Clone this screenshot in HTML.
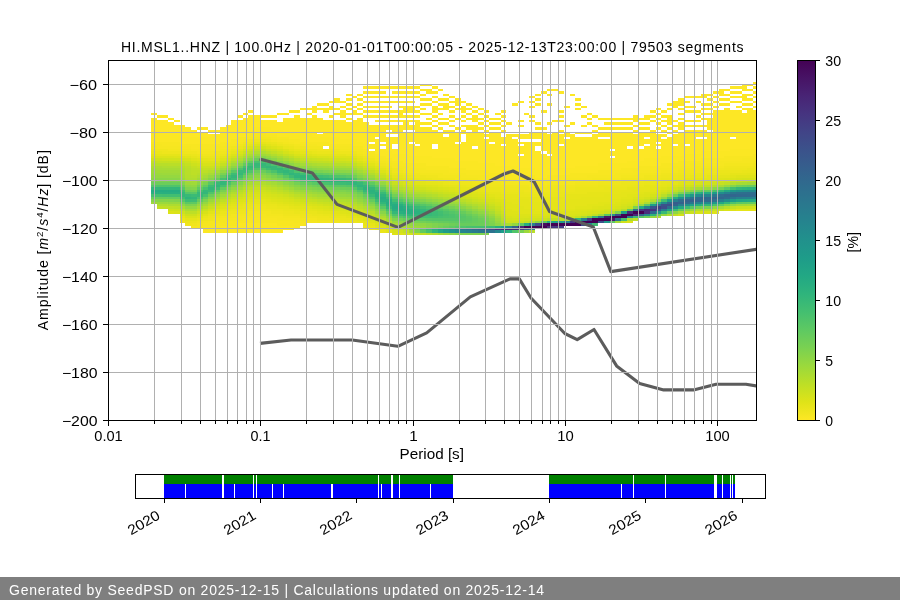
<!DOCTYPE html><html><head><meta charset="utf-8"><style>html,body{margin:0;padding:0;background:#fff;}svg{display:block;will-change:transform;}text{font-family:"Liberation Sans",sans-serif;}</style></head><body>
<svg width="900" height="600" viewBox="0 0 900 600" shape-rendering="crispEdges">
<rect width="900" height="600" fill="#fff"/>
<defs><clipPath id="ax"><rect x="108.0" y="60.0" width="648.0" height="360.0"/></clipPath>
<linearGradient id="cb" x1="0" y1="0" x2="0" y2="1"><stop offset="0" stop-color="#440154"/><stop offset="0.05" stop-color="#471365"/><stop offset="0.1" stop-color="#482475"/><stop offset="0.15" stop-color="#463480"/><stop offset="0.2" stop-color="#414487"/><stop offset="0.25" stop-color="#3b528b"/><stop offset="0.3" stop-color="#355f8d"/><stop offset="0.35" stop-color="#2f6c8e"/><stop offset="0.4" stop-color="#2a788e"/><stop offset="0.45" stop-color="#25848e"/><stop offset="0.5" stop-color="#21918c"/><stop offset="0.55" stop-color="#1e9c89"/><stop offset="0.6" stop-color="#22a884"/><stop offset="0.65" stop-color="#2fb47c"/><stop offset="0.7" stop-color="#44bf70"/><stop offset="0.75" stop-color="#5ec962"/><stop offset="0.8" stop-color="#7ad151"/><stop offset="0.85" stop-color="#9bd93c"/><stop offset="0.9" stop-color="#bddf26"/><stop offset="0.95" stop-color="#dfe318"/><stop offset="1" stop-color="#fde725"/></linearGradient></defs>
<g clip-path="url(#ax)">
<path fill="#fde725" d="M151 112.8h5.73v2.4h-5.73zM151 117.6h5.73v14.4h-5.73zM156.73 115.2h5.73v2.4h-5.73zM156.73 120h5.73v12h-5.73zM162.47 115.2h5.73v2.4h-5.73zM162.47 120h5.73v14.4h-5.73zM168.2 117.6h5.73v2.4h-5.73zM168.2 122.4h5.73v12h-5.73zM173.94 120h5.73v2.4h-5.73zM173.94 124.8h5.73v9.6h-5.73zM179.67 124.8h5.73v9.6h-5.73zM185.4 127.2h5.73v9.6h-5.73zM191.14 129.6h5.73v7.2h-5.73zM196.87 127.2h5.73v2.4h-5.73zM196.87 132h5.73v4.8h-5.73zM202.6 127.2h5.73v2.4h-5.73zM202.6 132h5.73v4.8h-5.73zM208.34 129.6h5.73v2.4h-5.73zM208.34 134.4h5.73v2.4h-5.73zM214.07 129.6h5.73v2.4h-5.73zM219.8 127.2h5.73v7.2h-5.73zM225.54 124.8h5.73v9.6h-5.73zM231.27 120h5.73v12h-5.73zM237 115.2h5.73v2.4h-5.73zM237 120h5.73v12h-5.73zM242.74 112.8h5.73v2.4h-5.73zM242.74 117.6h5.73v12h-5.73zM248.47 110.4h5.73v2.4h-5.73zM248.47 115.2h5.73v14.4h-5.73zM248.47 230.4h5.73v2.4h-5.73zM254.2 115.2h5.73v12h-5.73zM254.2 230.4h5.73v2.4h-5.73zM259.94 115.2h5.73v2.4h-5.73zM259.94 120h5.73v7.2h-5.73zM259.94 230.4h5.73v2.4h-5.73zM265.67 115.2h5.73v2.4h-5.73zM265.67 120h5.73v7.2h-5.73zM265.67 230.4h5.73v2.4h-5.73zM271.4 115.2h5.73v2.4h-5.73zM271.4 120h5.73v9.6h-5.73zM277.14 112.8h5.73v2.4h-5.73zM277.14 122.4h5.73v7.2h-5.73zM282.87 112.8h5.73v2.4h-5.73zM282.87 117.6h5.73v14.4h-5.73zM288.61 110.4h5.73v2.4h-5.73zM288.61 117.6h5.73v14.4h-5.73zM294.34 110.4h5.73v2.4h-5.73zM294.34 115.2h5.73v19.2h-5.73zM300.07 108h5.73v2.4h-5.73zM300.07 117.6h5.73v16.8h-5.73zM305.81 108h5.73v2.4h-5.73zM305.81 112.8h5.73v2.4h-5.73zM305.81 117.6h5.73v16.8h-5.73zM311.54 105.6h5.73v7.2h-5.73zM311.54 115.2h5.73v21.6h-5.73zM317.27 103.2h5.73v2.4h-5.73zM317.27 108h5.73v2.4h-5.73zM317.27 117.6h5.73v14.4h-5.73zM317.27 134.4h5.73v2.4h-5.73zM323.01 103.2h5.73v2.4h-5.73zM323.01 108h5.73v4.8h-5.73zM323.01 120h5.73v16.8h-5.73zM328.74 100.8h5.73v2.4h-5.73zM328.74 105.6h5.73v4.8h-5.73zM328.74 115.2h5.73v2.4h-5.73zM328.74 120h5.73v16.8h-5.73zM334.47 98.4h5.73v4.8h-5.73zM334.47 108h5.73v2.4h-5.73zM334.47 112.8h5.73v2.4h-5.73zM334.47 120h5.73v16.8h-5.73zM340.21 100.8h5.73v2.4h-5.73zM340.21 105.6h5.73v2.4h-5.73zM340.21 110.4h5.73v7.2h-5.73zM340.21 120h5.73v19.2h-5.73zM345.94 93.6h5.73v2.4h-5.73zM345.94 98.4h5.73v2.4h-5.73zM345.94 103.2h5.73v2.4h-5.73zM345.94 108h5.73v2.4h-5.73zM345.94 112.8h5.73v2.4h-5.73zM345.94 117.6h5.73v2.4h-5.73zM345.94 122.4h5.73v16.8h-5.73zM351.67 96h5.73v2.4h-5.73zM351.67 105.6h5.73v2.4h-5.73zM351.67 110.4h5.73v4.8h-5.73zM351.67 120h5.73v19.2h-5.73zM357.41 93.6h5.73v2.4h-5.73zM357.41 98.4h5.73v2.4h-5.73zM357.41 103.2h5.73v2.4h-5.73zM357.41 108h5.73v2.4h-5.73zM357.41 112.8h5.73v2.4h-5.73zM357.41 117.6h5.73v24h-5.73zM363.14 86.4h5.73v2.4h-5.73zM363.14 91.2h5.73v2.4h-5.73zM363.14 96h5.73v2.4h-5.73zM363.14 100.8h5.73v2.4h-5.73zM363.14 105.6h5.73v2.4h-5.73zM363.14 110.4h5.73v2.4h-5.73zM363.14 115.2h5.73v2.4h-5.73zM363.14 122.4h5.73v21.6h-5.73zM368.87 86.4h5.73v2.4h-5.73zM368.87 91.2h5.73v2.4h-5.73zM368.87 96h5.73v2.4h-5.73zM368.87 100.8h5.73v2.4h-5.73zM368.87 105.6h5.73v2.4h-5.73zM368.87 110.4h5.73v2.4h-5.73zM368.87 115.2h5.73v2.4h-5.73zM368.87 124.8h5.73v16.8h-5.73zM374.61 86.4h5.73v2.4h-5.73zM374.61 91.2h5.73v2.4h-5.73zM374.61 96h5.73v2.4h-5.73zM374.61 100.8h5.73v2.4h-5.73zM374.61 105.6h5.73v2.4h-5.73zM374.61 110.4h5.73v2.4h-5.73zM374.61 115.2h5.73v2.4h-5.73zM374.61 120h5.73v2.4h-5.73zM374.61 124.8h5.73v12h-5.73zM374.61 139.2h5.73v7.2h-5.73zM380.34 86.4h5.73v2.4h-5.73zM380.34 91.2h5.73v2.4h-5.73zM380.34 96h5.73v2.4h-5.73zM380.34 100.8h5.73v2.4h-5.73zM380.34 105.6h5.73v2.4h-5.73zM380.34 110.4h5.73v2.4h-5.73zM380.34 115.2h5.73v2.4h-5.73zM380.34 120h5.73v2.4h-5.73zM380.34 124.8h5.73v16.8h-5.73zM380.34 144h5.73v2.4h-5.73zM386.07 86.4h5.73v2.4h-5.73zM386.07 96h5.73v2.4h-5.73zM386.07 100.8h5.73v2.4h-5.73zM386.07 105.6h5.73v2.4h-5.73zM386.07 110.4h5.73v2.4h-5.73zM386.07 115.2h5.73v2.4h-5.73zM386.07 120h5.73v2.4h-5.73zM386.07 124.8h5.73v4.8h-5.73zM386.07 132h5.73v2.4h-5.73zM386.07 136.8h5.73v14.4h-5.73zM391.81 86.4h5.73v2.4h-5.73zM391.81 91.2h5.73v2.4h-5.73zM391.81 96h5.73v2.4h-5.73zM391.81 100.8h5.73v2.4h-5.73zM391.81 110.4h5.73v2.4h-5.73zM391.81 115.2h5.73v2.4h-5.73zM391.81 120h5.73v2.4h-5.73zM391.81 124.8h5.73v9.6h-5.73zM391.81 136.8h5.73v7.2h-5.73zM391.81 148.8h5.73v4.8h-5.73zM397.54 86.4h5.73v2.4h-5.73zM397.54 91.2h5.73v2.4h-5.73zM397.54 96h5.73v2.4h-5.73zM397.54 100.8h5.73v2.4h-5.73zM397.54 105.6h5.73v2.4h-5.73zM397.54 110.4h5.73v7.2h-5.73zM397.54 120h5.73v2.4h-5.73zM397.54 124.8h5.73v28.8h-5.73zM403.27 86.4h5.73v2.4h-5.73zM403.27 91.2h5.73v2.4h-5.73zM403.27 96h5.73v2.4h-5.73zM403.27 100.8h5.73v2.4h-5.73zM403.27 105.6h5.73v7.2h-5.73zM403.27 115.2h5.73v2.4h-5.73zM403.27 120h5.73v9.6h-5.73zM403.27 132h5.73v21.6h-5.73zM409.01 86.4h5.73v2.4h-5.73zM409.01 91.2h5.73v2.4h-5.73zM409.01 96h5.73v2.4h-5.73zM409.01 100.8h5.73v2.4h-5.73zM409.01 105.6h5.73v7.2h-5.73zM409.01 115.2h5.73v2.4h-5.73zM409.01 120h5.73v2.4h-5.73zM409.01 124.8h5.73v4.8h-5.73zM409.01 132h5.73v9.6h-5.73zM409.01 144h5.73v12h-5.73zM414.74 86.4h5.73v2.4h-5.73zM414.74 91.2h5.73v2.4h-5.73zM414.74 96h5.73v2.4h-5.73zM414.74 105.6h5.73v2.4h-5.73zM414.74 110.4h5.73v2.4h-5.73zM414.74 115.2h5.73v2.4h-5.73zM414.74 120h5.73v24h-5.73zM414.74 146.4h5.73v9.6h-5.73zM420.48 84h5.73v2.4h-5.73zM420.48 88.8h5.73v2.4h-5.73zM420.48 93.6h5.73v2.4h-5.73zM420.48 98.4h5.73v2.4h-5.73zM420.48 103.2h5.73v2.4h-5.73zM420.48 108h5.73v2.4h-5.73zM420.48 112.8h5.73v2.4h-5.73zM420.48 122.4h5.73v2.4h-5.73zM420.48 127.2h5.73v28.8h-5.73zM426.21 84h5.73v2.4h-5.73zM426.21 88.8h5.73v4.8h-5.73zM426.21 98.4h5.73v2.4h-5.73zM426.21 103.2h5.73v2.4h-5.73zM426.21 112.8h5.73v2.4h-5.73zM426.21 117.6h5.73v2.4h-5.73zM426.21 122.4h5.73v2.4h-5.73zM426.21 127.2h5.73v28.8h-5.73zM431.94 86.4h5.73v2.4h-5.73zM431.94 91.2h5.73v2.4h-5.73zM431.94 96h5.73v2.4h-5.73zM431.94 100.8h5.73v2.4h-5.73zM431.94 105.6h5.73v7.2h-5.73zM431.94 115.2h5.73v2.4h-5.73zM431.94 120h5.73v2.4h-5.73zM431.94 124.8h5.73v2.4h-5.73zM431.94 129.6h5.73v14.4h-5.73zM431.94 148.8h5.73v9.6h-5.73zM437.68 88.8h5.73v2.4h-5.73zM437.68 98.4h5.73v2.4h-5.73zM437.68 103.2h5.73v2.4h-5.73zM437.68 108h5.73v2.4h-5.73zM437.68 112.8h5.73v2.4h-5.73zM437.68 117.6h5.73v2.4h-5.73zM437.68 122.4h5.73v2.4h-5.73zM437.68 127.2h5.73v2.4h-5.73zM437.68 132h5.73v26.4h-5.73zM443.41 93.6h5.73v2.4h-5.73zM443.41 98.4h5.73v2.4h-5.73zM443.41 103.2h5.73v7.2h-5.73zM443.41 117.6h5.73v2.4h-5.73zM443.41 122.4h5.73v2.4h-5.73zM443.41 129.6h5.73v4.8h-5.73zM443.41 136.8h5.73v21.6h-5.73zM449.14 96h5.73v2.4h-5.73zM449.14 100.8h5.73v2.4h-5.73zM449.14 105.6h5.73v2.4h-5.73zM449.14 110.4h5.73v2.4h-5.73zM449.14 115.2h5.73v2.4h-5.73zM449.14 120h5.73v2.4h-5.73zM449.14 124.8h5.73v2.4h-5.73zM449.14 129.6h5.73v28.8h-5.73zM454.88 98.4h5.73v7.2h-5.73zM454.88 108h5.73v2.4h-5.73zM454.88 117.6h5.73v2.4h-5.73zM454.88 127.2h5.73v2.4h-5.73zM454.88 132h5.73v9.6h-5.73zM454.88 144h5.73v16.8h-5.73zM460.61 100.8h5.73v2.4h-5.73zM460.61 105.6h5.73v7.2h-5.73zM460.61 115.2h5.73v2.4h-5.73zM460.61 120h5.73v2.4h-5.73zM460.61 124.8h5.73v2.4h-5.73zM460.61 129.6h5.73v4.8h-5.73zM460.61 141.6h5.73v19.2h-5.73zM466.34 103.2h5.73v2.4h-5.73zM466.34 108h5.73v2.4h-5.73zM466.34 112.8h5.73v2.4h-5.73zM466.34 117.6h5.73v2.4h-5.73zM466.34 124.8h5.73v4.8h-5.73zM466.34 132h5.73v28.8h-5.73zM472.08 105.6h5.73v2.4h-5.73zM472.08 110.4h5.73v2.4h-5.73zM472.08 115.2h5.73v7.2h-5.73zM472.08 124.8h5.73v21.6h-5.73zM472.08 148.8h5.73v12h-5.73zM477.81 108h5.73v2.4h-5.73zM477.81 112.8h5.73v2.4h-5.73zM477.81 117.6h5.73v2.4h-5.73zM477.81 122.4h5.73v2.4h-5.73zM477.81 127.2h5.73v2.4h-5.73zM477.81 132h5.73v31.2h-5.73zM483.54 110.4h5.73v2.4h-5.73zM483.54 115.2h5.73v2.4h-5.73zM483.54 120h5.73v2.4h-5.73zM483.54 124.8h5.73v2.4h-5.73zM483.54 129.6h5.73v2.4h-5.73zM483.54 134.4h5.73v2.4h-5.73zM483.54 139.2h5.73v24h-5.73zM489.28 117.6h5.73v2.4h-5.73zM489.28 122.4h5.73v2.4h-5.73zM489.28 127.2h5.73v2.4h-5.73zM489.28 132h5.73v9.6h-5.73zM489.28 144h5.73v19.2h-5.73zM495.01 112.8h5.73v2.4h-5.73zM495.01 117.6h5.73v2.4h-5.73zM495.01 122.4h5.73v2.4h-5.73zM495.01 127.2h5.73v2.4h-5.73zM495.01 132h5.73v33.6h-5.73zM500.74 110.4h5.73v2.4h-5.73zM500.74 115.2h5.73v2.4h-5.73zM500.74 120h5.73v2.4h-5.73zM500.74 124.8h5.73v2.4h-5.73zM500.74 129.6h5.73v2.4h-5.73zM500.74 136.8h5.73v7.2h-5.73zM500.74 146.4h5.73v19.2h-5.73zM506.48 122.4h5.73v2.4h-5.73zM506.48 134.4h5.73v31.2h-5.73zM512.21 103.2h5.73v2.4h-5.73zM512.21 134.4h5.73v2.4h-5.73zM512.21 139.2h5.73v26.4h-5.73zM517.94 100.8h5.73v2.4h-5.73zM517.94 120h5.73v2.4h-5.73zM517.94 124.8h5.73v2.4h-5.73zM517.94 134.4h5.73v4.8h-5.73zM517.94 141.6h5.73v2.4h-5.73zM517.94 146.4h5.73v7.2h-5.73zM517.94 156h5.73v12h-5.73zM523.68 112.8h5.73v2.4h-5.73zM523.68 134.4h5.73v4.8h-5.73zM523.68 141.6h5.73v26.4h-5.73zM529.41 96h5.73v2.4h-5.73zM529.41 100.8h5.73v2.4h-5.73zM529.41 105.6h5.73v2.4h-5.73zM529.41 115.2h5.73v2.4h-5.73zM529.41 120h5.73v2.4h-5.73zM529.41 132h5.73v7.2h-5.73zM529.41 141.6h5.73v26.4h-5.73zM535.15 93.6h5.73v2.4h-5.73zM535.15 98.4h5.73v2.4h-5.73zM535.15 103.2h5.73v2.4h-5.73zM535.15 122.4h5.73v2.4h-5.73zM535.15 127.2h5.73v2.4h-5.73zM535.15 132h5.73v7.2h-5.73zM535.15 141.6h5.73v4.8h-5.73zM535.15 151.2h5.73v19.2h-5.73zM540.88 91.2h5.73v2.4h-5.73zM540.88 110.4h5.73v2.4h-5.73zM540.88 127.2h5.73v2.4h-5.73zM540.88 132h5.73v19.2h-5.73zM540.88 153.6h5.73v16.8h-5.73zM546.61 88.8h5.73v2.4h-5.73zM546.61 93.6h5.73v2.4h-5.73zM546.61 103.2h5.73v2.4h-5.73zM546.61 122.4h5.73v2.4h-5.73zM546.61 134.4h5.73v19.2h-5.73zM546.61 156h5.73v12h-5.73zM552.35 88.8h5.73v2.4h-5.73zM552.35 120h5.73v2.4h-5.73zM552.35 132h5.73v36h-5.73zM558.08 91.2h5.73v2.4h-5.73zM558.08 110.4h5.73v2.4h-5.73zM558.08 115.2h5.73v2.4h-5.73zM558.08 120h5.73v2.4h-5.73zM558.08 129.6h5.73v2.4h-5.73zM558.08 134.4h5.73v9.6h-5.73zM558.08 146.4h5.73v21.6h-5.73zM563.81 105.6h5.73v2.4h-5.73zM563.81 124.8h5.73v2.4h-5.73zM563.81 132h5.73v4.8h-5.73zM563.81 139.2h5.73v28.8h-5.73zM569.55 93.6h5.73v2.4h-5.73zM569.55 122.4h5.73v2.4h-5.73zM569.55 134.4h5.73v33.6h-5.73zM575.28 98.4h5.73v2.4h-5.73zM575.28 103.2h5.73v2.4h-5.73zM575.28 108h5.73v2.4h-5.73zM575.28 132h5.73v2.4h-5.73zM575.28 136.8h5.73v28.8h-5.73zM581.01 105.6h5.73v2.4h-5.73zM581.01 115.2h5.73v2.4h-5.73zM581.01 124.8h5.73v2.4h-5.73zM581.01 132h5.73v2.4h-5.73zM581.01 136.8h5.73v28.8h-5.73zM586.75 112.8h5.73v2.4h-5.73zM586.75 117.6h5.73v2.4h-5.73zM586.75 122.4h5.73v2.4h-5.73zM586.75 132h5.73v2.4h-5.73zM586.75 136.8h5.73v28.8h-5.73zM592.48 115.2h5.73v2.4h-5.73zM592.48 124.8h5.73v2.4h-5.73zM592.48 129.6h5.73v2.4h-5.73zM592.48 134.4h5.73v31.2h-5.73zM598.21 117.6h5.73v2.4h-5.73zM598.21 127.2h5.73v2.4h-5.73zM598.21 132h5.73v4.8h-5.73zM598.21 139.2h5.73v24h-5.73zM603.95 117.6h5.73v2.4h-5.73zM603.95 122.4h5.73v2.4h-5.73zM603.95 127.2h5.73v2.4h-5.73zM603.95 132h5.73v4.8h-5.73zM603.95 139.2h5.73v24h-5.73zM609.68 117.6h5.73v2.4h-5.73zM609.68 122.4h5.73v2.4h-5.73zM609.68 127.2h5.73v2.4h-5.73zM609.68 132h5.73v16.8h-5.73zM609.68 151.2h5.73v4.8h-5.73zM609.68 158.4h5.73v4.8h-5.73zM615.41 117.6h5.73v2.4h-5.73zM615.41 122.4h5.73v2.4h-5.73zM615.41 127.2h5.73v2.4h-5.73zM615.41 132h5.73v31.2h-5.73zM621.15 117.6h5.73v2.4h-5.73zM621.15 122.4h5.73v2.4h-5.73zM621.15 127.2h5.73v2.4h-5.73zM621.15 132h5.73v31.2h-5.73zM626.88 117.6h5.73v2.4h-5.73zM626.88 122.4h5.73v2.4h-5.73zM626.88 127.2h5.73v2.4h-5.73zM626.88 132h5.73v14.4h-5.73zM626.88 148.8h5.73v12h-5.73zM632.61 115.2h5.73v7.2h-5.73zM632.61 124.8h5.73v2.4h-5.73zM632.61 129.6h5.73v2.4h-5.73zM632.61 134.4h5.73v26.4h-5.73zM638.35 117.6h5.73v2.4h-5.73zM638.35 122.4h5.73v2.4h-5.73zM638.35 127.2h5.73v2.4h-5.73zM638.35 132h5.73v14.4h-5.73zM638.35 148.8h5.73v12h-5.73zM644.08 115.2h5.73v4.8h-5.73zM644.08 122.4h5.73v2.4h-5.73zM644.08 127.2h5.73v2.4h-5.73zM644.08 132h5.73v4.8h-5.73zM644.08 139.2h5.73v4.8h-5.73zM644.08 146.4h5.73v12h-5.73zM649.82 110.4h5.73v2.4h-5.73zM649.82 115.2h5.73v2.4h-5.73zM649.82 120h5.73v2.4h-5.73zM649.82 129.6h5.73v28.8h-5.73zM655.55 108h5.73v2.4h-5.73zM655.55 112.8h5.73v2.4h-5.73zM655.55 117.6h5.73v2.4h-5.73zM655.55 122.4h5.73v2.4h-5.73zM655.55 127.2h5.73v2.4h-5.73zM655.55 134.4h5.73v7.2h-5.73zM655.55 144h5.73v2.4h-5.73zM655.55 148.8h5.73v9.6h-5.73zM661.28 110.4h5.73v2.4h-5.73zM661.28 115.2h5.73v2.4h-5.73zM661.28 120h5.73v2.4h-5.73zM661.28 124.8h5.73v2.4h-5.73zM661.28 129.6h5.73v2.4h-5.73zM661.28 134.4h5.73v2.4h-5.73zM661.28 139.2h5.73v16.8h-5.73zM667.02 103.2h5.73v2.4h-5.73zM667.02 108h5.73v2.4h-5.73zM667.02 115.2h5.73v9.6h-5.73zM667.02 127.2h5.73v2.4h-5.73zM667.02 132h5.73v2.4h-5.73zM667.02 136.8h5.73v19.2h-5.73zM672.75 100.8h5.73v7.2h-5.73zM672.75 120h5.73v2.4h-5.73zM672.75 124.8h5.73v2.4h-5.73zM672.75 129.6h5.73v2.4h-5.73zM672.75 134.4h5.73v9.6h-5.73zM672.75 146.4h5.73v9.6h-5.73zM678.48 98.4h5.73v7.2h-5.73zM678.48 108h5.73v2.4h-5.73zM678.48 112.8h5.73v2.4h-5.73zM678.48 117.6h5.73v2.4h-5.73zM678.48 122.4h5.73v7.2h-5.73zM678.48 132h5.73v24h-5.73zM684.22 96h5.73v2.4h-5.73zM684.22 100.8h5.73v2.4h-5.73zM684.22 105.6h5.73v2.4h-5.73zM684.22 110.4h5.73v2.4h-5.73zM684.22 120h5.73v2.4h-5.73zM684.22 124.8h5.73v2.4h-5.73zM684.22 129.6h5.73v14.4h-5.73zM684.22 146.4h5.73v7.2h-5.73zM689.95 96h5.73v2.4h-5.73zM689.95 105.6h5.73v2.4h-5.73zM689.95 110.4h5.73v2.4h-5.73zM689.95 120h5.73v2.4h-5.73zM689.95 124.8h5.73v2.4h-5.73zM689.95 129.6h5.73v24h-5.73zM695.68 96h5.73v2.4h-5.73zM695.68 100.8h5.73v2.4h-5.73zM695.68 110.4h5.73v2.4h-5.73zM695.68 115.2h5.73v2.4h-5.73zM695.68 120h5.73v2.4h-5.73zM695.68 124.8h5.73v2.4h-5.73zM695.68 129.6h5.73v7.2h-5.73zM695.68 139.2h5.73v14.4h-5.73zM701.42 93.6h5.73v4.8h-5.73zM701.42 103.2h5.73v2.4h-5.73zM701.42 108h5.73v2.4h-5.73zM701.42 112.8h5.73v2.4h-5.73zM701.42 117.6h5.73v2.4h-5.73zM701.42 124.8h5.73v2.4h-5.73zM701.42 129.6h5.73v7.2h-5.73zM701.42 139.2h5.73v12h-5.73zM707.15 93.6h5.73v2.4h-5.73zM707.15 98.4h5.73v2.4h-5.73zM707.15 103.2h5.73v2.4h-5.73zM707.15 108h5.73v2.4h-5.73zM707.15 112.8h5.73v2.4h-5.73zM707.15 117.6h5.73v12h-5.73zM707.15 132h5.73v19.2h-5.73zM712.88 91.2h5.73v2.4h-5.73zM712.88 96h5.73v2.4h-5.73zM712.88 100.8h5.73v2.4h-5.73zM712.88 105.6h5.73v2.4h-5.73zM712.88 110.4h5.73v40.8h-5.73zM718.62 88.8h5.73v7.2h-5.73zM718.62 98.4h5.73v2.4h-5.73zM718.62 103.2h5.73v2.4h-5.73zM718.62 110.4h5.73v40.8h-5.73zM724.35 88.8h5.73v2.4h-5.73zM724.35 93.6h5.73v2.4h-5.73zM724.35 98.4h5.73v2.4h-5.73zM724.35 103.2h5.73v2.4h-5.73zM724.35 108h5.73v43.2h-5.73zM730.08 86.4h5.73v2.4h-5.73zM730.08 91.2h5.73v2.4h-5.73zM730.08 96h5.73v2.4h-5.73zM730.08 100.8h5.73v2.4h-5.73zM730.08 110.4h5.73v26.4h-5.73zM730.08 139.2h5.73v9.6h-5.73zM735.82 86.4h5.73v2.4h-5.73zM735.82 91.2h5.73v2.4h-5.73zM735.82 96h5.73v2.4h-5.73zM735.82 100.8h5.73v2.4h-5.73zM735.82 105.6h5.73v2.4h-5.73zM735.82 110.4h5.73v38.4h-5.73zM741.55 84h5.73v7.2h-5.73zM741.55 93.6h5.73v7.2h-5.73zM741.55 103.2h5.73v2.4h-5.73zM741.55 108h5.73v2.4h-5.73zM741.55 112.8h5.73v36h-5.73zM747.28 84h5.73v2.4h-5.73zM747.28 88.8h5.73v2.4h-5.73zM747.28 93.6h5.73v2.4h-5.73zM747.28 98.4h5.73v2.4h-5.73zM747.28 103.2h5.73v2.4h-5.73zM747.28 108h5.73v40.8h-5.73zM753.02 81.6h2.98v2.4h-2.98zM753.02 86.4h2.98v2.4h-2.98zM753.02 91.2h2.98v2.4h-2.98zM753.02 96h2.98v2.4h-2.98zM753.02 100.8h2.98v2.4h-2.98zM753.02 105.6h2.98v2.4h-2.98zM753.02 110.4h2.98v38.4h-2.98z"/>
<path fill="#fbe723" d="M151 132h5.73v9.6h-5.73zM156.73 132h5.73v9.6h-5.73zM162.47 134.4h5.73v7.2h-5.73zM168.2 134.4h5.73v7.2h-5.73zM173.94 134.4h5.73v7.2h-5.73zM179.67 134.4h5.73v9.6h-5.73zM185.4 136.8h5.73v7.2h-5.73zM191.14 136.8h5.73v7.2h-5.73zM196.87 136.8h5.73v7.2h-5.73zM202.6 136.8h5.73v7.2h-5.73zM202.6 230.4h5.73v2.4h-5.73zM208.34 136.8h5.73v7.2h-5.73zM208.34 228h5.73v4.8h-5.73zM214.07 134.4h5.73v9.6h-5.73zM214.07 228h5.73v4.8h-5.73zM219.8 134.4h5.73v7.2h-5.73zM219.8 225.6h5.73v7.2h-5.73zM225.54 134.4h5.73v7.2h-5.73zM225.54 225.6h5.73v7.2h-5.73zM231.27 132h5.73v7.2h-5.73zM231.27 225.6h5.73v7.2h-5.73zM237 132h5.73v4.8h-5.73zM237 223.2h5.73v9.6h-5.73zM242.74 129.6h5.73v7.2h-5.73zM242.74 223.2h5.73v9.6h-5.73zM248.47 129.6h5.73v4.8h-5.73zM248.47 223.2h5.73v7.2h-5.73zM254.2 127.2h5.73v4.8h-5.73zM254.2 223.2h5.73v7.2h-5.73zM259.94 127.2h5.73v4.8h-5.73zM259.94 223.2h5.73v7.2h-5.73zM265.67 127.2h5.73v7.2h-5.73zM265.67 223.2h5.73v7.2h-5.73zM271.4 129.6h5.73v4.8h-5.73zM271.4 223.2h5.73v9.6h-5.73zM277.14 129.6h5.73v7.2h-5.73zM277.14 225.6h5.73v7.2h-5.73zM282.87 132h5.73v4.8h-5.73zM282.87 225.6h5.73v4.8h-5.73zM288.61 132h5.73v7.2h-5.73zM288.61 225.6h5.73v4.8h-5.73zM294.34 134.4h5.73v4.8h-5.73zM300.07 134.4h5.73v7.2h-5.73zM305.81 134.4h5.73v7.2h-5.73zM311.54 136.8h5.73v4.8h-5.73zM317.27 136.8h5.73v4.8h-5.73zM323.01 136.8h5.73v4.8h-5.73zM328.74 136.8h5.73v7.2h-5.73zM334.47 136.8h5.73v7.2h-5.73zM340.21 139.2h5.73v4.8h-5.73zM345.94 139.2h5.73v4.8h-5.73zM351.67 139.2h5.73v7.2h-5.73zM357.41 141.6h5.73v4.8h-5.73zM363.14 144h5.73v4.8h-5.73zM368.87 144h5.73v4.8h-5.73zM374.61 146.4h5.73v7.2h-5.73zM380.34 148.8h5.73v7.2h-5.73zM386.07 151.2h5.73v7.2h-5.73zM391.81 153.6h5.73v7.2h-5.73zM397.54 153.6h5.73v7.2h-5.73zM403.27 153.6h5.73v9.6h-5.73zM409.01 156h5.73v7.2h-5.73zM414.74 156h5.73v7.2h-5.73zM420.48 156h5.73v7.2h-5.73zM426.21 156h5.73v9.6h-5.73zM431.94 158.4h5.73v7.2h-5.73zM437.68 158.4h5.73v7.2h-5.73zM443.41 158.4h5.73v7.2h-5.73zM449.14 158.4h5.73v9.6h-5.73zM454.88 160.8h5.73v7.2h-5.73zM460.61 160.8h5.73v7.2h-5.73zM466.34 160.8h5.73v9.6h-5.73zM472.08 160.8h5.73v9.6h-5.73zM477.81 163.2h5.73v7.2h-5.73zM483.54 163.2h5.73v7.2h-5.73zM489.28 163.2h5.73v9.6h-5.73zM495.01 165.6h5.73v7.2h-5.73zM500.74 165.6h5.73v7.2h-5.73zM506.48 165.6h5.73v7.2h-5.73zM512.21 165.6h5.73v9.6h-5.73zM517.94 168h5.73v7.2h-5.73zM523.68 168h5.73v7.2h-5.73zM529.41 168h5.73v7.2h-5.73zM535.15 170.4h5.73v7.2h-5.73zM540.88 170.4h5.73v7.2h-5.73zM546.61 168h5.73v7.2h-5.73zM552.35 168h5.73v7.2h-5.73zM558.08 168h5.73v7.2h-5.73zM563.81 168h5.73v7.2h-5.73zM569.55 168h5.73v4.8h-5.73zM575.28 165.6h5.73v7.2h-5.73zM581.01 165.6h5.73v7.2h-5.73zM586.75 165.6h5.73v7.2h-5.73zM592.48 165.6h5.73v7.2h-5.73zM598.21 163.2h5.73v7.2h-5.73zM603.95 163.2h5.73v7.2h-5.73zM609.68 163.2h5.73v7.2h-5.73zM615.41 163.2h5.73v7.2h-5.73zM621.15 163.2h5.73v4.8h-5.73zM626.88 160.8h5.73v7.2h-5.73zM632.61 160.8h5.73v7.2h-5.73zM638.35 160.8h5.73v4.8h-5.73zM644.08 158.4h5.73v7.2h-5.73zM649.82 158.4h5.73v7.2h-5.73zM655.55 158.4h5.73v7.2h-5.73zM661.28 156h5.73v7.2h-5.73zM667.02 156h5.73v7.2h-5.73zM672.75 156h5.73v7.2h-5.73zM678.48 156h5.73v4.8h-5.73zM684.22 153.6h5.73v7.2h-5.73zM689.95 153.6h5.73v7.2h-5.73zM695.68 153.6h5.73v7.2h-5.73zM701.42 151.2h5.73v7.2h-5.73zM707.15 151.2h5.73v7.2h-5.73zM712.88 151.2h5.73v7.2h-5.73zM718.62 151.2h5.73v7.2h-5.73zM724.35 151.2h5.73v4.8h-5.73zM730.08 148.8h5.73v7.2h-5.73zM735.82 148.8h5.73v7.2h-5.73zM741.55 148.8h5.73v7.2h-5.73zM747.28 148.8h5.73v7.2h-5.73zM753.02 148.8h2.98v4.8h-2.98z"/>
<path fill="#f8e621" d="M151 141.6h5.73v2.4h-5.73zM156.73 141.6h5.73v2.4h-5.73zM162.47 141.6h5.73v4.8h-5.73zM168.2 141.6h5.73v4.8h-5.73zM173.94 141.6h5.73v4.8h-5.73zM179.67 144h5.73v2.4h-5.73zM185.4 144h5.73v2.4h-5.73zM191.14 144h5.73v4.8h-5.73zM196.87 144h5.73v4.8h-5.73zM202.6 144h5.73v4.8h-5.73zM202.6 225.6h5.73v4.8h-5.73zM208.34 144h5.73v4.8h-5.73zM208.34 225.6h5.73v2.4h-5.73zM214.07 144h5.73v2.4h-5.73zM214.07 223.2h5.73v4.8h-5.73zM219.8 141.6h5.73v4.8h-5.73zM219.8 223.2h5.73v2.4h-5.73zM225.54 141.6h5.73v2.4h-5.73zM225.54 220.8h5.73v4.8h-5.73zM231.27 139.2h5.73v4.8h-5.73zM231.27 220.8h5.73v4.8h-5.73zM237 136.8h5.73v4.8h-5.73zM237 220.8h5.73v2.4h-5.73zM242.74 136.8h5.73v2.4h-5.73zM242.74 218.4h5.73v4.8h-5.73zM248.47 134.4h5.73v2.4h-5.73zM248.47 218.4h5.73v4.8h-5.73zM254.2 132h5.73v2.4h-5.73zM254.2 218.4h5.73v4.8h-5.73zM259.94 132h5.73v2.4h-5.73zM259.94 218.4h5.73v4.8h-5.73zM265.67 134.4h5.73v2.4h-5.73zM265.67 218.4h5.73v4.8h-5.73zM271.4 134.4h5.73v2.4h-5.73zM271.4 218.4h5.73v4.8h-5.73zM277.14 136.8h5.73v2.4h-5.73zM277.14 220.8h5.73v4.8h-5.73zM282.87 136.8h5.73v2.4h-5.73zM282.87 220.8h5.73v4.8h-5.73zM288.61 139.2h5.73v2.4h-5.73zM288.61 220.8h5.73v4.8h-5.73zM294.34 139.2h5.73v4.8h-5.73zM294.34 223.2h5.73v4.8h-5.73zM300.07 141.6h5.73v2.4h-5.73zM300.07 223.2h5.73v2.4h-5.73zM305.81 141.6h5.73v2.4h-5.73zM311.54 141.6h5.73v2.4h-5.73zM317.27 141.6h5.73v4.8h-5.73zM323.01 141.6h5.73v4.8h-5.73zM328.74 144h5.73v2.4h-5.73zM334.47 144h5.73v2.4h-5.73zM340.21 144h5.73v2.4h-5.73zM345.94 144h5.73v2.4h-5.73zM351.67 146.4h5.73v2.4h-5.73zM357.41 146.4h5.73v2.4h-5.73zM363.14 148.8h5.73v2.4h-5.73zM368.87 151.2h5.73v2.4h-5.73zM374.61 153.6h5.73v2.4h-5.73zM380.34 156h5.73v2.4h-5.73zM386.07 158.4h5.73v2.4h-5.73zM391.81 160.8h5.73v2.4h-5.73zM397.54 160.8h5.73v4.8h-5.73zM403.27 163.2h5.73v2.4h-5.73zM409.01 163.2h5.73v4.8h-5.73zM414.74 163.2h5.73v4.8h-5.73zM420.48 163.2h5.73v4.8h-5.73zM426.21 165.6h5.73v4.8h-5.73zM431.94 165.6h5.73v4.8h-5.73zM437.68 165.6h5.73v4.8h-5.73zM443.41 165.6h5.73v4.8h-5.73zM449.14 168h5.73v4.8h-5.73zM454.88 168h5.73v4.8h-5.73zM460.61 168h5.73v4.8h-5.73zM466.34 170.4h5.73v4.8h-5.73zM472.08 170.4h5.73v4.8h-5.73zM477.81 170.4h5.73v4.8h-5.73zM483.54 170.4h5.73v4.8h-5.73zM489.28 172.8h5.73v4.8h-5.73zM495.01 172.8h5.73v4.8h-5.73zM500.74 172.8h5.73v4.8h-5.73zM506.48 172.8h5.73v4.8h-5.73zM512.21 175.2h5.73v2.4h-5.73zM517.94 175.2h5.73v4.8h-5.73zM523.68 175.2h5.73v4.8h-5.73zM529.41 175.2h5.73v4.8h-5.73zM535.15 177.6h5.73v2.4h-5.73zM540.88 177.6h5.73v2.4h-5.73zM546.61 175.2h5.73v4.8h-5.73zM552.35 175.2h5.73v4.8h-5.73zM558.08 175.2h5.73v4.8h-5.73zM563.81 175.2h5.73v2.4h-5.73zM569.55 172.8h5.73v4.8h-5.73zM575.28 172.8h5.73v4.8h-5.73zM581.01 172.8h5.73v4.8h-5.73zM586.75 172.8h5.73v2.4h-5.73zM592.48 172.8h5.73v2.4h-5.73zM598.21 170.4h5.73v4.8h-5.73zM603.95 170.4h5.73v4.8h-5.73zM609.68 170.4h5.73v4.8h-5.73zM615.41 170.4h5.73v2.4h-5.73zM621.15 168h5.73v4.8h-5.73zM626.88 168h5.73v4.8h-5.73zM632.61 168h5.73v2.4h-5.73zM638.35 165.6h5.73v4.8h-5.73zM644.08 165.6h5.73v4.8h-5.73zM649.82 165.6h5.73v4.8h-5.73zM655.55 165.6h5.73v2.4h-5.73zM661.28 163.2h5.73v4.8h-5.73zM667.02 163.2h5.73v4.8h-5.73zM672.75 163.2h5.73v2.4h-5.73zM678.48 160.8h5.73v4.8h-5.73zM684.22 160.8h5.73v4.8h-5.73zM689.95 160.8h5.73v2.4h-5.73zM695.68 160.8h5.73v2.4h-5.73zM701.42 158.4h5.73v4.8h-5.73zM707.15 158.4h5.73v4.8h-5.73zM712.88 158.4h5.73v4.8h-5.73zM718.62 158.4h5.73v2.4h-5.73zM724.35 156h5.73v4.8h-5.73zM730.08 156h5.73v4.8h-5.73zM735.82 156h5.73v4.8h-5.73zM741.55 156h5.73v2.4h-5.73zM747.28 156h5.73v2.4h-5.73zM753.02 153.6h2.98v4.8h-2.98z"/>
<path fill="#f6e620" d="M151 144h5.73v2.4h-5.73zM156.73 144h5.73v4.8h-5.73zM162.47 146.4h5.73v2.4h-5.73zM168.2 146.4h5.73v2.4h-5.73zM173.94 146.4h5.73v2.4h-5.73zM179.67 146.4h5.73v2.4h-5.73zM185.4 146.4h5.73v2.4h-5.73zM191.14 148.8h5.73v2.4h-5.73zM191.14 225.6h5.73v2.4h-5.73zM196.87 148.8h5.73v2.4h-5.73zM196.87 225.6h5.73v2.4h-5.73zM202.6 148.8h5.73v2.4h-5.73zM202.6 223.2h5.73v2.4h-5.73zM208.34 148.8h5.73v2.4h-5.73zM208.34 220.8h5.73v4.8h-5.73zM214.07 146.4h5.73v4.8h-5.73zM214.07 220.8h5.73v2.4h-5.73zM219.8 146.4h5.73v2.4h-5.73zM219.8 218.4h5.73v4.8h-5.73zM225.54 144h5.73v2.4h-5.73zM225.54 218.4h5.73v2.4h-5.73zM231.27 144h5.73v2.4h-5.73zM231.27 218.4h5.73v2.4h-5.73zM237 141.6h5.73v2.4h-5.73zM237 216h5.73v4.8h-5.73zM242.74 139.2h5.73v2.4h-5.73zM242.74 216h5.73v2.4h-5.73zM248.47 136.8h5.73v2.4h-5.73zM248.47 216h5.73v2.4h-5.73zM254.2 134.4h5.73v2.4h-5.73zM254.2 213.6h5.73v4.8h-5.73zM259.94 134.4h5.73v2.4h-5.73zM259.94 213.6h5.73v4.8h-5.73zM265.67 216h5.73v2.4h-5.73zM271.4 136.8h5.73v2.4h-5.73zM271.4 216h5.73v2.4h-5.73zM277.14 139.2h5.73v2.4h-5.73zM277.14 216h5.73v4.8h-5.73zM282.87 139.2h5.73v2.4h-5.73zM282.87 218.4h5.73v2.4h-5.73zM288.61 141.6h5.73v2.4h-5.73zM288.61 218.4h5.73v2.4h-5.73zM294.34 218.4h5.73v4.8h-5.73zM300.07 144h5.73v2.4h-5.73zM300.07 220.8h5.73v2.4h-5.73zM305.81 144h5.73v2.4h-5.73zM305.81 220.8h5.73v2.4h-5.73zM311.54 144h5.73v2.4h-5.73zM311.54 220.8h5.73v2.4h-5.73zM328.74 146.4h5.73v2.4h-5.73zM334.47 146.4h5.73v2.4h-5.73zM340.21 146.4h5.73v2.4h-5.73zM345.94 146.4h5.73v2.4h-5.73zM351.67 148.8h5.73v2.4h-5.73zM357.41 148.8h5.73v2.4h-5.73zM363.14 151.2h5.73v2.4h-5.73zM368.87 153.6h5.73v2.4h-5.73zM374.61 156h5.73v2.4h-5.73zM380.34 158.4h5.73v2.4h-5.73zM386.07 160.8h5.73v2.4h-5.73zM391.81 163.2h5.73v4.8h-5.73zM397.54 165.6h5.73v2.4h-5.73zM403.27 165.6h5.73v4.8h-5.73zM409.01 168h5.73v2.4h-5.73zM414.74 168h5.73v2.4h-5.73zM420.48 168h5.73v4.8h-5.73zM426.21 170.4h5.73v2.4h-5.73zM431.94 170.4h5.73v2.4h-5.73zM437.68 170.4h5.73v2.4h-5.73zM443.41 170.4h5.73v4.8h-5.73zM449.14 172.8h5.73v2.4h-5.73zM454.88 172.8h5.73v2.4h-5.73zM460.61 172.8h5.73v4.8h-5.73zM466.34 175.2h5.73v2.4h-5.73zM472.08 175.2h5.73v2.4h-5.73zM477.81 175.2h5.73v4.8h-5.73zM483.54 175.2h5.73v4.8h-5.73zM489.28 177.6h5.73v2.4h-5.73zM495.01 177.6h5.73v2.4h-5.73zM500.74 177.6h5.73v2.4h-5.73zM506.48 177.6h5.73v4.8h-5.73zM512.21 177.6h5.73v4.8h-5.73zM517.94 180h5.73v2.4h-5.73zM523.68 180h5.73v2.4h-5.73zM529.41 180h5.73v2.4h-5.73zM535.15 180h5.73v4.8h-5.73zM540.88 180h5.73v4.8h-5.73zM546.61 180h5.73v2.4h-5.73zM552.35 180h5.73v2.4h-5.73zM558.08 180h5.73v2.4h-5.73zM563.81 177.6h5.73v4.8h-5.73zM569.55 177.6h5.73v2.4h-5.73zM575.28 177.6h5.73v2.4h-5.73zM581.01 177.6h5.73v2.4h-5.73zM586.75 175.2h5.73v4.8h-5.73zM592.48 175.2h5.73v2.4h-5.73zM598.21 175.2h5.73v2.4h-5.73zM603.95 175.2h5.73v2.4h-5.73zM609.68 175.2h5.73v2.4h-5.73zM615.41 172.8h5.73v4.8h-5.73zM621.15 172.8h5.73v2.4h-5.73zM626.88 172.8h5.73v2.4h-5.73zM632.61 170.4h5.73v4.8h-5.73zM638.35 170.4h5.73v2.4h-5.73zM644.08 170.4h5.73v2.4h-5.73zM649.82 170.4h5.73v2.4h-5.73zM655.55 168h5.73v4.8h-5.73zM661.28 168h5.73v2.4h-5.73zM667.02 168h5.73v2.4h-5.73zM672.75 165.6h5.73v4.8h-5.73zM678.48 165.6h5.73v2.4h-5.73zM684.22 165.6h5.73v2.4h-5.73zM689.95 163.2h5.73v4.8h-5.73zM695.68 163.2h5.73v2.4h-5.73zM701.42 163.2h5.73v2.4h-5.73zM707.15 163.2h5.73v2.4h-5.73zM712.88 163.2h5.73v2.4h-5.73zM718.62 160.8h5.73v4.8h-5.73zM724.35 160.8h5.73v2.4h-5.73zM730.08 160.8h5.73v2.4h-5.73zM735.82 160.8h5.73v2.4h-5.73zM741.55 158.4h5.73v4.8h-5.73zM747.28 158.4h5.73v4.8h-5.73zM753.02 158.4h2.98v2.4h-2.98z"/>
<path fill="#f4e61e" d="M151 146.4h5.73v2.4h-5.73zM168.2 148.8h5.73v2.4h-5.73zM173.94 148.8h5.73v2.4h-5.73zM179.67 148.8h5.73v2.4h-5.73zM185.4 148.8h5.73v2.4h-5.73zM196.87 151.2h5.73v2.4h-5.73zM196.87 223.2h5.73v2.4h-5.73zM202.6 151.2h5.73v2.4h-5.73zM202.6 220.8h5.73v2.4h-5.73zM208.34 151.2h5.73v2.4h-5.73zM214.07 218.4h5.73v2.4h-5.73zM219.8 148.8h5.73v2.4h-5.73zM219.8 216h5.73v2.4h-5.73zM225.54 146.4h5.73v2.4h-5.73zM225.54 216h5.73v2.4h-5.73zM231.27 213.6h5.73v4.8h-5.73zM237 213.6h5.73v2.4h-5.73zM242.74 213.6h5.73v2.4h-5.73zM248.47 211.2h5.73v4.8h-5.73zM254.2 136.8h5.73v2.4h-5.73zM254.2 211.2h5.73v2.4h-5.73zM259.94 136.8h5.73v2.4h-5.73zM259.94 211.2h5.73v2.4h-5.73zM265.67 136.8h5.73v2.4h-5.73zM265.67 211.2h5.73v4.8h-5.73zM271.4 139.2h5.73v2.4h-5.73zM271.4 213.6h5.73v2.4h-5.73zM277.14 213.6h5.73v2.4h-5.73zM282.87 141.6h5.73v2.4h-5.73zM282.87 216h5.73v2.4h-5.73zM288.61 216h5.73v2.4h-5.73zM294.34 144h5.73v2.4h-5.73zM294.34 216h5.73v2.4h-5.73zM300.07 218.4h5.73v2.4h-5.73zM305.81 146.4h5.73v2.4h-5.73zM305.81 218.4h5.73v2.4h-5.73zM311.54 146.4h5.73v2.4h-5.73zM311.54 218.4h5.73v2.4h-5.73zM317.27 146.4h5.73v2.4h-5.73zM317.27 220.8h5.73v2.4h-5.73zM323.01 220.8h5.73v2.4h-5.73zM328.74 220.8h5.73v2.4h-5.73zM340.21 148.8h5.73v2.4h-5.73zM345.94 148.8h5.73v2.4h-5.73zM357.41 151.2h5.73v2.4h-5.73zM363.14 153.6h5.73v2.4h-5.73zM368.87 156h5.73v2.4h-5.73zM374.61 158.4h5.73v2.4h-5.73zM380.34 160.8h5.73v2.4h-5.73zM386.07 163.2h5.73v2.4h-5.73zM397.54 168h5.73v2.4h-5.73zM403.27 170.4h5.73v2.4h-5.73zM409.01 170.4h5.73v2.4h-5.73zM414.74 170.4h5.73v2.4h-5.73zM420.48 172.8h5.73v2.4h-5.73zM426.21 172.8h5.73v2.4h-5.73zM431.94 172.8h5.73v2.4h-5.73zM437.68 172.8h5.73v4.8h-5.73zM443.41 175.2h5.73v2.4h-5.73zM449.14 175.2h5.73v2.4h-5.73zM454.88 175.2h5.73v4.8h-5.73zM460.61 177.6h5.73v2.4h-5.73zM466.34 177.6h5.73v2.4h-5.73zM472.08 177.6h5.73v4.8h-5.73zM477.81 180h5.73v2.4h-5.73zM483.54 180h5.73v2.4h-5.73zM489.28 180h5.73v2.4h-5.73zM495.01 180h5.73v2.4h-5.73zM500.74 180h5.73v4.8h-5.73zM506.48 182.4h5.73v2.4h-5.73zM512.21 182.4h5.73v2.4h-5.73zM517.94 182.4h5.73v2.4h-5.73zM523.68 182.4h5.73v2.4h-5.73zM529.41 182.4h5.73v4.8h-5.73zM535.15 184.8h5.73v2.4h-5.73zM540.88 184.8h5.73v2.4h-5.73zM546.61 182.4h5.73v2.4h-5.73zM552.35 182.4h5.73v2.4h-5.73zM558.08 182.4h5.73v2.4h-5.73zM563.81 182.4h5.73v2.4h-5.73zM569.55 180h5.73v4.8h-5.73zM575.28 180h5.73v2.4h-5.73zM581.01 180h5.73v2.4h-5.73zM586.75 180h5.73v2.4h-5.73zM592.48 177.6h5.73v4.8h-5.73zM598.21 177.6h5.73v2.4h-5.73zM603.95 177.6h5.73v2.4h-5.73zM609.68 177.6h5.73v2.4h-5.73zM615.41 177.6h5.73v2.4h-5.73zM621.15 175.2h5.73v2.4h-5.73zM626.88 175.2h5.73v2.4h-5.73zM632.61 175.2h5.73v2.4h-5.73zM638.35 172.8h5.73v4.8h-5.73zM644.08 172.8h5.73v2.4h-5.73zM649.82 172.8h5.73v2.4h-5.73zM655.55 172.8h5.73v2.4h-5.73zM661.28 170.4h5.73v2.4h-5.73zM667.02 170.4h5.73v2.4h-5.73zM672.75 170.4h5.73v2.4h-5.73zM678.48 168h5.73v2.4h-5.73zM684.22 168h5.73v2.4h-5.73zM689.95 168h5.73v2.4h-5.73zM695.68 165.6h5.73v4.8h-5.73zM701.42 165.6h5.73v2.4h-5.73zM707.15 165.6h5.73v2.4h-5.73zM712.88 165.6h5.73v2.4h-5.73zM718.62 165.6h5.73v2.4h-5.73zM724.35 163.2h5.73v2.4h-5.73zM730.08 163.2h5.73v2.4h-5.73zM735.82 163.2h5.73v2.4h-5.73zM741.55 163.2h5.73v2.4h-5.73zM747.28 163.2h5.73v2.4h-5.73zM753.02 160.8h2.98v2.4h-2.98z"/>
<path fill="#f1e51d" d="M151 148.8h5.73v2.4h-5.73zM156.73 148.8h5.73v2.4h-5.73zM162.47 148.8h5.73v2.4h-5.73zM179.67 220.8h5.73v2.4h-5.73zM185.4 151.2h5.73v2.4h-5.73zM185.4 223.2h5.73v2.4h-5.73zM191.14 151.2h5.73v2.4h-5.73zM191.14 223.2h5.73v2.4h-5.73zM196.87 220.8h5.73v2.4h-5.73zM202.6 153.6h5.73v2.4h-5.73zM208.34 153.6h5.73v2.4h-5.73zM208.34 218.4h5.73v2.4h-5.73zM214.07 151.2h5.73v2.4h-5.73zM214.07 216h5.73v2.4h-5.73zM219.8 151.2h5.73v2.4h-5.73zM225.54 148.8h5.73v2.4h-5.73zM225.54 213.6h5.73v2.4h-5.73zM231.27 146.4h5.73v2.4h-5.73zM237 144h5.73v2.4h-5.73zM237 211.2h5.73v2.4h-5.73zM242.74 141.6h5.73v2.4h-5.73zM242.74 211.2h5.73v2.4h-5.73zM248.47 139.2h5.73v2.4h-5.73zM248.47 208.8h5.73v2.4h-5.73zM254.2 208.8h5.73v2.4h-5.73zM259.94 208.8h5.73v2.4h-5.73zM265.67 139.2h5.73v2.4h-5.73zM265.67 208.8h5.73v2.4h-5.73zM271.4 211.2h5.73v2.4h-5.73zM277.14 141.6h5.73v2.4h-5.73zM277.14 211.2h5.73v2.4h-5.73zM282.87 213.6h5.73v2.4h-5.73zM288.61 144h5.73v2.4h-5.73zM288.61 213.6h5.73v2.4h-5.73zM294.34 146.4h5.73v2.4h-5.73zM294.34 213.6h5.73v2.4h-5.73zM300.07 146.4h5.73v2.4h-5.73zM300.07 216h5.73v2.4h-5.73zM305.81 216h5.73v2.4h-5.73zM311.54 216h5.73v2.4h-5.73zM317.27 148.8h5.73v2.4h-5.73zM317.27 218.4h5.73v2.4h-5.73zM323.01 148.8h5.73v2.4h-5.73zM323.01 218.4h5.73v2.4h-5.73zM328.74 148.8h5.73v2.4h-5.73zM328.74 218.4h5.73v2.4h-5.73zM334.47 148.8h5.73v2.4h-5.73zM334.47 220.8h5.73v2.4h-5.73zM340.21 220.8h5.73v2.4h-5.73zM351.67 151.2h5.73v2.4h-5.73zM357.41 153.6h5.73v2.4h-5.73zM380.34 163.2h5.73v2.4h-5.73zM386.07 165.6h5.73v2.4h-5.73zM391.81 168h5.73v2.4h-5.73zM397.54 170.4h5.73v2.4h-5.73zM409.01 172.8h5.73v2.4h-5.73zM414.74 172.8h5.73v2.4h-5.73zM426.21 175.2h5.73v2.4h-5.73zM431.94 175.2h5.73v2.4h-5.73zM443.41 177.6h5.73v2.4h-5.73zM449.14 177.6h5.73v2.4h-5.73zM460.61 180h5.73v2.4h-5.73zM466.34 180h5.73v2.4h-5.73zM472.08 182.4h5.73v2.4h-5.73zM477.81 182.4h5.73v2.4h-5.73zM483.54 182.4h5.73v2.4h-5.73zM489.28 182.4h5.73v2.4h-5.73zM495.01 182.4h5.73v2.4h-5.73zM500.74 184.8h5.73v2.4h-5.73zM506.48 184.8h5.73v2.4h-5.73zM512.21 184.8h5.73v2.4h-5.73zM517.94 184.8h5.73v2.4h-5.73zM523.68 184.8h5.73v2.4h-5.73zM529.41 187.2h5.73v2.4h-5.73zM535.15 187.2h5.73v2.4h-5.73zM540.88 187.2h5.73v2.4h-5.73zM546.61 184.8h5.73v2.4h-5.73zM552.35 184.8h5.73v2.4h-5.73zM558.08 184.8h5.73v2.4h-5.73zM563.81 184.8h5.73v2.4h-5.73zM569.55 184.8h5.73v2.4h-5.73zM575.28 182.4h5.73v2.4h-5.73zM581.01 182.4h5.73v2.4h-5.73zM586.75 182.4h5.73v2.4h-5.73zM592.48 182.4h5.73v2.4h-5.73zM598.21 180h5.73v2.4h-5.73zM603.95 180h5.73v2.4h-5.73zM609.68 180h5.73v2.4h-5.73zM615.41 180h5.73v2.4h-5.73zM621.15 177.6h5.73v2.4h-5.73zM626.88 177.6h5.73v2.4h-5.73zM632.61 177.6h5.73v2.4h-5.73zM638.35 177.6h5.73v2.4h-5.73zM644.08 175.2h5.73v2.4h-5.73zM649.82 175.2h5.73v2.4h-5.73zM655.55 175.2h5.73v2.4h-5.73zM661.28 172.8h5.73v2.4h-5.73zM667.02 172.8h5.73v2.4h-5.73zM672.75 172.8h5.73v2.4h-5.73zM678.48 170.4h5.73v2.4h-5.73zM684.22 170.4h5.73v2.4h-5.73zM689.95 170.4h5.73v2.4h-5.73zM695.68 170.4h5.73v2.4h-5.73zM701.42 168h5.73v2.4h-5.73zM707.15 168h5.73v2.4h-5.73zM712.88 168h5.73v2.4h-5.73zM718.62 168h5.73v2.4h-5.73zM724.35 165.6h5.73v2.4h-5.73zM730.08 165.6h5.73v2.4h-5.73zM735.82 165.6h5.73v2.4h-5.73zM741.55 165.6h5.73v2.4h-5.73zM747.28 165.6h5.73v2.4h-5.73zM753.02 163.2h2.98v2.4h-2.98z"/>
<path fill="#ece51b" d="M151 151.2h5.73v2.4h-5.73zM156.73 151.2h5.73v2.4h-5.73zM179.67 218.4h5.73v2.4h-5.73zM185.4 220.8h5.73v2.4h-5.73zM191.14 153.6h5.73v2.4h-5.73zM191.14 220.8h5.73v2.4h-5.73zM202.6 156h5.73v2.4h-5.73zM208.34 156h5.73v2.4h-5.73zM214.07 213.6h5.73v2.4h-5.73zM219.8 153.6h5.73v2.4h-5.73zM219.8 211.2h5.73v2.4h-5.73zM225.54 151.2h5.73v2.4h-5.73zM231.27 148.8h5.73v2.4h-5.73zM231.27 208.8h5.73v2.4h-5.73zM237 146.4h5.73v2.4h-5.73zM242.74 144h5.73v2.4h-5.73zM242.74 206.4h5.73v2.4h-5.73zM248.47 141.6h5.73v2.4h-5.73zM248.47 206.4h5.73v2.4h-5.73zM254.2 204h5.73v2.4h-5.73zM259.94 204h5.73v2.4h-5.73zM265.67 206.4h5.73v2.4h-5.73zM271.4 141.6h5.73v2.4h-5.73zM271.4 206.4h5.73v2.4h-5.73zM277.14 144h5.73v2.4h-5.73zM282.87 208.8h5.73v2.4h-5.73zM288.61 146.4h5.73v2.4h-5.73zM288.61 208.8h5.73v2.4h-5.73zM294.34 211.2h5.73v2.4h-5.73zM300.07 148.8h5.73v2.4h-5.73zM300.07 211.2h5.73v2.4h-5.73zM311.54 213.6h5.73v2.4h-5.73zM317.27 151.2h5.73v2.4h-5.73zM317.27 213.6h5.73v2.4h-5.73zM323.01 151.2h5.73v2.4h-5.73zM328.74 151.2h5.73v2.4h-5.73zM328.74 216h5.73v2.4h-5.73zM334.47 151.2h5.73v2.4h-5.73zM340.21 218.4h5.73v2.4h-5.73zM345.94 218.4h5.73v2.4h-5.73zM351.67 153.6h5.73v2.4h-5.73zM351.67 220.8h5.73v2.4h-5.73zM368.87 225.6h5.73v2.4h-5.73zM380.34 165.6h5.73v2.4h-5.73zM386.07 168h5.73v2.4h-5.73zM397.54 172.8h5.73v2.4h-5.73zM409.01 175.2h5.73v2.4h-5.73zM420.48 177.6h5.73v2.4h-5.73zM426.21 177.6h5.73v2.4h-5.73zM437.68 180h5.73v2.4h-5.73zM443.41 180h5.73v2.4h-5.73zM449.14 182.4h5.73v2.4h-5.73zM454.88 182.4h5.73v2.4h-5.73zM466.34 184.8h5.73v2.4h-5.73zM472.08 184.8h5.73v2.4h-5.73zM483.54 187.2h5.73v2.4h-5.73zM489.28 187.2h5.73v2.4h-5.73zM495.01 187.2h5.73v2.4h-5.73zM500.74 189.6h5.73v2.4h-5.73zM506.48 189.6h5.73v2.4h-5.73zM512.21 189.6h5.73v2.4h-5.73zM517.94 189.6h5.73v2.4h-5.73zM523.68 192h5.73v2.4h-5.73zM529.41 192h5.73v2.4h-5.73zM535.15 192h5.73v2.4h-5.73zM540.88 192h5.73v2.4h-5.73zM546.61 192h5.73v2.4h-5.73zM552.35 189.6h5.73v2.4h-5.73zM558.08 189.6h5.73v2.4h-5.73zM563.81 189.6h5.73v2.4h-5.73zM569.55 189.6h5.73v2.4h-5.73zM575.28 187.2h5.73v2.4h-5.73zM581.01 187.2h5.73v2.4h-5.73zM586.75 187.2h5.73v2.4h-5.73zM592.48 187.2h5.73v2.4h-5.73zM598.21 184.8h5.73v4.8h-5.73zM603.95 184.8h5.73v2.4h-5.73zM609.68 184.8h5.73v2.4h-5.73zM615.41 184.8h5.73v2.4h-5.73zM621.15 182.4h5.73v4.8h-5.73zM626.88 182.4h5.73v2.4h-5.73zM632.61 182.4h5.73v2.4h-5.73zM638.35 182.4h5.73v2.4h-5.73zM644.08 180h5.73v2.4h-5.73zM649.82 180h5.73v2.4h-5.73zM655.55 180h5.73v2.4h-5.73zM661.28 177.6h5.73v2.4h-5.73zM667.02 177.6h5.73v2.4h-5.73zM672.75 177.6h5.73v2.4h-5.73zM678.48 175.2h5.73v2.4h-5.73zM684.22 175.2h5.73v2.4h-5.73zM695.68 172.8h5.73v2.4h-5.73zM701.42 172.8h5.73v2.4h-5.73zM707.15 172.8h5.73v2.4h-5.73zM712.88 172.8h5.73v2.4h-5.73zM718.62 170.4h5.73v2.4h-5.73zM724.35 170.4h5.73v2.4h-5.73zM730.08 170.4h5.73v2.4h-5.73zM735.82 170.4h5.73v2.4h-5.73zM747.28 168h5.73v2.4h-5.73zM753.02 168h2.98v2.4h-2.98z"/>
<path fill="#e5e419" d="M151 153.6h5.73v2.4h-5.73zM179.67 216h5.73v2.4h-5.73zM185.4 218.4h5.73v2.4h-5.73zM191.14 218.4h5.73v2.4h-5.73zM202.6 158.4h5.73v2.4h-5.73zM214.07 158.4h5.73v2.4h-5.73zM219.8 156h5.73v2.4h-5.73zM225.54 153.6h5.73v2.4h-5.73zM225.54 206.4h5.73v2.4h-5.73zM237 148.8h5.73v2.4h-5.73zM242.74 146.4h5.73v2.4h-5.73zM242.74 201.6h5.73v2.4h-5.73zM248.47 144h5.73v2.4h-5.73zM254.2 199.2h5.73v2.4h-5.73zM259.94 199.2h5.73v2.4h-5.73zM271.4 201.6h5.73v2.4h-5.73zM282.87 204h5.73v2.4h-5.73zM294.34 206.4h5.73v2.4h-5.73zM311.54 208.8h5.73v2.4h-5.73zM317.27 153.6h5.73v2.4h-5.73zM323.01 153.6h5.73v2.4h-5.73zM323.01 211.2h5.73v2.4h-5.73zM328.74 153.6h5.73v2.4h-5.73zM328.74 211.2h5.73v2.4h-5.73zM340.21 213.6h5.73v2.4h-5.73zM351.67 156h5.73v2.4h-5.73zM351.67 216h5.73v2.4h-5.73zM357.41 158.4h5.73v2.4h-5.73zM357.41 218.4h5.73v2.4h-5.73zM374.61 225.6h5.73v2.4h-5.73zM380.34 168h5.73v2.4h-5.73zM380.34 228h5.73v2.4h-5.73zM391.81 175.2h5.73v2.4h-5.73zM403.27 177.6h5.73v2.4h-5.73zM414.74 180h5.73v2.4h-5.73zM426.21 182.4h5.73v2.4h-5.73zM431.94 182.4h5.73v2.4h-5.73zM443.41 184.8h5.73v2.4h-5.73zM466.34 189.6h5.73v2.4h-5.73zM472.08 189.6h5.73v2.4h-5.73zM483.54 192h5.73v2.4h-5.73zM495.01 194.4h5.73v2.4h-5.73zM500.74 196.8h5.73v2.4h-5.73zM506.48 196.8h5.73v4.8h-5.73zM512.21 199.2h5.73v4.8h-5.73zM517.94 199.2h5.73v7.2h-5.73zM523.68 199.2h5.73v9.6h-5.73zM529.41 201.6h5.73v7.2h-5.73zM535.15 201.6h5.73v9.6h-5.73zM540.88 201.6h5.73v7.2h-5.73zM546.61 201.6h5.73v7.2h-5.73zM552.35 201.6h5.73v7.2h-5.73zM558.08 201.6h5.73v7.2h-5.73zM563.81 199.2h5.73v9.6h-5.73zM569.55 199.2h5.73v9.6h-5.73zM575.28 199.2h5.73v7.2h-5.73zM581.01 196.8h5.73v9.6h-5.73zM586.75 196.8h5.73v7.2h-5.73zM592.48 196.8h5.73v7.2h-5.73zM598.21 196.8h5.73v4.8h-5.73zM603.95 194.4h5.73v7.2h-5.73zM609.68 194.4h5.73v4.8h-5.73zM615.41 194.4h5.73v4.8h-5.73zM621.15 192h5.73v4.8h-5.73zM626.88 192h5.73v2.4h-5.73zM632.61 189.6h5.73v4.8h-5.73zM638.35 189.6h5.73v2.4h-5.73zM644.08 189.6h5.73v2.4h-5.73zM649.82 187.2h5.73v2.4h-5.73zM661.28 184.8h5.73v2.4h-5.73zM667.02 182.4h5.73v2.4h-5.73zM672.75 182.4h5.73v2.4h-5.73zM678.48 180h5.73v2.4h-5.73zM684.22 180h5.73v2.4h-5.73zM695.68 177.6h5.73v2.4h-5.73zM701.42 177.6h5.73v2.4h-5.73zM707.15 177.6h5.73v2.4h-5.73zM718.62 175.2h5.73v2.4h-5.73zM724.35 175.2h5.73v2.4h-5.73zM735.82 208.8h5.73v2.4h-5.73zM741.55 208.8h5.73v2.4h-5.73zM747.28 172.8h5.73v2.4h-5.73zM747.28 208.8h5.73v2.4h-5.73zM753.02 172.8h2.98v2.4h-2.98z"/>
<path fill="#dde318" d="M151 156h5.73v2.4h-5.73zM156.73 156h5.73v2.4h-5.73zM162.47 156h5.73v2.4h-5.73zM168.2 156h5.73v2.4h-5.73zM168.2 211.2h5.73v2.4h-5.73zM214.07 160.8h5.73v2.4h-5.73zM219.8 158.4h5.73v2.4h-5.73zM225.54 156h5.73v2.4h-5.73zM231.27 153.6h5.73v2.4h-5.73zM231.27 201.6h5.73v2.4h-5.73zM237 199.2h5.73v2.4h-5.73zM248.47 196.8h5.73v2.4h-5.73zM254.2 144h5.73v2.4h-5.73zM259.94 144h5.73v2.4h-5.73zM265.67 196.8h5.73v2.4h-5.73zM271.4 146.4h5.73v2.4h-5.73zM277.14 199.2h5.73v2.4h-5.73zM288.61 151.2h5.73v2.4h-5.73zM288.61 201.6h5.73v2.4h-5.73zM300.07 153.6h5.73v2.4h-5.73zM300.07 204h5.73v2.4h-5.73zM317.27 206.4h5.73v2.4h-5.73zM328.74 156h5.73v2.4h-5.73zM328.74 208.8h5.73v2.4h-5.73zM334.47 156h5.73v2.4h-5.73zM345.94 211.2h5.73v2.4h-5.73zM351.67 158.4h5.73v2.4h-5.73zM351.67 213.6h5.73v2.4h-5.73zM380.34 170.4h5.73v2.4h-5.73zM380.34 225.6h5.73v2.4h-5.73zM391.81 177.6h5.73v2.4h-5.73zM397.54 232.8h5.73v2.4h-5.73zM426.21 184.8h5.73v2.4h-5.73zM443.41 187.2h5.73v2.4h-5.73zM454.88 189.6h5.73v2.4h-5.73zM466.34 192h5.73v2.4h-5.73zM477.81 194.4h5.73v2.4h-5.73zM489.28 196.8h5.73v2.4h-5.73zM495.01 199.2h5.73v2.4h-5.73zM500.74 201.6h5.73v2.4h-5.73zM506.48 213.6h5.73v2.4h-5.73zM512.21 213.6h5.73v2.4h-5.73zM517.94 213.6h5.73v2.4h-5.73zM523.68 213.6h5.73v2.4h-5.73zM529.41 213.6h5.73v2.4h-5.73zM535.15 213.6h5.73v2.4h-5.73zM540.88 213.6h5.73v2.4h-5.73zM558.08 213.6h5.73v2.4h-5.73zM569.55 211.2h5.73v2.4h-5.73zM575.28 211.2h5.73v2.4h-5.73zM586.75 208.8h5.73v2.4h-5.73zM598.21 206.4h5.73v2.4h-5.73zM603.95 206.4h5.73v2.4h-5.73zM609.68 204h5.73v2.4h-5.73zM615.41 204h5.73v2.4h-5.73zM621.15 201.6h5.73v2.4h-5.73zM626.88 220.8h5.73v2.4h-5.73zM632.61 196.8h5.73v2.4h-5.73zM644.08 194.4h5.73v2.4h-5.73zM649.82 192h5.73v2.4h-5.73zM655.55 189.6h5.73v2.4h-5.73zM672.75 184.8h5.73v2.4h-5.73zM684.22 182.4h5.73v2.4h-5.73zM701.42 180h5.73v2.4h-5.73zM707.15 180h5.73v2.4h-5.73zM724.35 177.6h5.73v2.4h-5.73z"/>
<path fill="#d0e11c" d="M151 158.4h5.73v2.4h-5.73zM156.73 158.4h5.73v2.4h-5.73zM168.2 208.8h5.73v2.4h-5.73zM237 153.6h5.73v2.4h-5.73zM254.2 146.4h5.73v2.4h-5.73zM254.2 189.6h5.73v2.4h-5.73zM259.94 146.4h5.73v2.4h-5.73zM259.94 189.6h5.73v2.4h-5.73zM271.4 148.8h5.73v2.4h-5.73zM288.61 153.6h5.73v2.4h-5.73zM288.61 196.8h5.73v2.4h-5.73zM311.54 201.6h5.73v2.4h-5.73zM323.01 158.4h5.73v2.4h-5.73zM323.01 204h5.73v2.4h-5.73zM340.21 206.4h5.73v2.4h-5.73zM351.67 208.8h5.73v2.4h-5.73zM357.41 163.2h5.73v2.4h-5.73zM357.41 211.2h5.73v2.4h-5.73zM363.14 213.6h5.73v2.4h-5.73zM368.87 168h5.73v2.4h-5.73zM374.61 170.4h5.73v2.4h-5.73zM386.07 225.6h5.73v2.4h-5.73zM397.54 182.4h5.73v2.4h-5.73zM397.54 230.4h5.73v2.4h-5.73zM420.48 187.2h5.73v2.4h-5.73zM431.94 189.6h5.73v2.4h-5.73zM449.14 192h5.73v2.4h-5.73zM477.81 199.2h5.73v2.4h-5.73zM500.74 211.2h5.73v2.4h-5.73zM535.15 218.4h5.73v2.4h-5.73zM569.55 216h5.73v2.4h-5.73zM586.75 213.6h5.73v2.4h-5.73zM621.15 220.8h5.73v2.4h-5.73zM667.02 189.6h5.73v2.4h-5.73zM718.62 208.8h5.73v2.4h-5.73zM747.28 206.4h5.73v2.4h-5.73z"/>
<path fill="#c2df23" d="M151 160.8h5.73v2.4h-5.73zM156.73 206.4h5.73v2.4h-5.73zM196.87 168h5.73v2.4h-5.73zM208.34 168h5.73v2.4h-5.73zM231.27 158.4h5.73v2.4h-5.73zM242.74 189.6h5.73v2.4h-5.73zM254.2 148.8h5.73v2.4h-5.73zM259.94 148.8h5.73v2.4h-5.73zM265.67 187.2h5.73v2.4h-5.73zM271.4 151.2h5.73v2.4h-5.73zM282.87 192h5.73v2.4h-5.73zM288.61 156h5.73v2.4h-5.73zM300.07 196.8h5.73v2.4h-5.73zM323.01 160.8h5.73v2.4h-5.73zM345.94 204h5.73v2.4h-5.73zM357.41 165.6h5.73v2.4h-5.73zM368.87 170.4h5.73v2.4h-5.73zM368.87 213.6h5.73v2.4h-5.73zM374.61 172.8h5.73v2.4h-5.73zM386.07 223.2h5.73v2.4h-5.73zM397.54 228h5.73v2.4h-5.73zM431.94 192h5.73v2.4h-5.73zM443.41 194.4h5.73v2.4h-5.73zM466.34 199.2h5.73v2.4h-5.73zM483.54 204h5.73v2.4h-5.73zM489.28 206.4h5.73v2.4h-5.73zM500.74 216h5.73v2.4h-5.73zM523.68 220.8h5.73v2.4h-5.73zM546.61 218.4h5.73v2.4h-5.73zM592.48 213.6h5.73v2.4h-5.73zM672.75 189.6h5.73v2.4h-5.73zM672.75 213.6h5.73v2.4h-5.73zM747.28 180h5.73v2.4h-5.73zM753.02 180h2.98v2.4h-2.98z"/>
<path fill="#b8de29" d="M151 163.2h5.73v2.4h-5.73zM156.73 163.2h5.73v2.4h-5.73zM162.47 163.2h5.73v2.4h-5.73zM185.4 170.4h5.73v4.8h-5.73zM191.14 175.2h5.73v2.4h-5.73zM196.87 172.8h5.73v2.4h-5.73zM214.07 168h5.73v2.4h-5.73zM242.74 187.2h5.73v2.4h-5.73zM265.67 184.8h5.73v2.4h-5.73zM282.87 156h5.73v2.4h-5.73zM282.87 189.6h5.73v2.4h-5.73zM311.54 196.8h5.73v2.4h-5.73zM328.74 199.2h5.73v2.4h-5.73zM334.47 163.2h5.73v2.4h-5.73zM345.94 201.6h5.73v2.4h-5.73zM351.67 165.6h5.73v2.4h-5.73zM368.87 211.2h5.73v2.4h-5.73zM380.34 177.6h5.73v2.4h-5.73zM397.54 187.2h5.73v2.4h-5.73zM403.27 228h5.73v2.4h-5.73zM420.48 192h5.73v2.4h-5.73zM466.34 201.6h5.73v2.4h-5.73zM483.54 206.4h5.73v2.4h-5.73zM489.28 208.8h5.73v2.4h-5.73zM529.41 230.4h5.73v2.4h-5.73zM621.15 208.8h5.73v2.4h-5.73zM701.42 208.8h5.73v2.4h-5.73zM707.15 208.8h5.73v2.4h-5.73zM724.35 206.4h5.73v2.4h-5.73z"/>
<path fill="#addc30" d="M151 165.6h5.73v2.4h-5.73zM156.73 165.6h5.73v2.4h-5.73zM168.2 204h5.73v2.4h-5.73zM173.94 204h5.73v2.4h-5.73zM179.67 170.4h5.73v2.4h-5.73zM208.34 201.6h5.73v2.4h-5.73zM242.74 156h5.73v2.4h-5.73zM248.47 153.6h5.73v2.4h-5.73zM288.61 189.6h5.73v2.4h-5.73zM294.34 160.8h5.73v2.4h-5.73zM311.54 163.2h5.73v2.4h-5.73zM345.94 165.6h5.73v2.4h-5.73zM345.94 199.2h5.73v2.4h-5.73zM380.34 216h5.73v2.4h-5.73zM391.81 187.2h5.73v2.4h-5.73zM403.27 225.6h5.73v2.4h-5.73zM409.01 192h5.73v2.4h-5.73zM437.68 196.8h5.73v2.4h-5.73zM460.61 201.6h5.73v2.4h-5.73zM581.01 216h5.73v2.4h-5.73zM626.88 218.4h5.73v2.4h-5.73z"/>
<path fill="#a5db36" d="M151 168h5.73v2.4h-5.73zM196.87 177.6h5.73v2.4h-5.73zM214.07 170.4h5.73v2.4h-5.73zM219.8 168h5.73v2.4h-5.73zM237 187.2h5.73v2.4h-5.73zM271.4 182.4h5.73v2.4h-5.73zM300.07 163.2h5.73v2.4h-5.73zM317.27 194.4h5.73v2.4h-5.73zM328.74 165.6h5.73v2.4h-5.73zM357.41 170.4h5.73v2.4h-5.73zM374.61 177.6h5.73v2.4h-5.73zM443.41 199.2h5.73v2.4h-5.73zM472.08 206.4h5.73v2.4h-5.73zM672.75 192h5.73v2.4h-5.73zM741.55 182.4h5.73v2.4h-5.73zM747.28 204h5.73v2.4h-5.73z"/>
<path fill="#a0da39" d="M151 170.4h5.73v2.4h-5.73zM179.67 177.6h5.73v2.4h-5.73zM191.14 182.4h5.73v2.4h-5.73zM219.8 194.4h5.73v2.4h-5.73zM231.27 163.2h5.73v2.4h-5.73zM254.2 153.6h5.73v2.4h-5.73zM259.94 153.6h5.73v2.4h-5.73zM265.67 180h5.73v2.4h-5.73zM271.4 156h5.73v2.4h-5.73zM288.61 187.2h5.73v2.4h-5.73zM317.27 165.6h5.73v2.4h-5.73zM345.94 196.8h5.73v2.4h-5.73zM363.14 204h5.73v2.4h-5.73zM426.21 196.8h5.73v2.4h-5.73zM477.81 208.8h5.73v2.4h-5.73zM495.01 218.4h5.73v2.4h-5.73zM500.74 223.2h5.73v2.4h-5.73zM701.42 187.2h5.73v2.4h-5.73zM735.82 204h5.73v2.4h-5.73zM753.02 182.4h2.98v2.4h-2.98z"/>
<path fill="#9bd93c" d="M151 172.8h5.73v2.4h-5.73zM156.73 172.8h5.73v2.4h-5.73zM156.73 201.6h5.73v2.4h-5.73zM162.47 201.6h5.73v2.4h-5.73zM202.6 177.6h5.73v2.4h-5.73zM208.34 199.2h5.73v2.4h-5.73zM242.74 182.4h5.73v2.4h-5.73zM248.47 156h5.73v2.4h-5.73zM248.47 180h5.73v2.4h-5.73zM254.2 177.6h5.73v2.4h-5.73zM259.94 177.6h5.73v2.4h-5.73zM277.14 158.4h5.73v2.4h-5.73zM277.14 182.4h5.73v2.4h-5.73zM294.34 163.2h5.73v2.4h-5.73zM300.07 189.6h5.73v2.4h-5.73zM334.47 194.4h5.73v2.4h-5.73zM340.21 168h5.73v2.4h-5.73zM368.87 206.4h5.73v2.4h-5.73zM380.34 213.6h5.73v2.4h-5.73zM391.81 189.6h5.73v2.4h-5.73zM403.27 223.2h5.73v2.4h-5.73zM409.01 194.4h5.73v2.4h-5.73zM449.14 201.6h5.73v2.4h-5.73zM483.54 211.2h5.73v2.4h-5.73zM667.02 194.4h5.73v2.4h-5.73zM684.22 189.6h5.73v2.4h-5.73z"/>
<path fill="#95d840" d="M151 175.2h5.73v2.4h-5.73zM156.73 175.2h5.73v2.4h-5.73zM162.47 175.2h5.73v2.4h-5.73zM168.2 175.2h5.73v2.4h-5.73zM173.94 175.2h5.73v2.4h-5.73zM185.4 206.4h5.73v2.4h-5.73zM191.14 206.4h5.73v2.4h-5.73zM202.6 201.6h5.73v2.4h-5.73zM214.07 172.8h5.73v2.4h-5.73zM265.67 156h5.73v2.4h-5.73zM305.81 189.6h5.73v2.4h-5.73zM328.74 168h5.73v2.4h-5.73zM340.21 194.4h5.73v2.4h-5.73zM351.67 196.8h5.73v2.4h-5.73zM357.41 172.8h5.73v2.4h-5.73zM357.41 199.2h5.73v2.4h-5.73zM380.34 182.4h5.73v2.4h-5.73zM397.54 192h5.73v2.4h-5.73zM420.48 225.6h5.73v2.4h-5.73zM431.94 199.2h5.73v2.4h-5.73zM649.82 216h5.73v2.4h-5.73zM730.08 204h5.73v2.4h-5.73z"/>
<path fill="#8bd646" d="M151 177.6h5.73v2.4h-5.73zM156.73 177.6h5.73v2.4h-5.73zM162.47 177.6h5.73v2.4h-5.73zM168.2 177.6h5.73v2.4h-5.73zM173.94 177.6h5.73v2.4h-5.73zM196.87 182.4h5.73v2.4h-5.73zM202.6 180h5.73v2.4h-5.73zM214.07 194.4h5.73v2.4h-5.73zM271.4 158.4h5.73v2.4h-5.73zM277.14 180h5.73v2.4h-5.73zM300.07 187.2h5.73v2.4h-5.73zM311.54 168h5.73v2.4h-5.73zM340.21 170.4h5.73v2.4h-5.73zM340.21 192h5.73v2.4h-5.73zM368.87 204h5.73v2.4h-5.73zM397.54 220.8h5.73v2.4h-5.73zM437.68 201.6h5.73v2.4h-5.73zM460.61 206.4h5.73v2.4h-5.73zM712.88 187.2h5.73v2.4h-5.73z"/>
<path fill="#7cd250" d="M151 180h5.73v2.4h-5.73zM156.73 180h5.73v2.4h-5.73zM162.47 180h5.73v2.4h-5.73zM168.2 180h5.73v2.4h-5.73zM173.94 180h5.73v2.4h-5.73zM185.4 204h5.73v2.4h-5.73zM219.8 172.8h5.73v2.4h-5.73zM282.87 163.2h5.73v2.4h-5.73zM300.07 184.8h5.73v2.4h-5.73zM317.27 187.2h5.73v2.4h-5.73zM351.67 192h5.73v2.4h-5.73zM357.41 194.4h5.73v2.4h-5.73zM414.74 199.2h5.73v2.4h-5.73zM489.28 223.2h5.73v2.4h-5.73zM632.61 206.4h5.73v2.4h-5.73zM701.42 206.4h5.73v2.4h-5.73zM707.15 206.4h5.73v2.4h-5.73z"/>
<path fill="#6ccd5a" d="M151 182.4h5.73v2.4h-5.73zM156.73 182.4h5.73v2.4h-5.73zM162.47 182.4h5.73v2.4h-5.73zM168.2 182.4h5.73v2.4h-5.73zM173.94 182.4h5.73v2.4h-5.73zM208.34 194.4h5.73v2.4h-5.73zM231.27 182.4h5.73v2.4h-5.73zM237 165.6h5.73v2.4h-5.73zM248.47 172.8h5.73v2.4h-5.73zM254.2 158.4h5.73v2.4h-5.73zM254.2 170.4h5.73v2.4h-5.73zM259.94 158.4h5.73v2.4h-5.73zM259.94 170.4h5.73v2.4h-5.73zM277.14 175.2h5.73v2.4h-5.73zM305.81 170.4h5.73v2.4h-5.73zM345.94 187.2h5.73v2.4h-5.73zM351.67 189.6h5.73v2.4h-5.73zM357.41 177.6h5.73v2.4h-5.73zM357.41 192h5.73v2.4h-5.73zM431.94 204h5.73v2.4h-5.73zM443.41 206.4h5.73v2.4h-5.73zM454.88 208.8h5.73v2.4h-5.73zM477.81 218.4h5.73v2.4h-5.73zM477.81 223.2h5.73v2.4h-5.73zM747.28 184.8h5.73v2.4h-5.73z"/>
<path fill="#52c569" d="M151 184.8h5.73v2.4h-5.73zM248.47 170.4h5.73v2.4h-5.73zM351.67 177.6h5.73v2.4h-5.73zM397.54 199.2h5.73v2.4h-5.73zM454.88 213.6h5.73v2.4h-5.73z"/>
<path fill="#34b679" d="M151 187.2h5.73v2.4h-5.73zM156.73 187.2h5.73v2.4h-5.73zM162.47 187.2h5.73v2.4h-5.73zM168.2 187.2h5.73v2.4h-5.73zM179.67 194.4h5.73v2.4h-5.73zM202.6 192h5.73v2.4h-5.73zM208.34 187.2h5.73v2.4h-5.73zM214.07 184.8h5.73v2.4h-5.73zM219.8 180h5.73v2.4h-5.73zM231.27 175.2h5.73v2.4h-5.73zM265.67 165.6h5.73v2.4h-5.73zM277.14 168h5.73v2.4h-5.73zM323.01 180h5.73v2.4h-5.73zM334.47 177.6h5.73v2.4h-5.73zM363.14 184.8h5.73v2.4h-5.73zM368.87 187.2h5.73v2.4h-5.73zM386.07 206.4h5.73v2.4h-5.73zM420.48 208.8h5.73v2.4h-5.73zM420.48 213.6h5.73v2.4h-5.73zM575.28 218.4h5.73v2.4h-5.73zM735.82 187.2h5.73v2.4h-5.73z"/>
<path fill="#25ac82" d="M151 189.6h5.73v2.4h-5.73zM156.73 189.6h5.73v2.4h-5.73zM162.47 189.6h5.73v2.4h-5.73zM168.2 189.6h5.73v2.4h-5.73zM173.94 189.6h5.73v2.4h-5.73zM403.27 208.8h5.73v2.4h-5.73z"/>
<path fill="#2ab07f" d="M151 192h5.73v2.4h-5.73zM156.73 192h5.73v2.4h-5.73zM374.61 192h5.73v2.4h-5.73zM397.54 211.2h5.73v2.4h-5.73zM495.01 225.6h5.73v2.4h-5.73zM655.55 201.6h5.73v2.4h-5.73z"/>
<path fill="#44bf70" d="M151 194.4h5.73v2.4h-5.73zM156.73 194.4h5.73v2.4h-5.73zM237 175.2h5.73v2.4h-5.73zM380.34 204h5.73v2.4h-5.73zM409.01 216h5.73v2.4h-5.73zM431.94 208.8h5.73v2.4h-5.73zM477.81 225.6h5.73v2.4h-5.73zM621.15 218.4h5.73v2.4h-5.73z"/>
<path fill="#67cc5c" d="M151 196.8h5.73v2.4h-5.73zM156.73 196.8h5.73v2.4h-5.73zM162.47 196.8h5.73v2.4h-5.73zM225.54 184.8h5.73v2.4h-5.73zM271.4 172.8h5.73v2.4h-5.73zM277.14 163.2h5.73v2.4h-5.73zM380.34 187.2h5.73v2.4h-5.73zM391.81 216h5.73v2.4h-5.73zM403.27 218.4h5.73v2.4h-5.73zM460.61 211.2h5.73v2.4h-5.73zM460.61 223.2h5.73v2.4h-5.73zM466.34 213.6h5.73v2.4h-5.73zM466.34 223.2h5.73v2.4h-5.73zM667.02 211.2h5.73v2.4h-5.73zM678.48 208.8h5.73v2.4h-5.73zM753.02 184.8h2.98v2.4h-2.98zM753.02 201.6h2.98v2.4h-2.98z"/>
<path fill="#86d549" d="M151 199.2h5.73v2.4h-5.73zM208.34 177.6h5.73v2.4h-5.73zM237 163.2h5.73v2.4h-5.73zM237 182.4h5.73v2.4h-5.73zM294.34 184.8h5.73v2.4h-5.73zM305.81 187.2h5.73v2.4h-5.73zM323.01 189.6h5.73v2.4h-5.73zM334.47 170.4h5.73v2.4h-5.73zM345.94 192h5.73v2.4h-5.73zM351.67 172.8h5.73v2.4h-5.73zM363.14 199.2h5.73v2.4h-5.73zM426.21 223.2h5.73v2.4h-5.73zM454.88 232.8h5.73v2.4h-5.73zM466.34 208.8h5.73v2.4h-5.73zM489.28 218.4h5.73v2.4h-5.73z"/>
<path fill="#9dd93b" d="M151 201.6h5.73v2.4h-5.73zM162.47 172.8h5.73v2.4h-5.73zM168.2 172.8h5.73v2.4h-5.73zM173.94 172.8h5.73v2.4h-5.73zM185.4 182.4h5.73v2.4h-5.73zM214.07 196.8h5.73v2.4h-5.73zM237 160.8h5.73v2.4h-5.73zM282.87 184.8h5.73v2.4h-5.73zM311.54 165.6h5.73v2.4h-5.73zM311.54 192h5.73v2.4h-5.73zM328.74 194.4h5.73v2.4h-5.73zM345.94 168h5.73v2.4h-5.73zM414.74 225.6h5.73v2.4h-5.73zM437.68 199.2h5.73v2.4h-5.73zM460.61 204h5.73v2.4h-5.73zM489.28 213.6h5.73v2.4h-5.73zM523.68 230.4h5.73v2.4h-5.73zM638.35 204h5.73v2.4h-5.73zM689.95 208.8h5.73v2.4h-5.73zM707.15 187.2h5.73v2.4h-5.73z"/>
<path fill="#e7e419" d="M156.73 153.6h5.73v2.4h-5.73zM162.47 153.6h5.73v2.4h-5.73zM168.2 153.6h5.73v2.4h-5.73zM173.94 153.6h5.73v2.4h-5.73zM191.14 156h5.73v2.4h-5.73zM208.34 158.4h5.73v2.4h-5.73zM214.07 211.2h5.73v2.4h-5.73zM219.8 208.8h5.73v2.4h-5.73zM231.27 151.2h5.73v2.4h-5.73zM231.27 206.4h5.73v2.4h-5.73zM237 204h5.73v2.4h-5.73zM248.47 201.6h5.73v2.4h-5.73zM254.2 141.6h5.73v2.4h-5.73zM254.2 201.6h5.73v2.4h-5.73zM259.94 141.6h5.73v2.4h-5.73zM259.94 201.6h5.73v2.4h-5.73zM265.67 201.6h5.73v2.4h-5.73zM271.4 144h5.73v2.4h-5.73zM277.14 204h5.73v2.4h-5.73zM288.61 148.8h5.73v2.4h-5.73zM288.61 206.4h5.73v2.4h-5.73zM300.07 151.2h5.73v2.4h-5.73zM300.07 208.8h5.73v2.4h-5.73zM305.81 151.2h5.73v2.4h-5.73zM305.81 208.8h5.73v2.4h-5.73zM317.27 211.2h5.73v2.4h-5.73zM334.47 153.6h5.73v2.4h-5.73zM334.47 213.6h5.73v2.4h-5.73zM340.21 153.6h5.73v2.4h-5.73zM345.94 216h5.73v2.4h-5.73zM363.14 220.8h5.73v2.4h-5.73zM368.87 223.2h5.73v2.4h-5.73zM386.07 170.4h5.73v2.4h-5.73zM397.54 175.2h5.73v2.4h-5.73zM409.01 177.6h5.73v2.4h-5.73zM420.48 180h5.73v2.4h-5.73zM437.68 182.4h5.73v2.4h-5.73zM449.14 184.8h5.73v2.4h-5.73zM454.88 184.8h5.73v2.4h-5.73zM460.61 187.2h5.73v2.4h-5.73zM466.34 187.2h5.73v2.4h-5.73zM477.81 189.6h5.73v2.4h-5.73zM489.28 192h5.73v2.4h-5.73zM495.01 192h5.73v2.4h-5.73zM500.74 194.4h5.73v2.4h-5.73zM506.48 194.4h5.73v2.4h-5.73zM512.21 194.4h5.73v4.8h-5.73zM517.94 196.8h5.73v2.4h-5.73zM523.68 196.8h5.73v2.4h-5.73zM529.41 196.8h5.73v4.8h-5.73zM535.15 196.8h5.73v4.8h-5.73zM540.88 196.8h5.73v4.8h-5.73zM546.61 196.8h5.73v4.8h-5.73zM552.35 196.8h5.73v4.8h-5.73zM558.08 196.8h5.73v4.8h-5.73zM563.81 194.4h5.73v4.8h-5.73zM569.55 194.4h5.73v4.8h-5.73zM575.28 194.4h5.73v4.8h-5.73zM581.01 194.4h5.73v2.4h-5.73zM586.75 192h5.73v4.8h-5.73zM592.48 192h5.73v4.8h-5.73zM598.21 192h5.73v4.8h-5.73zM603.95 192h5.73v2.4h-5.73zM609.68 189.6h5.73v4.8h-5.73zM615.41 189.6h5.73v4.8h-5.73zM621.15 189.6h5.73v2.4h-5.73zM626.88 187.2h5.73v4.8h-5.73zM632.61 187.2h5.73v2.4h-5.73zM638.35 187.2h5.73v2.4h-5.73zM644.08 184.8h5.73v4.8h-5.73zM649.82 184.8h5.73v2.4h-5.73zM655.55 184.8h5.73v2.4h-5.73zM661.28 182.4h5.73v2.4h-5.73zM672.75 180h5.73v2.4h-5.73zM684.22 177.6h5.73v2.4h-5.73zM689.95 177.6h5.73v2.4h-5.73zM707.15 175.2h5.73v2.4h-5.73zM712.88 175.2h5.73v2.4h-5.73zM730.08 172.8h5.73v2.4h-5.73zM735.82 172.8h5.73v2.4h-5.73zM741.55 172.8h5.73v2.4h-5.73zM753.02 208.8h2.98v2.4h-2.98z"/>
<path fill="#c5e021" d="M156.73 160.8h5.73v2.4h-5.73zM162.47 160.8h5.73v2.4h-5.73zM168.2 160.8h5.73v2.4h-5.73zM173.94 160.8h5.73v2.4h-5.73zM185.4 163.2h5.73v2.4h-5.73zM191.14 165.6h5.73v2.4h-5.73zM202.6 168h5.73v2.4h-5.73zM214.07 165.6h5.73v2.4h-5.73zM219.8 163.2h5.73v2.4h-5.73zM225.54 160.8h5.73v2.4h-5.73zM271.4 189.6h5.73v2.4h-5.73zM288.61 194.4h5.73v2.4h-5.73zM300.07 158.4h5.73v2.4h-5.73zM311.54 199.2h5.73v2.4h-5.73zM328.74 160.8h5.73v2.4h-5.73zM328.74 201.6h5.73v2.4h-5.73zM351.67 163.2h5.73v2.4h-5.73zM351.67 206.4h5.73v2.4h-5.73zM357.41 208.8h5.73v2.4h-5.73zM363.14 211.2h5.73v2.4h-5.73zM397.54 184.8h5.73v2.4h-5.73zM403.27 230.4h5.73v2.4h-5.73zM420.48 189.6h5.73v2.4h-5.73zM420.48 232.8h5.73v2.4h-5.73zM449.14 194.4h5.73v2.4h-5.73zM477.81 201.6h5.73v2.4h-5.73zM575.28 216h5.73v2.4h-5.73zM632.61 204h5.73v2.4h-5.73zM695.68 184.8h5.73v2.4h-5.73zM712.88 208.8h5.73v2.4h-5.73zM718.62 182.4h5.73v2.4h-5.73zM730.08 206.4h5.73v2.4h-5.73zM741.55 180h5.73v2.4h-5.73z"/>
<path fill="#a8db34" d="M156.73 168h5.73v2.4h-5.73zM162.47 168h5.73v2.4h-5.73zM168.2 168h5.73v2.4h-5.73zM173.94 168h5.73v2.4h-5.73zM179.67 175.2h5.73v2.4h-5.73zM179.67 206.4h5.73v2.4h-5.73zM202.6 175.2h5.73v2.4h-5.73zM202.6 204h5.73v2.4h-5.73zM208.34 172.8h5.73v2.4h-5.73zM248.47 182.4h5.73v2.4h-5.73zM254.2 180h5.73v2.4h-5.73zM259.94 180h5.73v2.4h-5.73zM265.67 153.6h5.73v2.4h-5.73zM277.14 184.8h5.73v2.4h-5.73zM282.87 158.4h5.73v2.4h-5.73zM300.07 192h5.73v2.4h-5.73zM305.81 163.2h5.73v2.4h-5.73zM334.47 165.6h5.73v2.4h-5.73zM334.47 196.8h5.73v2.4h-5.73zM351.67 168h5.73v2.4h-5.73zM380.34 180h5.73v2.4h-5.73zM397.54 189.6h5.73v2.4h-5.73zM431.94 196.8h5.73v2.4h-5.73zM466.34 204h5.73v2.4h-5.73zM695.68 187.2h5.73v2.4h-5.73zM718.62 184.8h5.73v2.4h-5.73zM718.62 206.4h5.73v2.4h-5.73zM735.82 182.4h5.73v2.4h-5.73zM753.02 204h2.98v2.4h-2.98z"/>
<path fill="#a2da37" d="M156.73 170.4h5.73v2.4h-5.73zM162.47 170.4h5.73v2.4h-5.73zM168.2 170.4h5.73v2.4h-5.73zM173.94 170.4h5.73v2.4h-5.73zM225.54 165.6h5.73v2.4h-5.73zM225.54 192h5.73v2.4h-5.73zM231.27 189.6h5.73v2.4h-5.73zM288.61 160.8h5.73v2.4h-5.73zM294.34 189.6h5.73v2.4h-5.73zM305.81 192h5.73v2.4h-5.73zM323.01 165.6h5.73v2.4h-5.73zM323.01 194.4h5.73v2.4h-5.73zM340.21 196.8h5.73v2.4h-5.73zM351.67 199.2h5.73v2.4h-5.73zM357.41 201.6h5.73v2.4h-5.73zM363.14 172.8h5.73v2.4h-5.73zM368.87 175.2h5.73v2.4h-5.73zM374.61 211.2h5.73v2.4h-5.73zM386.07 184.8h5.73v2.4h-5.73zM386.07 218.4h5.73v2.4h-5.73zM397.54 223.2h5.73v2.4h-5.73zM403.27 192h5.73v2.4h-5.73zM409.01 225.6h5.73v2.4h-5.73zM409.01 230.4h5.73v2.4h-5.73zM414.74 194.4h5.73v2.4h-5.73zM437.68 232.8h5.73v2.4h-5.73zM454.88 201.6h5.73v2.4h-5.73zM598.21 213.6h5.73v2.4h-5.73zM615.41 220.8h5.73v2.4h-5.73zM741.55 204h5.73v2.4h-5.73zM747.28 182.4h5.73v2.4h-5.73z"/>
<path fill="#50c46a" d="M156.73 184.8h5.73v2.4h-5.73zM162.47 184.8h5.73v2.4h-5.73zM168.2 184.8h5.73v2.4h-5.73zM173.94 184.8h5.73v2.4h-5.73zM208.34 192h5.73v2.4h-5.73zM242.74 172.8h5.73v2.4h-5.73zM254.2 168h5.73v2.4h-5.73zM259.94 168h5.73v2.4h-5.73zM277.14 172.8h5.73v2.4h-5.73zM300.07 180h5.73v2.4h-5.73zM317.27 182.4h5.73v2.4h-5.73zM380.34 189.6h5.73v2.4h-5.73zM454.88 216h5.73v2.4h-5.73zM460.61 225.6h5.73v2.4h-5.73zM512.21 230.4h5.73v2.4h-5.73z"/>
<path fill="#84d44b" d="M156.73 199.2h5.73v2.4h-5.73zM162.47 199.2h5.73v2.4h-5.73zM168.2 199.2h5.73v2.4h-5.73zM179.67 182.4h5.73v2.4h-5.73zM191.14 187.2h5.73v2.4h-5.73zM208.34 196.8h5.73v2.4h-5.73zM248.47 158.4h5.73v2.4h-5.73zM265.67 175.2h5.73v2.4h-5.73zM277.14 160.8h5.73v2.4h-5.73zM288.61 182.4h5.73v2.4h-5.73zM305.81 168h5.73v2.4h-5.73zM328.74 170.4h5.73v2.4h-5.73zM328.74 189.6h5.73v2.4h-5.73zM357.41 175.2h5.73v2.4h-5.73zM420.48 199.2h5.73v2.4h-5.73zM472.08 211.2h5.73v2.4h-5.73zM655.55 199.2h5.73v2.4h-5.73zM730.08 184.8h5.73v2.4h-5.73z"/>
<path fill="#b0dd2f" d="M156.73 204h5.73v2.4h-5.73zM162.47 165.6h5.73v2.4h-5.73zM162.47 204h5.73v2.4h-5.73zM168.2 165.6h5.73v2.4h-5.73zM173.94 165.6h5.73v2.4h-5.73zM179.67 168h5.73v2.4h-5.73zM196.87 175.2h5.73v2.4h-5.73zM214.07 199.2h5.73v2.4h-5.73zM219.8 196.8h5.73v2.4h-5.73zM237 158.4h5.73v2.4h-5.73zM259.94 151.2h5.73v2.4h-5.73zM271.4 184.8h5.73v2.4h-5.73zM294.34 192h5.73v2.4h-5.73zM305.81 194.4h5.73v2.4h-5.73zM317.27 163.2h5.73v2.4h-5.73zM323.01 196.8h5.73v2.4h-5.73zM340.21 199.2h5.73v2.4h-5.73zM351.67 201.6h5.73v2.4h-5.73zM357.41 204h5.73v2.4h-5.73zM363.14 206.4h5.73v2.4h-5.73zM426.21 194.4h5.73v2.4h-5.73zM431.94 232.8h5.73v2.4h-5.73zM477.81 206.4h5.73v2.4h-5.73zM529.41 220.8h5.73v2.4h-5.73zM563.81 218.4h5.73v2.4h-5.73zM644.08 201.6h5.73v2.4h-5.73zM667.02 213.6h5.73v2.4h-5.73zM678.48 189.6h5.73v2.4h-5.73zM695.68 208.8h5.73v2.4h-5.73z"/>
<path fill="#efe51c" d="M162.47 151.2h5.73v2.4h-5.73zM168.2 151.2h5.73v2.4h-5.73zM173.94 151.2h5.73v2.4h-5.73zM179.67 151.2h5.73v2.4h-5.73zM196.87 153.6h5.73v2.4h-5.73zM202.6 218.4h5.73v2.4h-5.73zM208.34 216h5.73v2.4h-5.73zM214.07 153.6h5.73v2.4h-5.73zM219.8 213.6h5.73v2.4h-5.73zM225.54 211.2h5.73v2.4h-5.73zM231.27 211.2h5.73v2.4h-5.73zM237 208.8h5.73v2.4h-5.73zM242.74 208.8h5.73v2.4h-5.73zM254.2 139.2h5.73v2.4h-5.73zM254.2 206.4h5.73v2.4h-5.73zM259.94 139.2h5.73v2.4h-5.73zM259.94 206.4h5.73v2.4h-5.73zM271.4 208.8h5.73v2.4h-5.73zM277.14 208.8h5.73v2.4h-5.73zM282.87 144h5.73v2.4h-5.73zM282.87 211.2h5.73v2.4h-5.73zM288.61 211.2h5.73v2.4h-5.73zM300.07 213.6h5.73v2.4h-5.73zM305.81 148.8h5.73v2.4h-5.73zM305.81 213.6h5.73v2.4h-5.73zM311.54 148.8h5.73v2.4h-5.73zM317.27 216h5.73v2.4h-5.73zM323.01 216h5.73v2.4h-5.73zM334.47 218.4h5.73v2.4h-5.73zM340.21 151.2h5.73v2.4h-5.73zM345.94 151.2h5.73v2.4h-5.73zM345.94 220.8h5.73v2.4h-5.73zM363.14 156h5.73v2.4h-5.73zM363.14 225.6h5.73v2.4h-5.73zM368.87 158.4h5.73v2.4h-5.73zM368.87 228h5.73v2.4h-5.73zM374.61 160.8h5.73v2.4h-5.73zM391.81 170.4h5.73v2.4h-5.73zM403.27 172.8h5.73v2.4h-5.73zM414.74 175.2h5.73v2.4h-5.73zM420.48 175.2h5.73v2.4h-5.73zM431.94 177.6h5.73v2.4h-5.73zM437.68 177.6h5.73v2.4h-5.73zM449.14 180h5.73v2.4h-5.73zM454.88 180h5.73v2.4h-5.73zM460.61 182.4h5.73v2.4h-5.73zM466.34 182.4h5.73v2.4h-5.73zM477.81 184.8h5.73v2.4h-5.73zM483.54 184.8h5.73v2.4h-5.73zM489.28 184.8h5.73v2.4h-5.73zM495.01 184.8h5.73v2.4h-5.73zM500.74 187.2h5.73v2.4h-5.73zM506.48 187.2h5.73v2.4h-5.73zM512.21 187.2h5.73v2.4h-5.73zM517.94 187.2h5.73v2.4h-5.73zM523.68 187.2h5.73v4.8h-5.73zM529.41 189.6h5.73v2.4h-5.73zM535.15 189.6h5.73v2.4h-5.73zM540.88 189.6h5.73v2.4h-5.73zM546.61 187.2h5.73v4.8h-5.73zM552.35 187.2h5.73v2.4h-5.73zM558.08 187.2h5.73v2.4h-5.73zM563.81 187.2h5.73v2.4h-5.73zM569.55 187.2h5.73v2.4h-5.73zM575.28 184.8h5.73v2.4h-5.73zM581.01 184.8h5.73v2.4h-5.73zM586.75 184.8h5.73v2.4h-5.73zM592.48 184.8h5.73v2.4h-5.73zM598.21 182.4h5.73v2.4h-5.73zM603.95 182.4h5.73v2.4h-5.73zM609.68 182.4h5.73v2.4h-5.73zM615.41 182.4h5.73v2.4h-5.73zM621.15 180h5.73v2.4h-5.73zM626.88 180h5.73v2.4h-5.73zM632.61 180h5.73v2.4h-5.73zM638.35 180h5.73v2.4h-5.73zM644.08 177.6h5.73v2.4h-5.73zM649.82 177.6h5.73v2.4h-5.73zM655.55 177.6h5.73v2.4h-5.73zM661.28 175.2h5.73v2.4h-5.73zM667.02 175.2h5.73v2.4h-5.73zM672.75 175.2h5.73v2.4h-5.73zM678.48 172.8h5.73v2.4h-5.73zM684.22 172.8h5.73v2.4h-5.73zM689.95 172.8h5.73v2.4h-5.73zM701.42 170.4h5.73v2.4h-5.73zM707.15 170.4h5.73v2.4h-5.73zM712.88 170.4h5.73v2.4h-5.73zM724.35 168h5.73v2.4h-5.73zM730.08 168h5.73v2.4h-5.73zM735.82 168h5.73v2.4h-5.73zM741.55 168h5.73v2.4h-5.73zM753.02 165.6h2.98v2.4h-2.98z"/>
<path fill="#d2e21b" d="M162.47 158.4h5.73v2.4h-5.73zM168.2 158.4h5.73v2.4h-5.73zM173.94 158.4h5.73v2.4h-5.73zM196.87 163.2h5.73v2.4h-5.73zM214.07 163.2h5.73v2.4h-5.73zM219.8 160.8h5.73v2.4h-5.73zM225.54 158.4h5.73v2.4h-5.73zM231.27 156h5.73v2.4h-5.73zM242.74 194.4h5.73v2.4h-5.73zM248.47 192h5.73v2.4h-5.73zM265.67 192h5.73v2.4h-5.73zM277.14 194.4h5.73v2.4h-5.73zM294.34 199.2h5.73v2.4h-5.73zM300.07 156h5.73v2.4h-5.73zM305.81 201.6h5.73v2.4h-5.73zM328.74 158.4h5.73v2.4h-5.73zM334.47 158.4h5.73v2.4h-5.73zM334.47 206.4h5.73v2.4h-5.73zM351.67 160.8h5.73v2.4h-5.73zM380.34 172.8h5.73v2.4h-5.73zM391.81 180h5.73v2.4h-5.73zM409.01 184.8h5.73v2.4h-5.73zM409.01 232.8h5.73v2.4h-5.73zM437.68 189.6h5.73v2.4h-5.73zM460.61 194.4h5.73v2.4h-5.73zM472.08 196.8h5.73v2.4h-5.73zM489.28 201.6h5.73v2.4h-5.73zM506.48 218.4h5.73v2.4h-5.73zM523.68 218.4h5.73v2.4h-5.73zM529.41 218.4h5.73v2.4h-5.73zM598.21 211.2h5.73v2.4h-5.73zM609.68 208.8h5.73v2.4h-5.73zM621.15 206.4h5.73v2.4h-5.73zM632.61 201.6h5.73v2.4h-5.73zM638.35 199.2h5.73v2.4h-5.73zM672.75 187.2h5.73v2.4h-5.73zM678.48 213.6h5.73v2.4h-5.73zM684.22 184.8h5.73v2.4h-5.73zM701.42 182.4h5.73v2.4h-5.73zM707.15 182.4h5.73v2.4h-5.73zM724.35 180h5.73v2.4h-5.73zM753.02 206.4h2.98v2.4h-2.98z"/>
<path fill="#29af7f" d="M162.47 192h5.73v2.4h-5.73zM168.2 192h5.73v2.4h-5.73zM173.94 192h5.73v2.4h-5.73zM374.61 194.4h5.73v2.4h-5.73zM380.34 199.2h5.73v2.4h-5.73zM386.07 199.2h5.73v2.4h-5.73zM386.07 204h5.73v2.4h-5.73zM397.54 204h5.73v2.4h-5.73zM403.27 206.4h5.73v2.4h-5.73zM409.01 208.8h5.73v4.8h-5.73zM695.68 204h5.73v2.4h-5.73zM753.02 187.2h2.98v2.4h-2.98z"/>
<path fill="#42be71" d="M162.47 194.4h5.73v2.4h-5.73zM168.2 194.4h5.73v2.4h-5.73zM173.94 194.4h5.73v2.4h-5.73zM294.34 177.6h5.73v2.4h-5.73zM323.01 175.2h5.73v2.4h-5.73zM391.81 199.2h5.73v2.4h-5.73zM409.01 204h5.73v2.4h-5.73zM414.74 216h5.73v2.4h-5.73zM420.48 206.4h5.73v2.4h-5.73zM420.48 216h5.73v2.4h-5.73zM426.21 216h5.73v2.4h-5.73zM431.94 216h5.73v2.4h-5.73zM437.68 211.2h5.73v2.4h-5.73zM730.08 187.2h5.73v2.4h-5.73z"/>
<path fill="#c0df25" d="M162.47 206.4h5.73v2.4h-5.73zM168.2 206.4h5.73v2.4h-5.73zM191.14 168h5.73v2.4h-5.73zM214.07 201.6h5.73v2.4h-5.73zM219.8 199.2h5.73v2.4h-5.73zM225.54 196.8h5.73v2.4h-5.73zM231.27 194.4h5.73v2.4h-5.73zM237 156h5.73v2.4h-5.73zM237 192h5.73v2.4h-5.73zM248.47 187.2h5.73v2.4h-5.73zM277.14 189.6h5.73v2.4h-5.73zM317.27 160.8h5.73v2.4h-5.73zM317.27 199.2h5.73v2.4h-5.73zM334.47 201.6h5.73v2.4h-5.73zM363.14 168h5.73v2.4h-5.73zM374.61 216h5.73v2.4h-5.73zM386.07 180h5.73v2.4h-5.73zM403.27 187.2h5.73v2.4h-5.73zM414.74 189.6h5.73v2.4h-5.73zM454.88 196.8h5.73v2.4h-5.73zM472.08 201.6h5.73v2.4h-5.73zM495.01 211.2h5.73v2.4h-5.73zM552.35 218.4h5.73v2.4h-5.73zM632.61 218.4h5.73v2.4h-5.73zM667.02 192h5.73v2.4h-5.73zM684.22 187.2h5.73v2.4h-5.73zM684.22 211.2h5.73v2.4h-5.73zM701.42 184.8h5.73v2.4h-5.73zM707.15 184.8h5.73v2.4h-5.73z"/>
<path fill="#bade28" d="M168.2 163.2h5.73v2.4h-5.73zM173.94 163.2h5.73v2.4h-5.73zM185.4 168h5.73v2.4h-5.73zM202.6 206.4h5.73v2.4h-5.73zM265.67 151.2h5.73v2.4h-5.73zM288.61 192h5.73v2.4h-5.73zM305.81 160.8h5.73v2.4h-5.73zM340.21 163.2h5.73v2.4h-5.73zM351.67 204h5.73v2.4h-5.73zM357.41 206.4h5.73v2.4h-5.73zM363.14 208.8h5.73v2.4h-5.73zM380.34 218.4h5.73v2.4h-5.73zM391.81 184.8h5.73v2.4h-5.73zM409.01 189.6h5.73v2.4h-5.73zM426.21 232.8h5.73v2.4h-5.73zM449.14 196.8h5.73v2.4h-5.73zM460.61 199.2h5.73v2.4h-5.73zM477.81 204h5.73v2.4h-5.73zM500.74 218.4h5.73v2.4h-5.73zM661.28 194.4h5.73v2.4h-5.73z"/>
<path fill="#65cb5e" d="M168.2 196.8h5.73v2.4h-5.73zM173.94 196.8h5.73v2.4h-5.73zM196.87 199.2h5.73v2.4h-5.73zM202.6 196.8h5.73v2.4h-5.73zM242.74 163.2h5.73v2.4h-5.73zM248.47 160.8h5.73v2.4h-5.73zM323.01 184.8h5.73v2.4h-5.73zM368.87 199.2h5.73v2.4h-5.73zM414.74 201.6h5.73v2.4h-5.73zM437.68 220.8h5.73v2.4h-5.73zM472.08 220.8h5.73v2.4h-5.73zM655.55 213.6h5.73v2.4h-5.73zM701.42 189.6h5.73v2.4h-5.73zM707.15 189.6h5.73v2.4h-5.73zM718.62 204h5.73v2.4h-5.73z"/>
<path fill="#98d83e" d="M168.2 201.6h5.73v2.4h-5.73zM173.94 201.6h5.73v2.4h-5.73zM196.87 180h5.73v2.4h-5.73zM196.87 204h5.73v2.4h-5.73zM208.34 175.2h5.73v2.4h-5.73zM237 184.8h5.73v2.4h-5.73zM242.74 158.4h5.73v2.4h-5.73zM271.4 180h5.73v2.4h-5.73zM305.81 165.6h5.73v2.4h-5.73zM317.27 192h5.73v2.4h-5.73zM334.47 168h5.73v2.4h-5.73zM351.67 170.4h5.73v2.4h-5.73zM391.81 220.8h5.73v2.4h-5.73zM420.48 196.8h5.73v2.4h-5.73zM443.41 232.8h5.73v2.4h-5.73zM466.34 206.4h5.73v2.4h-5.73zM495.01 220.8h5.73v2.4h-5.73zM724.35 184.8h5.73v2.4h-5.73z"/>
<path fill="#dfe318" d="M173.94 156h5.73v2.4h-5.73zM179.67 156h5.73v2.4h-5.73zM191.14 158.4h5.73v2.4h-5.73zM202.6 160.8h5.73v2.4h-5.73zM208.34 160.8h5.73v2.4h-5.73zM219.8 206.4h5.73v2.4h-5.73zM225.54 204h5.73v2.4h-5.73zM242.74 199.2h5.73v2.4h-5.73zM254.2 196.8h5.73v2.4h-5.73zM259.94 196.8h5.73v2.4h-5.73zM271.4 199.2h5.73v2.4h-5.73zM282.87 148.8h5.73v2.4h-5.73zM282.87 201.6h5.73v2.4h-5.73zM294.34 204h5.73v2.4h-5.73zM305.81 153.6h5.73v2.4h-5.73zM311.54 206.4h5.73v2.4h-5.73zM323.01 208.8h5.73v2.4h-5.73zM340.21 156h5.73v2.4h-5.73zM340.21 211.2h5.73v2.4h-5.73zM345.94 156h5.73v2.4h-5.73zM357.41 216h5.73v2.4h-5.73zM363.14 218.4h5.73v2.4h-5.73zM368.87 220.8h5.73v2.4h-5.73zM374.61 223.2h5.73v2.4h-5.73zM391.81 232.8h5.73v2.4h-5.73zM403.27 180h5.73v2.4h-5.73zM414.74 182.4h5.73v2.4h-5.73zM431.94 184.8h5.73v2.4h-5.73zM449.14 187.2h5.73v2.4h-5.73zM460.61 189.6h5.73v2.4h-5.73zM472.08 192h5.73v2.4h-5.73zM483.54 194.4h5.73v2.4h-5.73zM500.74 199.2h5.73v2.4h-5.73zM506.48 208.8h5.73v4.8h-5.73zM512.21 211.2h5.73v2.4h-5.73zM540.88 211.2h5.73v2.4h-5.73zM546.61 211.2h5.73v2.4h-5.73zM552.35 211.2h5.73v2.4h-5.73zM558.08 211.2h5.73v2.4h-5.73zM563.81 211.2h5.73v2.4h-5.73zM575.28 208.8h5.73v2.4h-5.73zM581.01 208.8h5.73v2.4h-5.73zM592.48 206.4h5.73v2.4h-5.73zM603.95 204h5.73v2.4h-5.73zM615.41 201.6h5.73v2.4h-5.73zM621.15 199.2h5.73v2.4h-5.73zM626.88 199.2h5.73v2.4h-5.73zM638.35 194.4h5.73v2.4h-5.73zM644.08 192h5.73v2.4h-5.73zM661.28 187.2h5.73v2.4h-5.73zM678.48 182.4h5.73v2.4h-5.73zM695.68 180h5.73v2.4h-5.73zM712.88 211.2h5.73v2.4h-5.73zM718.62 177.6h5.73v2.4h-5.73zM730.08 208.8h5.73v2.4h-5.73zM735.82 175.2h5.73v2.4h-5.73zM741.55 175.2h5.73v2.4h-5.73zM747.28 175.2h5.73v2.4h-5.73zM753.02 175.2h2.98v2.4h-2.98z"/>
<path fill="#32b67a" d="M173.94 187.2h5.73v2.4h-5.73zM191.14 196.8h5.73v2.4h-5.73zM225.54 177.6h5.73v2.4h-5.73zM282.87 170.4h5.73v2.4h-5.73zM380.34 201.6h5.73v2.4h-5.73zM409.01 213.6h5.73v2.4h-5.73zM414.74 213.6h5.73v2.4h-5.73zM701.42 204h5.73v2.4h-5.73zM707.15 204h5.73v2.4h-5.73zM718.62 189.6h5.73v2.4h-5.73z"/>
<path fill="#81d34d" d="M173.94 199.2h5.73v2.4h-5.73zM185.4 187.2h5.73v2.4h-5.73zM196.87 201.6h5.73v2.4h-5.73zM214.07 175.2h5.73v2.4h-5.73zM231.27 184.8h5.73v2.4h-5.73zM242.74 160.8h5.73v2.4h-5.73zM282.87 180h5.73v2.4h-5.73zM311.54 187.2h5.73v2.4h-5.73zM334.47 189.6h5.73v2.4h-5.73zM391.81 218.4h5.73v2.4h-5.73zM397.54 194.4h5.73v2.4h-5.73zM403.27 220.8h5.73v2.4h-5.73zM431.94 201.6h5.73v2.4h-5.73zM460.61 232.8h5.73v2.4h-5.73zM477.81 213.6h5.73v2.4h-5.73zM489.28 220.8h5.73v2.4h-5.73zM615.41 211.2h5.73v2.4h-5.73zM678.48 192h5.73v2.4h-5.73z"/>
<path fill="#bddf26" d="M173.94 206.4h5.73v2.4h-5.73zM179.67 163.2h5.73v2.4h-5.73zM179.67 208.8h5.73v2.4h-5.73zM185.4 165.6h5.73v2.4h-5.73zM185.4 211.2h5.73v2.4h-5.73zM191.14 170.4h5.73v4.8h-5.73zM191.14 211.2h5.73v2.4h-5.73zM196.87 170.4h5.73v2.4h-5.73zM196.87 208.8h5.73v2.4h-5.73zM202.6 170.4h5.73v2.4h-5.73zM208.34 204h5.73v2.4h-5.73zM242.74 153.6h5.73v2.4h-5.73zM248.47 151.2h5.73v2.4h-5.73zM254.2 184.8h5.73v2.4h-5.73zM259.94 184.8h5.73v2.4h-5.73zM271.4 187.2h5.73v2.4h-5.73zM277.14 153.6h5.73v2.4h-5.73zM294.34 158.4h5.73v2.4h-5.73zM294.34 194.4h5.73v2.4h-5.73zM305.81 196.8h5.73v2.4h-5.73zM311.54 160.8h5.73v2.4h-5.73zM323.01 199.2h5.73v2.4h-5.73zM340.21 201.6h5.73v2.4h-5.73zM345.94 163.2h5.73v2.4h-5.73zM391.81 225.6h5.73v2.4h-5.73zM426.21 192h5.73v2.4h-5.73zM437.68 194.4h5.73v2.4h-5.73zM558.08 218.4h5.73v2.4h-5.73zM724.35 182.4h5.73v2.4h-5.73z"/>
<path fill="#cde11d" d="M173.94 208.8h5.73v2.4h-5.73zM179.67 211.2h5.73v2.4h-5.73zM185.4 160.8h5.73v2.4h-5.73zM185.4 213.6h5.73v2.4h-5.73zM191.14 163.2h5.73v2.4h-5.73zM191.14 213.6h5.73v2.4h-5.73zM196.87 211.2h5.73v2.4h-5.73zM202.6 165.6h5.73v2.4h-5.73zM208.34 165.6h5.73v2.4h-5.73zM214.07 204h5.73v2.4h-5.73zM219.8 201.6h5.73v2.4h-5.73zM225.54 199.2h5.73v2.4h-5.73zM242.74 151.2h5.73v2.4h-5.73zM248.47 148.8h5.73v2.4h-5.73zM271.4 192h5.73v2.4h-5.73zM282.87 194.4h5.73v2.4h-5.73zM294.34 156h5.73v2.4h-5.73zM300.07 199.2h5.73v2.4h-5.73zM317.27 158.4h5.73v2.4h-5.73zM328.74 204h5.73v2.4h-5.73zM345.94 206.4h5.73v2.4h-5.73zM363.14 165.6h5.73v2.4h-5.73zM368.87 216h5.73v2.4h-5.73zM386.07 177.6h5.73v2.4h-5.73zM403.27 184.8h5.73v2.4h-5.73zM414.74 187.2h5.73v2.4h-5.73zM443.41 192h5.73v2.4h-5.73zM466.34 196.8h5.73v2.4h-5.73zM483.54 201.6h5.73v2.4h-5.73zM495.01 206.4h5.73v2.4h-5.73zM506.48 220.8h5.73v2.4h-5.73zM512.21 220.8h5.73v2.4h-5.73zM540.88 218.4h5.73v2.4h-5.73zM615.41 208.8h5.73v2.4h-5.73zM655.55 194.4h5.73v2.4h-5.73zM661.28 192h5.73v2.4h-5.73zM689.95 184.8h5.73v2.4h-5.73zM712.88 182.4h5.73v2.4h-5.73zM735.82 206.4h5.73v2.4h-5.73zM741.55 206.4h5.73v2.4h-5.73z"/>
<path fill="#dae319" d="M173.94 211.2h5.73v2.4h-5.73zM179.67 213.6h5.73v2.4h-5.73zM185.4 216h5.73v2.4h-5.73zM191.14 216h5.73v2.4h-5.73zM196.87 160.8h5.73v2.4h-5.73zM196.87 213.6h5.73v2.4h-5.73zM237 151.2h5.73v2.4h-5.73zM242.74 148.8h5.73v2.4h-5.73zM242.74 196.8h5.73v2.4h-5.73zM248.47 146.4h5.73v2.4h-5.73zM254.2 194.4h5.73v2.4h-5.73zM259.94 194.4h5.73v2.4h-5.73zM271.4 196.8h5.73v2.4h-5.73zM282.87 199.2h5.73v2.4h-5.73zM294.34 153.6h5.73v2.4h-5.73zM294.34 201.6h5.73v2.4h-5.73zM305.81 204h5.73v2.4h-5.73zM317.27 156h5.73v2.4h-5.73zM323.01 156h5.73v2.4h-5.73zM323.01 206.4h5.73v2.4h-5.73zM334.47 208.8h5.73v2.4h-5.73zM357.41 160.8h5.73v2.4h-5.73zM363.14 216h5.73v2.4h-5.73zM368.87 165.6h5.73v2.4h-5.73zM374.61 168h5.73v2.4h-5.73zM386.07 228h5.73v2.4h-5.73zM397.54 180h5.73v2.4h-5.73zM409.01 182.4h5.73v2.4h-5.73zM420.48 184.8h5.73v2.4h-5.73zM437.68 187.2h5.73v2.4h-5.73zM449.14 189.6h5.73v2.4h-5.73zM460.61 192h5.73v2.4h-5.73zM472.08 194.4h5.73v2.4h-5.73zM483.54 196.8h5.73v2.4h-5.73zM500.74 204h5.73v2.4h-5.73zM512.21 216h5.73v2.4h-5.73zM517.94 216h5.73v2.4h-5.73zM523.68 216h5.73v2.4h-5.73zM546.61 213.6h5.73v2.4h-5.73zM552.35 213.6h5.73v2.4h-5.73zM563.81 213.6h5.73v2.4h-5.73zM569.55 213.6h5.73v2.4h-5.73zM581.01 211.2h5.73v2.4h-5.73zM592.48 208.8h5.73v2.4h-5.73zM598.21 208.8h5.73v2.4h-5.73zM609.68 206.4h5.73v2.4h-5.73zM626.88 201.6h5.73v2.4h-5.73zM638.35 196.8h5.73v2.4h-5.73zM667.02 187.2h5.73v2.4h-5.73zM689.95 182.4h5.73v2.4h-5.73zM712.88 180h5.73v2.4h-5.73zM724.35 208.8h5.73v2.4h-5.73zM730.08 177.6h5.73v2.4h-5.73z"/>
<path fill="#eae51a" d="M179.67 153.6h5.73v2.4h-5.73zM185.4 153.6h5.73v2.4h-5.73zM196.87 156h5.73v2.4h-5.73zM196.87 218.4h5.73v2.4h-5.73zM202.6 216h5.73v2.4h-5.73zM208.34 213.6h5.73v2.4h-5.73zM214.07 156h5.73v2.4h-5.73zM225.54 208.8h5.73v2.4h-5.73zM237 206.4h5.73v2.4h-5.73zM242.74 204h5.73v2.4h-5.73zM248.47 204h5.73v2.4h-5.73zM265.67 141.6h5.73v2.4h-5.73zM265.67 204h5.73v2.4h-5.73zM271.4 204h5.73v2.4h-5.73zM277.14 206.4h5.73v2.4h-5.73zM282.87 146.4h5.73v2.4h-5.73zM282.87 206.4h5.73v2.4h-5.73zM294.34 148.8h5.73v2.4h-5.73zM294.34 208.8h5.73v2.4h-5.73zM305.81 211.2h5.73v2.4h-5.73zM311.54 151.2h5.73v2.4h-5.73zM311.54 211.2h5.73v2.4h-5.73zM323.01 213.6h5.73v2.4h-5.73zM328.74 213.6h5.73v2.4h-5.73zM334.47 216h5.73v2.4h-5.73zM340.21 216h5.73v2.4h-5.73zM345.94 153.6h5.73v2.4h-5.73zM351.67 218.4h5.73v2.4h-5.73zM357.41 156h5.73v2.4h-5.73zM357.41 220.8h5.73v2.4h-5.73zM363.14 158.4h5.73v2.4h-5.73zM363.14 223.2h5.73v2.4h-5.73zM368.87 160.8h5.73v2.4h-5.73zM374.61 163.2h5.73v2.4h-5.73zM374.61 228h5.73v2.4h-5.73zM380.34 230.4h5.73v2.4h-5.73zM391.81 172.8h5.73v2.4h-5.73zM403.27 175.2h5.73v2.4h-5.73zM414.74 177.6h5.73v2.4h-5.73zM426.21 180h5.73v2.4h-5.73zM431.94 180h5.73v2.4h-5.73zM443.41 182.4h5.73v2.4h-5.73zM460.61 184.8h5.73v2.4h-5.73zM472.08 187.2h5.73v2.4h-5.73zM477.81 187.2h5.73v2.4h-5.73zM483.54 189.6h5.73v2.4h-5.73zM489.28 189.6h5.73v2.4h-5.73zM495.01 189.6h5.73v2.4h-5.73zM500.74 192h5.73v2.4h-5.73zM506.48 192h5.73v2.4h-5.73zM512.21 192h5.73v2.4h-5.73zM517.94 192h5.73v4.8h-5.73zM523.68 194.4h5.73v2.4h-5.73zM529.41 194.4h5.73v2.4h-5.73zM535.15 194.4h5.73v2.4h-5.73zM540.88 194.4h5.73v2.4h-5.73zM546.61 194.4h5.73v2.4h-5.73zM552.35 192h5.73v4.8h-5.73zM558.08 192h5.73v4.8h-5.73zM563.81 192h5.73v2.4h-5.73zM569.55 192h5.73v2.4h-5.73zM575.28 189.6h5.73v4.8h-5.73zM581.01 189.6h5.73v4.8h-5.73zM586.75 189.6h5.73v2.4h-5.73zM592.48 189.6h5.73v2.4h-5.73zM598.21 189.6h5.73v2.4h-5.73zM603.95 187.2h5.73v4.8h-5.73zM609.68 187.2h5.73v2.4h-5.73zM615.41 187.2h5.73v2.4h-5.73zM621.15 187.2h5.73v2.4h-5.73zM626.88 184.8h5.73v2.4h-5.73zM632.61 184.8h5.73v2.4h-5.73zM638.35 184.8h5.73v2.4h-5.73zM644.08 182.4h5.73v2.4h-5.73zM649.82 182.4h5.73v2.4h-5.73zM655.55 182.4h5.73v2.4h-5.73zM661.28 180h5.73v2.4h-5.73zM667.02 180h5.73v2.4h-5.73zM678.48 177.6h5.73v2.4h-5.73zM689.95 175.2h5.73v2.4h-5.73zM695.68 175.2h5.73v2.4h-5.73zM701.42 175.2h5.73v2.4h-5.73zM718.62 172.8h5.73v2.4h-5.73zM724.35 172.8h5.73v2.4h-5.73zM741.55 170.4h5.73v2.4h-5.73zM747.28 170.4h5.73v2.4h-5.73zM753.02 170.4h2.98v2.4h-2.98z"/>
<path fill="#d5e21a" d="M179.67 158.4h5.73v2.4h-5.73zM191.14 160.8h5.73v2.4h-5.73zM225.54 201.6h5.73v2.4h-5.73zM231.27 199.2h5.73v2.4h-5.73zM237 196.8h5.73v2.4h-5.73zM254.2 192h5.73v2.4h-5.73zM259.94 192h5.73v2.4h-5.73zM271.4 194.4h5.73v2.4h-5.73zM282.87 151.2h5.73v2.4h-5.73zM282.87 196.8h5.73v2.4h-5.73zM300.07 201.6h5.73v2.4h-5.73zM305.81 156h5.73v2.4h-5.73zM317.27 204h5.73v2.4h-5.73zM340.21 158.4h5.73v2.4h-5.73zM345.94 208.8h5.73v2.4h-5.73zM374.61 220.8h5.73v2.4h-5.73zM380.34 223.2h5.73v2.4h-5.73zM414.74 184.8h5.73v2.4h-5.73zM426.21 187.2h5.73v2.4h-5.73zM443.41 189.6h5.73v2.4h-5.73zM454.88 192h5.73v2.4h-5.73zM483.54 199.2h5.73v2.4h-5.73zM495.01 204h5.73v2.4h-5.73zM500.74 208.8h5.73v2.4h-5.73zM512.21 218.4h5.73v2.4h-5.73zM517.94 218.4h5.73v2.4h-5.73zM546.61 216h5.73v2.4h-5.73zM552.35 216h5.73v2.4h-5.73zM558.08 216h5.73v2.4h-5.73zM563.81 216h5.73v2.4h-5.73zM581.01 213.6h5.73v2.4h-5.73zM592.48 211.2h5.73v2.4h-5.73zM603.95 208.8h5.73v2.4h-5.73zM626.88 204h5.73v2.4h-5.73zM644.08 196.8h5.73v2.4h-5.73zM649.82 194.4h5.73v2.4h-5.73zM695.68 182.4h5.73v2.4h-5.73zM695.68 211.2h5.73v2.4h-5.73zM718.62 180h5.73v2.4h-5.73zM741.55 177.6h5.73v2.4h-5.73zM747.28 177.6h5.73v2.4h-5.73zM753.02 177.6h2.98v2.4h-2.98z"/>
<path fill="#c8e020" d="M179.67 160.8h5.73v2.4h-5.73zM254.2 187.2h5.73v2.4h-5.73zM259.94 187.2h5.73v2.4h-5.73zM277.14 192h5.73v2.4h-5.73zM282.87 153.6h5.73v2.4h-5.73zM294.34 196.8h5.73v2.4h-5.73zM305.81 158.4h5.73v2.4h-5.73zM305.81 199.2h5.73v2.4h-5.73zM323.01 201.6h5.73v2.4h-5.73zM334.47 160.8h5.73v2.4h-5.73zM340.21 160.8h5.73v2.4h-5.73zM340.21 204h5.73v2.4h-5.73zM380.34 175.2h5.73v2.4h-5.73zM380.34 220.8h5.73v2.4h-5.73zM391.81 182.4h5.73v2.4h-5.73zM409.01 187.2h5.73v2.4h-5.73zM437.68 192h5.73v2.4h-5.73zM460.61 196.8h5.73v2.4h-5.73zM495.01 208.8h5.73v2.4h-5.73zM500.74 213.6h5.73v2.4h-5.73zM626.88 206.4h5.73v2.4h-5.73zM638.35 201.6h5.73v2.4h-5.73zM678.48 187.2h5.73v2.4h-5.73zM735.82 180h5.73v2.4h-5.73z"/>
<path fill="#b5de2b" d="M179.67 165.6h5.73v2.4h-5.73zM185.4 175.2h5.73v2.4h-5.73zM208.34 170.4h5.73v2.4h-5.73zM219.8 165.6h5.73v2.4h-5.73zM225.54 163.2h5.73v2.4h-5.73zM237 189.6h5.73v2.4h-5.73zM248.47 184.8h5.73v2.4h-5.73zM277.14 187.2h5.73v2.4h-5.73zM300.07 160.8h5.73v2.4h-5.73zM300.07 194.4h5.73v2.4h-5.73zM328.74 163.2h5.73v2.4h-5.73zM334.47 199.2h5.73v2.4h-5.73zM357.41 168h5.73v2.4h-5.73zM374.61 175.2h5.73v2.4h-5.73zM386.07 220.8h5.73v2.4h-5.73zM431.94 194.4h5.73v2.4h-5.73zM443.41 196.8h5.73v2.4h-5.73zM495.01 213.6h5.73v2.4h-5.73zM609.68 211.2h5.73v2.4h-5.73zM655.55 196.8h5.73v2.4h-5.73zM655.55 216h5.73v2.4h-5.73zM689.95 187.2h5.73v2.4h-5.73zM712.88 184.8h5.73v2.4h-5.73z"/>
<path fill="#aadc32" d="M179.67 172.8h5.73v2.4h-5.73zM185.4 180h5.73v2.4h-5.73zM185.4 208.8h5.73v2.4h-5.73zM191.14 180h5.73v2.4h-5.73zM191.14 208.8h5.73v2.4h-5.73zM196.87 206.4h5.73v2.4h-5.73zM242.74 184.8h5.73v2.4h-5.73zM265.67 182.4h5.73v2.4h-5.73zM277.14 156h5.73v2.4h-5.73zM282.87 187.2h5.73v2.4h-5.73zM311.54 194.4h5.73v2.4h-5.73zM328.74 196.8h5.73v2.4h-5.73zM340.21 165.6h5.73v2.4h-5.73zM368.87 208.8h5.73v2.4h-5.73zM391.81 223.2h5.73v2.4h-5.73zM420.48 194.4h5.73v2.4h-5.73zM449.14 199.2h5.73v2.4h-5.73zM483.54 208.8h5.73v2.4h-5.73zM489.28 211.2h5.73v2.4h-5.73zM495.01 216h5.73v2.4h-5.73zM506.48 223.2h5.73v2.4h-5.73zM678.48 211.2h5.73v2.4h-5.73z"/>
<path fill="#93d741" d="M179.67 180h5.73v2.4h-5.73zM191.14 184.8h5.73v2.4h-5.73zM219.8 170.4h5.73v2.4h-5.73zM231.27 187.2h5.73v2.4h-5.73zM265.67 177.6h5.73v2.4h-5.73zM282.87 160.8h5.73v2.4h-5.73zM294.34 187.2h5.73v2.4h-5.73zM300.07 165.6h5.73v2.4h-5.73zM323.01 168h5.73v2.4h-5.73zM323.01 192h5.73v2.4h-5.73zM345.94 194.4h5.73v2.4h-5.73zM363.14 201.6h5.73v2.4h-5.73zM374.61 208.8h5.73v2.4h-5.73zM409.01 223.2h5.73v2.4h-5.73zM409.01 228h5.73v2.4h-5.73zM443.41 201.6h5.73v2.4h-5.73zM472.08 208.8h5.73v2.4h-5.73zM512.21 223.2h5.73v2.4h-5.73zM661.28 213.6h5.73v2.4h-5.73zM712.88 206.4h5.73v2.4h-5.73z"/>
<path fill="#6ece58" d="M179.67 184.8h5.73v2.4h-5.73zM185.4 189.6h5.73v2.4h-5.73zM282.87 177.6h5.73v2.4h-5.73zM294.34 168h5.73v2.4h-5.73zM334.47 172.8h5.73v2.4h-5.73zM340.21 187.2h5.73v2.4h-5.73zM420.48 201.6h5.73v2.4h-5.73zM426.21 220.8h5.73v2.4h-5.73zM449.14 223.2h5.73v2.4h-5.73zM644.08 216h5.73v2.4h-5.73zM672.75 194.4h5.73v2.4h-5.73z"/>
<path fill="#58c765" d="M179.67 187.2h5.73v2.4h-5.73zM179.67 199.2h5.73v2.4h-5.73zM208.34 182.4h5.73v2.4h-5.73zM231.27 170.4h5.73v2.4h-5.73zM340.21 184.8h5.73v2.4h-5.73zM443.41 208.8h5.73v2.4h-5.73zM460.61 218.4h5.73v2.4h-5.73zM667.02 196.8h5.73v2.4h-5.73zM689.95 206.4h5.73v2.4h-5.73z"/>
<path fill="#40bd72" d="M179.67 189.6h5.73v2.4h-5.73zM179.67 196.8h5.73v2.4h-5.73zM214.07 187.2h5.73v2.4h-5.73zM225.54 175.2h5.73v2.4h-5.73zM265.67 168h5.73v2.4h-5.73zM334.47 182.4h5.73v2.4h-5.73zM437.68 213.6h5.73v2.4h-5.73zM483.54 225.6h5.73v2.4h-5.73zM661.28 199.2h5.73v2.4h-5.73z"/>
<path fill="#35b779" d="M179.67 192h5.73v2.4h-5.73zM202.6 189.6h5.73v2.4h-5.73zM219.8 182.4h5.73v2.4h-5.73zM242.74 168h5.73v2.4h-5.73zM259.94 163.2h5.73v2.4h-5.73zM294.34 172.8h5.73v2.4h-5.73zM300.07 177.6h5.73v2.4h-5.73zM317.27 180h5.73v2.4h-5.73zM374.61 189.6h5.73v2.4h-5.73zM386.07 196.8h5.73v2.4h-5.73zM391.81 211.2h5.73v2.4h-5.73zM403.27 204h5.73v2.4h-5.73zM403.27 213.6h5.73v2.4h-5.73zM426.21 211.2h5.73v2.4h-5.73zM724.35 201.6h5.73v2.4h-5.73z"/>
<path fill="#75d054" d="M179.67 201.6h5.73v2.4h-5.73zM214.07 192h5.73v2.4h-5.73zM231.27 168h5.73v2.4h-5.73zM237 180h5.73v2.4h-5.73zM294.34 182.4h5.73v2.4h-5.73zM328.74 187.2h5.73v2.4h-5.73zM363.14 196.8h5.73v2.4h-5.73zM437.68 204h5.73v2.4h-5.73zM443.41 223.2h5.73v2.4h-5.73zM449.14 206.4h5.73v2.4h-5.73zM466.34 211.2h5.73v2.4h-5.73zM477.81 216h5.73v2.4h-5.73zM718.62 187.2h5.73v2.4h-5.73zM735.82 184.8h5.73v2.4h-5.73z"/>
<path fill="#90d743" d="M179.67 204h5.73v2.4h-5.73zM185.4 184.8h5.73v2.4h-5.73zM225.54 168h5.73v2.4h-5.73zM225.54 189.6h5.73v2.4h-5.73zM288.61 184.8h5.73v2.4h-5.73zM317.27 168h5.73v2.4h-5.73zM328.74 192h5.73v2.4h-5.73zM363.14 175.2h5.73v2.4h-5.73zM368.87 177.6h5.73v2.4h-5.73zM374.61 180h5.73v2.4h-5.73zM386.07 216h5.73v2.4h-5.73zM403.27 194.4h5.73v2.4h-5.73zM414.74 196.8h5.73v2.4h-5.73zM414.74 223.2h5.73v2.4h-5.73zM454.88 204h5.73v2.4h-5.73zM477.81 211.2h5.73v2.4h-5.73zM489.28 216h5.73v2.4h-5.73zM535.15 220.8h5.73v2.4h-5.73zM661.28 196.8h5.73v2.4h-5.73z"/>
<path fill="#e2e418" d="M185.4 156h5.73v2.4h-5.73zM196.87 158.4h5.73v2.4h-5.73zM196.87 216h5.73v2.4h-5.73zM202.6 213.6h5.73v2.4h-5.73zM208.34 211.2h5.73v2.4h-5.73zM214.07 208.8h5.73v2.4h-5.73zM231.27 204h5.73v2.4h-5.73zM237 201.6h5.73v2.4h-5.73zM248.47 199.2h5.73v2.4h-5.73zM265.67 144h5.73v2.4h-5.73zM265.67 199.2h5.73v2.4h-5.73zM277.14 146.4h5.73v2.4h-5.73zM277.14 201.6h5.73v2.4h-5.73zM288.61 204h5.73v2.4h-5.73zM294.34 151.2h5.73v2.4h-5.73zM300.07 206.4h5.73v2.4h-5.73zM305.81 206.4h5.73v2.4h-5.73zM311.54 153.6h5.73v2.4h-5.73zM317.27 208.8h5.73v2.4h-5.73zM334.47 211.2h5.73v2.4h-5.73zM345.94 213.6h5.73v2.4h-5.73zM363.14 160.8h5.73v2.4h-5.73zM368.87 163.2h5.73v2.4h-5.73zM374.61 165.6h5.73v2.4h-5.73zM386.07 172.8h5.73v2.4h-5.73zM386.07 230.4h5.73v2.4h-5.73zM397.54 177.6h5.73v2.4h-5.73zM409.01 180h5.73v2.4h-5.73zM420.48 182.4h5.73v2.4h-5.73zM437.68 184.8h5.73v2.4h-5.73zM454.88 187.2h5.73v2.4h-5.73zM477.81 192h5.73v2.4h-5.73zM489.28 194.4h5.73v2.4h-5.73zM495.01 196.8h5.73v2.4h-5.73zM506.48 201.6h5.73v7.2h-5.73zM512.21 204h5.73v7.2h-5.73zM517.94 206.4h5.73v7.2h-5.73zM523.68 208.8h5.73v4.8h-5.73zM529.41 208.8h5.73v4.8h-5.73zM535.15 211.2h5.73v2.4h-5.73zM540.88 208.8h5.73v2.4h-5.73zM546.61 208.8h5.73v2.4h-5.73zM552.35 208.8h5.73v2.4h-5.73zM558.08 208.8h5.73v2.4h-5.73zM563.81 208.8h5.73v2.4h-5.73zM569.55 208.8h5.73v2.4h-5.73zM575.28 206.4h5.73v2.4h-5.73zM581.01 206.4h5.73v2.4h-5.73zM586.75 204h5.73v4.8h-5.73zM592.48 204h5.73v2.4h-5.73zM598.21 201.6h5.73v4.8h-5.73zM603.95 201.6h5.73v2.4h-5.73zM609.68 199.2h5.73v4.8h-5.73zM615.41 199.2h5.73v2.4h-5.73zM621.15 196.8h5.73v2.4h-5.73zM626.88 194.4h5.73v4.8h-5.73zM632.61 194.4h5.73v2.4h-5.73zM638.35 192h5.73v2.4h-5.73zM649.82 189.6h5.73v2.4h-5.73zM655.55 187.2h5.73v2.4h-5.73zM667.02 184.8h5.73v2.4h-5.73zM689.95 180h5.73v2.4h-5.73zM712.88 177.6h5.73v2.4h-5.73zM730.08 175.2h5.73v2.4h-5.73z"/>
<path fill="#d8e219" d="M185.4 158.4h5.73v2.4h-5.73zM202.6 163.2h5.73v2.4h-5.73zM202.6 211.2h5.73v2.4h-5.73zM208.34 163.2h5.73v2.4h-5.73zM208.34 208.8h5.73v2.4h-5.73zM214.07 206.4h5.73v2.4h-5.73zM219.8 204h5.73v2.4h-5.73zM248.47 194.4h5.73v2.4h-5.73zM265.67 146.4h5.73v2.4h-5.73zM265.67 194.4h5.73v2.4h-5.73zM277.14 148.8h5.73v2.4h-5.73zM277.14 196.8h5.73v2.4h-5.73zM288.61 199.2h5.73v2.4h-5.73zM311.54 156h5.73v2.4h-5.73zM311.54 204h5.73v2.4h-5.73zM328.74 206.4h5.73v2.4h-5.73zM340.21 208.8h5.73v2.4h-5.73zM345.94 158.4h5.73v2.4h-5.73zM351.67 211.2h5.73v2.4h-5.73zM357.41 213.6h5.73v2.4h-5.73zM363.14 163.2h5.73v2.4h-5.73zM368.87 218.4h5.73v2.4h-5.73zM386.07 175.2h5.73v2.4h-5.73zM391.81 230.4h5.73v2.4h-5.73zM403.27 182.4h5.73v2.4h-5.73zM403.27 232.8h5.73v2.4h-5.73zM431.94 187.2h5.73v2.4h-5.73zM466.34 194.4h5.73v2.4h-5.73zM477.81 196.8h5.73v2.4h-5.73zM489.28 199.2h5.73v2.4h-5.73zM495.01 201.6h5.73v2.4h-5.73zM500.74 206.4h5.73v2.4h-5.73zM506.48 216h5.73v2.4h-5.73zM529.41 216h5.73v2.4h-5.73zM535.15 216h5.73v2.4h-5.73zM540.88 216h5.73v2.4h-5.73zM575.28 213.6h5.73v2.4h-5.73zM586.75 211.2h5.73v2.4h-5.73zM615.41 206.4h5.73v2.4h-5.73zM621.15 204h5.73v2.4h-5.73zM632.61 199.2h5.73v2.4h-5.73zM655.55 192h5.73v2.4h-5.73zM661.28 189.6h5.73v2.4h-5.73zM678.48 184.8h5.73v2.4h-5.73zM701.42 211.2h5.73v2.4h-5.73zM707.15 211.2h5.73v2.4h-5.73zM735.82 177.6h5.73v2.4h-5.73z"/>
<path fill="#b2dd2d" d="M185.4 177.6h5.73v2.4h-5.73zM191.14 177.6h5.73v2.4h-5.73zM202.6 172.8h5.73v2.4h-5.73zM225.54 194.4h5.73v2.4h-5.73zM231.27 160.8h5.73v2.4h-5.73zM231.27 192h5.73v2.4h-5.73zM254.2 151.2h5.73v2.4h-5.73zM254.2 182.4h5.73v2.4h-5.73zM259.94 182.4h5.73v2.4h-5.73zM271.4 153.6h5.73v2.4h-5.73zM288.61 158.4h5.73v2.4h-5.73zM317.27 196.8h5.73v2.4h-5.73zM323.01 163.2h5.73v2.4h-5.73zM363.14 170.4h5.73v2.4h-5.73zM368.87 172.8h5.73v2.4h-5.73zM374.61 213.6h5.73v2.4h-5.73zM386.07 182.4h5.73v2.4h-5.73zM397.54 225.6h5.73v2.4h-5.73zM403.27 189.6h5.73v2.4h-5.73zM414.74 192h5.73v2.4h-5.73zM454.88 199.2h5.73v2.4h-5.73zM472.08 204h5.73v2.4h-5.73zM500.74 220.8h5.73v2.4h-5.73zM649.82 199.2h5.73v2.4h-5.73zM730.08 182.4h5.73v2.4h-5.73z"/>
<path fill="#54c568" d="M185.4 192h5.73v2.4h-5.73zM231.27 180h5.73v2.4h-5.73zM311.54 172.8h5.73v2.4h-5.73zM340.21 175.2h5.73v2.4h-5.73zM345.94 184.8h5.73v2.4h-5.73zM374.61 201.6h5.73v2.4h-5.73zM420.48 228h5.73v2.4h-5.73zM431.94 218.4h5.73v2.4h-5.73zM437.68 218.4h5.73v2.4h-5.73zM443.41 218.4h5.73v2.4h-5.73zM449.14 211.2h5.73v2.4h-5.73zM449.14 218.4h5.73v2.4h-5.73zM454.88 218.4h5.73v2.4h-5.73z"/>
<path fill="#38b977" d="M185.4 194.4h5.73v2.4h-5.73zM208.34 189.6h5.73v2.4h-5.73zM214.07 182.4h5.73v2.4h-5.73zM225.54 180h5.73v2.4h-5.73zM259.94 165.6h5.73v2.4h-5.73zM277.14 170.4h5.73v2.4h-5.73zM351.67 180h5.73v2.4h-5.73zM414.74 206.4h5.73v2.4h-5.73zM661.28 211.2h5.73v2.4h-5.73z"/>
<path fill="#2fb47c" d="M185.4 196.8h5.73v2.4h-5.73zM323.01 177.6h5.73v2.4h-5.73zM334.47 180h5.73v2.4h-5.73zM340.21 180h5.73v2.4h-5.73zM345.94 180h5.73v2.4h-5.73zM374.61 196.8h5.73v2.4h-5.73zM391.81 201.6h5.73v2.4h-5.73zM420.48 211.2h5.73v2.4h-5.73zM431.94 230.4h5.73v2.4h-5.73zM695.68 192h5.73v2.4h-5.73zM741.55 187.2h5.73v2.4h-5.73z"/>
<path fill="#3dbc74" d="M185.4 199.2h5.73v2.4h-5.73zM231.27 172.8h5.73v2.4h-5.73zM265.67 163.2h5.73v2.4h-5.73zM311.54 180h5.73v2.4h-5.73zM317.27 175.2h5.73v2.4h-5.73zM340.21 182.4h5.73v2.4h-5.73zM351.67 184.8h5.73v2.4h-5.73zM357.41 187.2h5.73v2.4h-5.73zM374.61 199.2h5.73v2.4h-5.73zM672.75 208.8h5.73v2.4h-5.73zM684.22 206.4h5.73v2.4h-5.73z"/>
<path fill="#5cc863" d="M185.4 201.6h5.73v2.4h-5.73zM225.54 172.8h5.73v2.4h-5.73zM265.67 160.8h5.73v2.4h-5.73zM265.67 170.4h5.73v2.4h-5.73zM334.47 184.8h5.73v2.4h-5.73zM414.74 218.4h5.73v2.4h-5.73zM454.88 211.2h5.73v2.4h-5.73zM460.61 213.6h5.73v2.4h-5.73zM466.34 218.4h5.73v2.4h-5.73zM609.68 220.8h5.73v2.4h-5.73zM644.08 204h5.73v2.4h-5.73zM724.35 187.2h5.73v2.4h-5.73zM735.82 201.6h5.73v2.4h-5.73z"/>
<path fill="#70cf57" d="M191.14 189.6h5.73v2.4h-5.73zM208.34 180h5.73v2.4h-5.73zM271.4 160.8h5.73v2.4h-5.73zM311.54 184.8h5.73v2.4h-5.73zM351.67 175.2h5.73v2.4h-5.73zM695.68 206.4h5.73v2.4h-5.73zM741.55 184.8h5.73v2.4h-5.73z"/>
<path fill="#56c667" d="M191.14 192h5.73v2.4h-5.73zM282.87 175.2h5.73v2.4h-5.73zM288.61 168h5.73v2.4h-5.73zM351.67 187.2h5.73v2.4h-5.73zM357.41 189.6h5.73v2.4h-5.73zM397.54 216h5.73v2.4h-5.73zM420.48 204h5.73v2.4h-5.73zM426.21 218.4h5.73v2.4h-5.73zM431.94 206.4h5.73v2.4h-5.73zM454.88 225.6h5.73v2.4h-5.73zM460.61 216h5.73v2.4h-5.73zM638.35 216h5.73v2.4h-5.73z"/>
<path fill="#3bbb75" d="M191.14 194.4h5.73v2.4h-5.73zM231.27 177.6h5.73v2.4h-5.73zM248.47 168h5.73v2.4h-5.73zM282.87 172.8h5.73v2.4h-5.73zM345.94 177.6h5.73v2.4h-5.73zM397.54 213.6h5.73v2.4h-5.73zM426.21 208.8h5.73v2.4h-5.73zM431.94 211.2h5.73v4.8h-5.73zM678.48 194.4h5.73v2.4h-5.73z"/>
<path fill="#3fbc73" d="M191.14 199.2h5.73v2.4h-5.73zM208.34 184.8h5.73v2.4h-5.73zM282.87 168h5.73v2.4h-5.73zM288.61 175.2h5.73v2.4h-5.73zM300.07 172.8h5.73v2.4h-5.73zM592.48 223.2h5.73v2.4h-5.73z"/>
<path fill="#5ec962" d="M191.14 201.6h5.73v2.4h-5.73zM237 177.6h5.73v2.4h-5.73zM282.87 165.6h5.73v2.4h-5.73zM294.34 180h5.73v2.4h-5.73zM317.27 172.8h5.73v2.4h-5.73zM409.01 218.4h5.73v2.4h-5.73zM454.88 220.8h5.73v2.4h-5.73zM460.61 220.8h5.73v2.4h-5.73zM466.34 216h5.73v2.4h-5.73zM517.94 223.2h5.73v2.4h-5.73zM540.88 220.8h5.73v2.4h-5.73z"/>
<path fill="#7fd34e" d="M191.14 204h5.73v2.4h-5.73zM202.6 199.2h5.73v2.4h-5.73zM225.54 187.2h5.73v2.4h-5.73zM242.74 177.6h5.73v2.4h-5.73zM248.47 175.2h5.73v2.4h-5.73zM254.2 172.8h5.73v2.4h-5.73zM259.94 172.8h5.73v2.4h-5.73zM265.67 158.4h5.73v2.4h-5.73zM277.14 177.6h5.73v2.4h-5.73zM300.07 168h5.73v2.4h-5.73zM323.01 170.4h5.73v2.4h-5.73zM340.21 189.6h5.73v2.4h-5.73zM374.61 206.4h5.73v2.4h-5.73zM380.34 184.8h5.73v2.4h-5.73zM414.74 230.4h5.73v2.4h-5.73zM431.94 223.2h5.73v4.8h-5.73zM443.41 204h5.73v2.4h-5.73zM454.88 206.4h5.73v2.4h-5.73zM466.34 232.8h5.73v2.4h-5.73zM472.08 232.8h5.73v2.4h-5.73zM477.81 232.8h5.73v2.4h-5.73zM483.54 216h5.73v2.4h-5.73zM483.54 232.8h5.73v2.4h-5.73zM569.55 218.4h5.73v2.4h-5.73zM724.35 204h5.73v2.4h-5.73z"/>
<path fill="#cae11f" d="M196.87 165.6h5.73v2.4h-5.73zM202.6 208.8h5.73v2.4h-5.73zM208.34 206.4h5.73v2.4h-5.73zM231.27 196.8h5.73v2.4h-5.73zM237 194.4h5.73v2.4h-5.73zM242.74 192h5.73v2.4h-5.73zM248.47 189.6h5.73v2.4h-5.73zM265.67 148.8h5.73v2.4h-5.73zM265.67 189.6h5.73v2.4h-5.73zM277.14 151.2h5.73v2.4h-5.73zM311.54 158.4h5.73v2.4h-5.73zM317.27 201.6h5.73v2.4h-5.73zM334.47 204h5.73v2.4h-5.73zM345.94 160.8h5.73v2.4h-5.73zM374.61 218.4h5.73v2.4h-5.73zM391.81 228h5.73v2.4h-5.73zM414.74 232.8h5.73v2.4h-5.73zM426.21 189.6h5.73v2.4h-5.73zM454.88 194.4h5.73v2.4h-5.73zM472.08 199.2h5.73v2.4h-5.73zM489.28 204h5.73v2.4h-5.73zM517.94 220.8h5.73v2.4h-5.73zM603.95 211.2h5.73v2.4h-5.73zM644.08 199.2h5.73v2.4h-5.73zM649.82 196.8h5.73v2.4h-5.73zM689.95 211.2h5.73v2.4h-5.73zM730.08 180h5.73v2.4h-5.73z"/>
<path fill="#77d153" d="M196.87 184.8h5.73v2.4h-5.73zM288.61 165.6h5.73v2.4h-5.73zM305.81 184.8h5.73v2.4h-5.73zM323.01 187.2h5.73v2.4h-5.73zM345.94 172.8h5.73v2.4h-5.73zM386.07 189.6h5.73v2.4h-5.73zM386.07 213.6h5.73v2.4h-5.73zM414.74 220.8h5.73v2.4h-5.73zM426.21 201.6h5.73v2.4h-5.73zM483.54 218.4h5.73v2.4h-5.73z"/>
<path fill="#60ca60" d="M196.87 187.2h5.73v2.4h-5.73zM300.07 170.4h5.73v2.4h-5.73zM328.74 184.8h5.73v2.4h-5.73zM363.14 180h5.73v2.4h-5.73zM368.87 182.4h5.73v2.4h-5.73zM374.61 184.8h5.73v2.4h-5.73zM386.07 192h5.73v2.4h-5.73zM386.07 211.2h5.73v2.4h-5.73zM420.48 230.4h5.73v2.4h-5.73zM426.21 204h5.73v2.4h-5.73zM437.68 206.4h5.73v2.4h-5.73zM449.14 220.8h5.73v2.4h-5.73zM449.14 225.6h5.73v2.4h-5.73zM466.34 220.8h5.73v2.4h-5.73zM684.22 192h5.73v2.4h-5.73zM741.55 201.6h5.73v2.4h-5.73z"/>
<path fill="#48c16e" d="M196.87 189.6h5.73v2.4h-5.73zM196.87 196.8h5.73v2.4h-5.73zM202.6 187.2h5.73v2.4h-5.73zM328.74 175.2h5.73v2.4h-5.73zM368.87 184.8h5.73v2.4h-5.73zM374.61 187.2h5.73v2.4h-5.73zM386.07 194.4h5.73v2.4h-5.73zM386.07 208.8h5.73v2.4h-5.73z"/>
<path fill="#37b878" d="M196.87 192h5.73v4.8h-5.73zM237 172.8h5.73v2.4h-5.73zM248.47 165.6h5.73v2.4h-5.73zM254.2 163.2h5.73v2.4h-5.73zM271.4 165.6h5.73v4.8h-5.73zM311.54 175.2h5.73v2.4h-5.73zM340.21 177.6h5.73v2.4h-5.73zM357.41 182.4h5.73v2.4h-5.73zM363.14 189.6h5.73v2.4h-5.73zM426.21 213.6h5.73v2.4h-5.73z"/>
<path fill="#7ad151" d="M202.6 182.4h5.73v2.4h-5.73zM219.8 189.6h5.73v2.4h-5.73zM225.54 170.4h5.73v2.4h-5.73zM271.4 175.2h5.73v2.4h-5.73zM317.27 170.4h5.73v2.4h-5.73zM345.94 189.6h5.73v2.4h-5.73zM363.14 177.6h5.73v2.4h-5.73zM368.87 180h5.73v2.4h-5.73zM368.87 201.6h5.73v2.4h-5.73zM374.61 182.4h5.73v2.4h-5.73zM403.27 196.8h5.73v2.4h-5.73zM409.01 220.8h5.73v2.4h-5.73zM437.68 223.2h5.73v2.4h-5.73zM460.61 208.8h5.73v2.4h-5.73zM517.94 230.4h5.73v2.4h-5.73zM586.75 216h5.73v2.4h-5.73z"/>
<path fill="#63cb5f" d="M202.6 184.8h5.73v2.4h-5.73zM219.8 175.2h5.73v2.4h-5.73zM219.8 187.2h5.73v2.4h-5.73zM305.81 182.4h5.73v2.4h-5.73zM323.01 172.8h5.73v2.4h-5.73zM363.14 194.4h5.73v2.4h-5.73zM403.27 199.2h5.73v2.4h-5.73zM443.41 220.8h5.73v2.4h-5.73zM449.14 208.8h5.73v2.4h-5.73zM472.08 218.4h5.73v2.4h-5.73zM626.88 208.8h5.73v2.4h-5.73zM747.28 201.6h5.73v2.4h-5.73z"/>
<path fill="#46c06f" d="M202.6 194.4h5.73v2.4h-5.73zM219.8 177.6h5.73v2.4h-5.73zM219.8 184.8h5.73v2.4h-5.73zM242.74 165.6h5.73v2.4h-5.73zM248.47 163.2h5.73v2.4h-5.73zM277.14 165.6h5.73v2.4h-5.73zM305.81 180h5.73v2.4h-5.73zM328.74 182.4h5.73v2.4h-5.73zM363.14 182.4h5.73v2.4h-5.73zM426.21 230.4h5.73v2.4h-5.73zM437.68 216h5.73v2.4h-5.73zM443.41 213.6h5.73v2.4h-5.73zM472.08 225.6h5.73v2.4h-5.73zM689.95 192h5.73v2.4h-5.73z"/>
<path fill="#69cd5b" d="M214.07 177.6h5.73v2.4h-5.73zM242.74 175.2h5.73v2.4h-5.73zM300.07 182.4h5.73v2.4h-5.73zM317.27 184.8h5.73v2.4h-5.73zM328.74 172.8h5.73v2.4h-5.73zM374.61 204h5.73v2.4h-5.73zM397.54 196.8h5.73v2.4h-5.73zM431.94 220.8h5.73v2.4h-5.73zM443.41 225.6h5.73v2.4h-5.73zM454.88 223.2h5.73v2.4h-5.73zM472.08 216h5.73v2.4h-5.73zM472.08 223.2h5.73v2.4h-5.73zM477.81 220.8h5.73v2.4h-5.73z"/>
<path fill="#4ec36b" d="M214.07 180h5.73v2.4h-5.73zM225.54 182.4h5.73v2.4h-5.73zM237 168h5.73v2.4h-5.73zM271.4 163.2h5.73v2.4h-5.73zM294.34 170.4h5.73v2.4h-5.73zM334.47 175.2h5.73v2.4h-5.73zM357.41 180h5.73v2.4h-5.73zM368.87 196.8h5.73v2.4h-5.73zM437.68 208.8h5.73v2.4h-5.73zM730.08 201.6h5.73v2.4h-5.73z"/>
<path fill="#5ac864" d="M214.07 189.6h5.73v2.4h-5.73zM288.61 177.6h5.73v2.4h-5.73zM311.54 182.4h5.73v2.4h-5.73zM345.94 175.2h5.73v2.4h-5.73zM380.34 206.4h5.73v2.4h-5.73zM391.81 196.8h5.73v2.4h-5.73zM409.01 201.6h5.73v2.4h-5.73zM420.48 218.4h5.73v2.4h-5.73zM603.95 213.6h5.73v2.4h-5.73z"/>
<path fill="#8ed645" d="M219.8 192h5.73v2.4h-5.73zM231.27 165.6h5.73v2.4h-5.73zM242.74 180h5.73v2.4h-5.73zM248.47 177.6h5.73v2.4h-5.73zM254.2 175.2h5.73v2.4h-5.73zM259.94 175.2h5.73v2.4h-5.73zM282.87 182.4h5.73v2.4h-5.73zM288.61 163.2h5.73v2.4h-5.73zM311.54 189.6h5.73v2.4h-5.73zM334.47 192h5.73v2.4h-5.73zM345.94 170.4h5.73v2.4h-5.73zM386.07 187.2h5.73v2.4h-5.73zM420.48 223.2h5.73v2.4h-5.73zM426.21 199.2h5.73v2.4h-5.73zM449.14 232.8h5.73v2.4h-5.73zM483.54 213.6h5.73v2.4h-5.73zM495.01 223.2h5.73v2.4h-5.73zM672.75 211.2h5.73v2.4h-5.73z"/>
<path fill="#3aba76" d="M237 170.4h5.73v2.4h-5.73zM242.74 170.4h5.73v2.4h-5.73zM254.2 165.6h5.73v2.4h-5.73zM288.61 170.4h5.73v2.4h-5.73zM345.94 182.4h5.73v2.4h-5.73zM368.87 194.4h5.73v2.4h-5.73zM380.34 192h5.73v2.4h-5.73zM397.54 201.6h5.73v2.4h-5.73zM426.21 228h5.73v2.4h-5.73zM489.28 225.6h5.73v2.4h-5.73zM632.61 216h5.73v2.4h-5.73z"/>
<path fill="#89d548" d="M254.2 156h5.73v2.4h-5.73zM259.94 156h5.73v2.4h-5.73zM271.4 177.6h5.73v2.4h-5.73zM294.34 165.6h5.73v2.4h-5.73zM317.27 189.6h5.73v2.4h-5.73zM351.67 194.4h5.73v2.4h-5.73zM357.41 196.8h5.73v2.4h-5.73zM380.34 211.2h5.73v2.4h-5.73zM391.81 192h5.73v2.4h-5.73zM409.01 196.8h5.73v2.4h-5.73zM426.21 225.6h5.73v2.4h-5.73zM449.14 204h5.73v2.4h-5.73zM684.22 208.8h5.73v2.4h-5.73zM689.95 189.6h5.73v2.4h-5.73z"/>
<path fill="#4ac16d" d="M254.2 160.8h5.73v2.4h-5.73zM259.94 160.8h5.73v2.4h-5.73zM305.81 172.8h5.73v2.4h-5.73zM323.01 182.4h5.73v2.4h-5.73zM363.14 192h5.73v2.4h-5.73zM403.27 201.6h5.73v2.4h-5.73zM443.41 216h5.73v2.4h-5.73zM466.34 225.6h5.73v2.4h-5.73zM712.88 189.6h5.73v2.4h-5.73zM712.88 204h5.73v2.4h-5.73z"/>
<path fill="#73d056" d="M265.67 172.8h5.73v2.4h-5.73zM288.61 180h5.73v2.4h-5.73zM311.54 170.4h5.73v2.4h-5.73zM334.47 187.2h5.73v2.4h-5.73zM340.21 172.8h5.73v2.4h-5.73zM380.34 208.8h5.73v2.4h-5.73zM391.81 194.4h5.73v2.4h-5.73zM397.54 218.4h5.73v2.4h-5.73zM409.01 199.2h5.73v2.4h-5.73zM414.74 228h5.73v2.4h-5.73zM420.48 220.8h5.73v2.4h-5.73zM437.68 225.6h5.73v2.4h-5.73zM472.08 213.6h5.73v2.4h-5.73zM483.54 220.8h5.73v4.8h-5.73zM649.82 201.6h5.73v2.4h-5.73zM695.68 189.6h5.73v2.4h-5.73z"/>
<path fill="#4cc26c" d="M271.4 170.4h5.73v2.4h-5.73zM391.81 213.6h5.73v2.4h-5.73zM403.27 216h5.73v2.4h-5.73zM414.74 204h5.73v2.4h-5.73zM426.21 206.4h5.73v2.4h-5.73zM443.41 211.2h5.73v2.4h-5.73zM449.14 213.6h5.73v4.8h-5.73z"/>
<path fill="#31b57b" d="M288.61 172.8h5.73v2.4h-5.73zM294.34 175.2h5.73v2.4h-5.73zM305.81 175.2h5.73v4.8h-5.73zM328.74 177.6h5.73v4.8h-5.73zM351.67 182.4h5.73v2.4h-5.73zM357.41 184.8h5.73v2.4h-5.73zM409.01 206.4h5.73v2.4h-5.73zM592.48 216h5.73v2.4h-5.73z"/>
<path fill="#2eb37c" d="M300.07 175.2h5.73v2.4h-5.73zM311.54 177.6h5.73v2.4h-5.73zM317.27 177.6h5.73v2.4h-5.73zM363.14 187.2h5.73v2.4h-5.73zM368.87 192h5.73v2.4h-5.73zM414.74 208.8h5.73v2.4h-5.73zM649.82 213.6h5.73v2.4h-5.73z"/>
<path fill="#2cb17e" d="M368.87 189.6h5.73v2.4h-5.73zM414.74 211.2h5.73v2.4h-5.73z"/>
<path fill="#2db27d" d="M380.34 194.4h5.73v2.4h-5.73zM506.48 230.4h5.73v2.4h-5.73zM747.28 187.2h5.73v2.4h-5.73z"/>
<path fill="#27ad81" d="M380.34 196.8h5.73v2.4h-5.73zM546.61 220.8h5.73v2.4h-5.73zM672.75 196.8h5.73v2.4h-5.73z"/>
<path fill="#26ad81" d="M386.07 201.6h5.73v2.4h-5.73zM391.81 204h5.73v2.4h-5.73zM523.68 223.2h5.73v2.4h-5.73zM638.35 206.4h5.73v2.4h-5.73zM701.42 192h5.73v2.4h-5.73zM707.15 192h5.73v2.4h-5.73zM753.02 199.2h2.98v2.4h-2.98z"/>
<path fill="#25ab82" d="M391.81 206.4h5.73v2.4h-5.73z"/>
<path fill="#28ae80" d="M391.81 208.8h5.73v2.4h-5.73zM403.27 211.2h5.73v2.4h-5.73zM431.94 228h5.73v2.4h-5.73z"/>
<path fill="#24aa83" d="M397.54 206.4h5.73v4.8h-5.73zM747.28 199.2h5.73v2.4h-5.73z"/>
<path fill="#1fa187" d="M437.68 228h5.73v2.4h-5.73zM667.02 208.8h5.73v2.4h-5.73z"/>
<path fill="#22a785" d="M437.68 230.4h5.73v2.4h-5.73z"/>
<path fill="#1f958b" d="M443.41 228h5.73v2.4h-5.73z"/>
<path fill="#1e9c89" d="M443.41 230.4h5.73v2.4h-5.73z"/>
<path fill="#228c8d" d="M449.14 228h5.73v2.4h-5.73zM506.48 225.6h5.73v2.4h-5.73zM747.28 189.6h5.73v2.4h-5.73z"/>
<path fill="#20938c" d="M449.14 230.4h5.73v2.4h-5.73z"/>
<path fill="#26828e" d="M454.88 228h5.73v2.4h-5.73zM529.41 223.2h5.73v2.4h-5.73zM563.81 220.8h5.73v2.4h-5.73zM581.01 218.4h5.73v2.4h-5.73zM644.08 206.4h5.73v2.4h-5.73zM747.28 196.8h5.73v2.4h-5.73z"/>
<path fill="#228b8d" d="M454.88 230.4h5.73v2.4h-5.73zM701.42 201.6h5.73v2.4h-5.73zM707.15 201.6h5.73v2.4h-5.73z"/>
<path fill="#2a788e" d="M460.61 228h5.73v2.4h-5.73z"/>
<path fill="#25848e" d="M460.61 230.4h5.73v2.4h-5.73zM626.88 216h5.73v2.4h-5.73z"/>
<path fill="#2d718e" d="M466.34 228h5.73v2.4h-5.73zM483.54 230.4h5.73v2.4h-5.73zM655.55 204h5.73v2.4h-5.73z"/>
<path fill="#27808e" d="M466.34 230.4h5.73v2.4h-5.73zM718.62 199.2h5.73v2.4h-5.73z"/>
<path fill="#31688e" d="M472.08 228h5.73v2.4h-5.73zM735.82 194.4h5.73v2.4h-5.73z"/>
<path fill="#297b8e" d="M472.08 230.4h5.73v2.4h-5.73z"/>
<path fill="#34608d" d="M477.81 228h5.73v2.4h-5.73z"/>
<path fill="#2a768e" d="M477.81 230.4h5.73v2.4h-5.73zM689.95 201.6h5.73v2.4h-5.73zM712.88 194.4h5.73v2.4h-5.73z"/>
<path fill="#3a548c" d="M483.54 228h5.73v2.4h-5.73z"/>
<path fill="#404588" d="M489.28 228h5.73v2.4h-5.73z"/>
<path fill="#2c738e" d="M489.28 230.4h5.73v2.4h-5.73zM712.88 199.2h5.73v2.4h-5.73z"/>
<path fill="#46307e" d="M495.01 228h5.73v2.4h-5.73z"/>
<path fill="#24878e" d="M495.01 230.4h5.73v2.4h-5.73zM661.28 201.6h5.73v2.4h-5.73z"/>
<path fill="#1fa188" d="M500.74 225.6h5.73v2.4h-5.73zM621.15 211.2h5.73v2.4h-5.73zM689.95 204h5.73v2.4h-5.73z"/>
<path fill="#482475" d="M500.74 228h5.73v2.4h-5.73zM512.21 228h5.73v2.4h-5.73z"/>
<path fill="#1e9d89" d="M500.74 230.4h5.73v2.4h-5.73zM667.02 199.2h5.73v2.4h-5.73zM712.88 192h5.73v2.4h-5.73zM730.08 199.2h5.73v2.4h-5.73z"/>
<path fill="#482374" d="M506.48 228h5.73v2.4h-5.73z"/>
<path fill="#33628d" d="M512.21 225.6h5.73v2.4h-5.73zM678.48 201.6h5.73v2.4h-5.73zM689.95 199.2h5.73v2.4h-5.73z"/>
<path fill="#482677" d="M517.94 225.6h5.73v2.4h-5.73z"/>
<path fill="#443b84" d="M517.94 228h5.73v2.4h-5.73zM586.75 218.4h5.73v2.4h-5.73z"/>
<path fill="#440154" d="M523.68 225.6h5.73v2.4h-5.73zM529.41 225.6h5.73v2.4h-5.73zM535.15 225.6h5.73v2.4h-5.73zM540.88 225.6h5.73v2.4h-5.73zM546.61 223.2h5.73v2.4h-5.73zM552.35 223.2h5.73v2.4h-5.73zM558.08 223.2h5.73v2.4h-5.73zM563.81 223.2h5.73v2.4h-5.73zM569.55 223.2h5.73v2.4h-5.73zM575.28 220.8h5.73v4.8h-5.73zM581.01 220.8h5.73v2.4h-5.73zM586.75 220.8h5.73v2.4h-5.73zM592.48 218.4h5.73v4.8h-5.73zM598.21 218.4h5.73v2.4h-5.73zM603.95 218.4h5.73v2.4h-5.73zM609.68 216h5.73v2.4h-5.73zM615.41 216h5.73v2.4h-5.73zM621.15 213.6h5.73v4.8h-5.73zM626.88 213.6h5.73v2.4h-5.73zM632.61 211.2h5.73v2.4h-5.73zM638.35 211.2h5.73v2.4h-5.73z"/>
<path fill="#355e8d" d="M523.68 228h5.73v2.4h-5.73z"/>
<path fill="#25838e" d="M529.41 228h5.73v2.4h-5.73zM695.68 201.6h5.73v2.4h-5.73zM701.42 194.4h5.73v2.4h-5.73zM707.15 194.4h5.73v2.4h-5.73z"/>
<path fill="#3c4f8a" d="M535.15 223.2h5.73v2.4h-5.73z"/>
<path fill="#470e61" d="M540.88 223.2h5.73v2.4h-5.73z"/>
<path fill="#472e7c" d="M546.61 225.6h5.73v2.4h-5.73z"/>
<path fill="#20a386" d="M552.35 220.8h5.73v2.4h-5.73z"/>
<path fill="#453781" d="M552.35 225.6h5.73v2.4h-5.73z"/>
<path fill="#1f9a8a" d="M558.08 220.8h5.73v2.4h-5.73zM712.88 201.6h5.73v2.4h-5.73z"/>
<path fill="#433d84" d="M558.08 225.6h5.73v2.4h-5.73z"/>
<path fill="#443983" d="M569.55 220.8h5.73v2.4h-5.73z"/>
<path fill="#3d4e8a" d="M581.01 223.2h5.73v2.4h-5.73z"/>
<path fill="#218e8d" d="M586.75 223.2h5.73v2.4h-5.73zM718.62 192h5.73v2.4h-5.73zM724.35 199.2h5.73v2.4h-5.73zM741.55 189.6h5.73v2.4h-5.73z"/>
<path fill="#2b758e" d="M598.21 216h5.73v2.4h-5.73z"/>
<path fill="#3a538b" d="M598.21 220.8h5.73v2.4h-5.73z"/>
<path fill="#481a6c" d="M603.95 216h5.73v2.4h-5.73z"/>
<path fill="#1e9b8a" d="M603.95 220.8h5.73v2.4h-5.73z"/>
<path fill="#1f988b" d="M609.68 213.6h5.73v2.4h-5.73z"/>
<path fill="#48186a" d="M609.68 218.4h5.73v2.4h-5.73z"/>
<path fill="#3d4d8a" d="M615.41 213.6h5.73v2.4h-5.73zM661.28 206.4h5.73v2.4h-5.73z"/>
<path fill="#2c718e" d="M615.41 218.4h5.73v2.4h-5.73zM689.95 196.8h5.73v2.4h-5.73z"/>
<path fill="#472c7a" d="M626.88 211.2h5.73v2.4h-5.73z"/>
<path fill="#2c728e" d="M632.61 208.8h5.73v2.4h-5.73z"/>
<path fill="#482979" d="M632.61 213.6h5.73v2.4h-5.73zM644.08 208.8h5.73v2.4h-5.73z"/>
<path fill="#443a83" d="M638.35 208.8h5.73v2.4h-5.73z"/>
<path fill="#32658e" d="M638.35 213.6h5.73v2.4h-5.73z"/>
<path fill="#472f7d" d="M644.08 211.2h5.73v2.4h-5.73z"/>
<path fill="#238a8d" d="M644.08 213.6h5.73v2.4h-5.73zM695.68 194.4h5.73v2.4h-5.73zM753.02 189.6h2.98v2.4h-2.98z"/>
<path fill="#1fa088" d="M649.82 204h5.73v2.4h-5.73z"/>
<path fill="#39558c" d="M649.82 206.4h5.73v2.4h-5.73zM655.55 208.8h5.73v2.4h-5.73z"/>
<path fill="#46337f" d="M649.82 208.8h5.73v2.4h-5.73z"/>
<path fill="#306a8e" d="M649.82 211.2h5.73v2.4h-5.73zM701.42 199.2h5.73v2.4h-5.73zM707.15 199.2h5.73v2.4h-5.73zM747.28 194.4h5.73v2.4h-5.73z"/>
<path fill="#423f85" d="M655.55 206.4h5.73v2.4h-5.73z"/>
<path fill="#1f978b" d="M655.55 211.2h5.73v2.4h-5.73z"/>
<path fill="#3b528b" d="M661.28 204h5.73v2.4h-5.73z"/>
<path fill="#277f8e" d="M661.28 208.8h5.73v2.4h-5.73zM672.75 199.2h5.73v2.4h-5.73zM735.82 196.8h5.73v2.4h-5.73z"/>
<path fill="#30698e" d="M667.02 201.6h5.73v2.4h-5.73zM695.68 196.8h5.73v2.4h-5.73zM741.55 194.4h5.73v2.4h-5.73z"/>
<path fill="#3c508b" d="M667.02 204h5.73v2.4h-5.73z"/>
<path fill="#2e6d8e" d="M667.02 206.4h5.73v2.4h-5.73zM718.62 194.4h5.73v2.4h-5.73zM724.35 196.8h5.73v2.4h-5.73z"/>
<path fill="#365d8d" d="M672.75 201.6h5.73v2.4h-5.73z"/>
<path fill="#33638d" d="M672.75 204h5.73v2.4h-5.73zM684.22 199.2h5.73v2.4h-5.73z"/>
<path fill="#228d8d" d="M672.75 206.4h5.73v2.4h-5.73z"/>
<path fill="#20928c" d="M678.48 196.8h5.73v2.4h-5.73z"/>
<path fill="#2f6c8e" d="M678.48 199.2h5.73v2.4h-5.73zM753.02 194.4h2.98v2.4h-2.98z"/>
<path fill="#287d8e" d="M678.48 204h5.73v2.4h-5.73z"/>
<path fill="#23a983" d="M678.48 206.4h5.73v2.4h-5.73zM684.22 194.4h5.73v2.4h-5.73zM718.62 201.6h5.73v2.4h-5.73z"/>
<path fill="#277e8e" d="M684.22 196.8h5.73v2.4h-5.73z"/>
<path fill="#2f6b8e" d="M684.22 201.6h5.73v2.4h-5.73z"/>
<path fill="#21918c" d="M684.22 204h5.73v2.4h-5.73z"/>
<path fill="#1f998a" d="M689.95 194.4h5.73v2.4h-5.73zM730.08 189.6h5.73v2.4h-5.73z"/>
<path fill="#31668e" d="M695.68 199.2h5.73v2.4h-5.73zM701.42 196.8h5.73v2.4h-5.73zM730.08 194.4h5.73v2.4h-5.73z"/>
<path fill="#31678e" d="M707.15 196.8h5.73v2.4h-5.73zM718.62 196.8h5.73v2.4h-5.73zM724.35 194.4h5.73v2.4h-5.73z"/>
<path fill="#32648e" d="M712.88 196.8h5.73v2.4h-5.73z"/>
<path fill="#22a884" d="M724.35 189.6h5.73v2.4h-5.73zM741.55 199.2h5.73v2.4h-5.73z"/>
<path fill="#26818e" d="M724.35 192h5.73v2.4h-5.73zM741.55 196.8h5.73v2.4h-5.73z"/>
<path fill="#2b748e" d="M730.08 192h5.73v2.4h-5.73z"/>
<path fill="#2a778e" d="M730.08 196.8h5.73v2.4h-5.73z"/>
<path fill="#21908d" d="M735.82 189.6h5.73v2.4h-5.73z"/>
<path fill="#2d708e" d="M735.82 192h5.73v2.4h-5.73z"/>
<path fill="#21a685" d="M735.82 199.2h5.73v2.4h-5.73z"/>
<path fill="#2e6f8e" d="M741.55 192h5.73v2.4h-5.73z"/>
<path fill="#2e6e8e" d="M747.28 192h5.73v2.4h-5.73zM753.02 192h2.98v2.4h-2.98z"/>
<path fill="#25858e" d="M753.02 196.8h2.98v2.4h-2.98z"/>
</g>
<polyline clip-path="url(#ax)" points="259.6,159 312.4,173 337,204.4 398,227.4 504,174 513,171 534,181.5 549.5,211.5 593.3,227 610.8,271.6 756.4,249.3" fill="none" stroke="#5c5c5c" stroke-width="3.1" stroke-linejoin="round" shape-rendering="auto"/>
<polyline clip-path="url(#ax)" points="260,343.4 291,340 352.2,340 397.8,346.3 426.7,332.9 470.3,296.9 510,278.9 519.3,278.9 531,298 564.8,333.5 577.2,339.6 594,329.5 616.6,365.9 639.6,383.5 663.7,389.9 693.5,389.9 716.1,384.2 745.9,384.2 756.4,385.9" fill="none" stroke="#5c5c5c" stroke-width="3.1" stroke-linejoin="round" shape-rendering="auto"/>
<rect x="154" y="60" width="1" height="360" fill="#b0b0b0"/><rect x="181" y="60" width="1" height="360" fill="#b0b0b0"/><rect x="200" y="60" width="1" height="360" fill="#b0b0b0"/><rect x="215" y="60" width="1" height="360" fill="#b0b0b0"/><rect x="227" y="60" width="1" height="360" fill="#b0b0b0"/><rect x="237" y="60" width="1" height="360" fill="#b0b0b0"/><rect x="246" y="60" width="1" height="360" fill="#b0b0b0"/><rect x="253" y="60" width="1" height="360" fill="#b0b0b0"/><rect x="260" y="60" width="1" height="360" fill="#b0b0b0"/><rect x="306" y="60" width="1" height="360" fill="#b0b0b0"/><rect x="333" y="60" width="1" height="360" fill="#b0b0b0"/><rect x="352" y="60" width="1" height="360" fill="#b0b0b0"/><rect x="367" y="60" width="1" height="360" fill="#b0b0b0"/><rect x="379" y="60" width="1" height="360" fill="#b0b0b0"/><rect x="389" y="60" width="1" height="360" fill="#b0b0b0"/><rect x="398" y="60" width="1" height="360" fill="#b0b0b0"/><rect x="406" y="60" width="1" height="360" fill="#b0b0b0"/><rect x="413" y="60" width="1" height="360" fill="#b0b0b0"/><rect x="459" y="60" width="1" height="360" fill="#b0b0b0"/><rect x="485" y="60" width="1" height="360" fill="#b0b0b0"/><rect x="504" y="60" width="1" height="360" fill="#b0b0b0"/><rect x="519" y="60" width="1" height="360" fill="#b0b0b0"/><rect x="531" y="60" width="1" height="360" fill="#b0b0b0"/><rect x="542" y="60" width="1" height="360" fill="#b0b0b0"/><rect x="550" y="60" width="1" height="360" fill="#b0b0b0"/><rect x="558" y="60" width="1" height="360" fill="#b0b0b0"/><rect x="565" y="60" width="1" height="360" fill="#b0b0b0"/><rect x="611" y="60" width="1" height="360" fill="#b0b0b0"/><rect x="638" y="60" width="1" height="360" fill="#b0b0b0"/><rect x="657" y="60" width="1" height="360" fill="#b0b0b0"/><rect x="672" y="60" width="1" height="360" fill="#b0b0b0"/><rect x="684" y="60" width="1" height="360" fill="#b0b0b0"/><rect x="694" y="60" width="1" height="360" fill="#b0b0b0"/><rect x="703" y="60" width="1" height="360" fill="#b0b0b0"/><rect x="711" y="60" width="1" height="360" fill="#b0b0b0"/><rect x="717" y="60" width="1" height="360" fill="#b0b0b0"/><rect x="108" y="84" width="648" height="1" fill="#b0b0b0"/><rect x="108" y="132" width="648" height="1" fill="#b0b0b0"/><rect x="108" y="180" width="648" height="1" fill="#b0b0b0"/><rect x="108" y="228" width="648" height="1" fill="#b0b0b0"/><rect x="108" y="276" width="648" height="1" fill="#b0b0b0"/><rect x="108" y="324" width="648" height="1" fill="#b0b0b0"/><rect x="108" y="372" width="648" height="1" fill="#b0b0b0"/>
<rect x="108" y="60" width="1" height="361" fill="#000"/><rect x="756" y="60" width="1" height="361" fill="#000"/><rect x="108" y="60" width="649" height="1" fill="#000"/><rect x="108" y="420" width="649" height="1" fill="#000"/>
<rect x="103.1" y="84" width="4.9" height="1" fill="#000"/><rect x="103.1" y="132" width="4.9" height="1" fill="#000"/><rect x="103.1" y="180" width="4.9" height="1" fill="#000"/><rect x="103.1" y="228" width="4.9" height="1" fill="#000"/><rect x="103.1" y="276" width="4.9" height="1" fill="#000"/><rect x="103.1" y="324" width="4.9" height="1" fill="#000"/><rect x="103.1" y="372" width="4.9" height="1" fill="#000"/><rect x="103.1" y="420" width="4.9" height="1" fill="#000"/><rect x="108" y="420" width="1" height="6" fill="#000"/><rect x="154" y="420" width="1" height="4" fill="#000"/><rect x="181" y="420" width="1" height="4" fill="#000"/><rect x="200" y="420" width="1" height="4" fill="#000"/><rect x="215" y="420" width="1" height="4" fill="#000"/><rect x="227" y="420" width="1" height="4" fill="#000"/><rect x="237" y="420" width="1" height="4" fill="#000"/><rect x="246" y="420" width="1" height="4" fill="#000"/><rect x="253" y="420" width="1" height="4" fill="#000"/><rect x="260" y="420" width="1" height="6" fill="#000"/><rect x="306" y="420" width="1" height="4" fill="#000"/><rect x="333" y="420" width="1" height="4" fill="#000"/><rect x="352" y="420" width="1" height="4" fill="#000"/><rect x="367" y="420" width="1" height="4" fill="#000"/><rect x="379" y="420" width="1" height="4" fill="#000"/><rect x="389" y="420" width="1" height="4" fill="#000"/><rect x="398" y="420" width="1" height="4" fill="#000"/><rect x="406" y="420" width="1" height="4" fill="#000"/><rect x="413" y="420" width="1" height="6" fill="#000"/><rect x="459" y="420" width="1" height="4" fill="#000"/><rect x="485" y="420" width="1" height="4" fill="#000"/><rect x="504" y="420" width="1" height="4" fill="#000"/><rect x="519" y="420" width="1" height="4" fill="#000"/><rect x="531" y="420" width="1" height="4" fill="#000"/><rect x="542" y="420" width="1" height="4" fill="#000"/><rect x="550" y="420" width="1" height="4" fill="#000"/><rect x="558" y="420" width="1" height="4" fill="#000"/><rect x="565" y="420" width="1" height="6" fill="#000"/><rect x="611" y="420" width="1" height="4" fill="#000"/><rect x="638" y="420" width="1" height="4" fill="#000"/><rect x="657" y="420" width="1" height="4" fill="#000"/><rect x="672" y="420" width="1" height="4" fill="#000"/><rect x="684" y="420" width="1" height="4" fill="#000"/><rect x="694" y="420" width="1" height="4" fill="#000"/><rect x="703" y="420" width="1" height="4" fill="#000"/><rect x="711" y="420" width="1" height="4" fill="#000"/><rect x="717" y="420" width="1" height="6" fill="#000"/>
<text x="121" y="52.2" font-size="14" text-anchor="start" fill="#000" textLength="622.5" lengthAdjust="spacing">HI.MSL1..HNZ | 100.0Hz | 2020-01-01T00:00:05 - 2025-12-13T23:00:00 | 79503 segments</text>
<text x="69.5" y="89.5" font-size="14" text-anchor="start" fill="#000" textLength="27.5" lengthAdjust="spacingAndGlyphs">−60</text>
<text x="69.5" y="137.5" font-size="14" text-anchor="start" fill="#000" textLength="27.5" lengthAdjust="spacingAndGlyphs">−80</text>
<text x="61.9" y="185.5" font-size="14" text-anchor="start" fill="#000" textLength="35.6" lengthAdjust="spacingAndGlyphs">−100</text>
<text x="61.9" y="233.5" font-size="14" text-anchor="start" fill="#000" textLength="35.6" lengthAdjust="spacingAndGlyphs">−120</text>
<text x="61.9" y="281.5" font-size="14" text-anchor="start" fill="#000" textLength="35.6" lengthAdjust="spacingAndGlyphs">−140</text>
<text x="61.9" y="329.5" font-size="14" text-anchor="start" fill="#000" textLength="35.6" lengthAdjust="spacingAndGlyphs">−160</text>
<text x="61.9" y="377.5" font-size="14" text-anchor="start" fill="#000" textLength="35.6" lengthAdjust="spacingAndGlyphs">−180</text>
<text x="61.9" y="425.5" font-size="14" text-anchor="start" fill="#000" textLength="35.6" lengthAdjust="spacingAndGlyphs">−200</text>
<text x="108.5" y="441" font-size="14" text-anchor="middle" fill="#000" textLength="28.5" lengthAdjust="spacingAndGlyphs">0.01</text>
<text x="260.5" y="441" font-size="14" text-anchor="middle" fill="#000" textLength="20" lengthAdjust="spacingAndGlyphs">0.1</text>
<text x="413.5" y="441" font-size="14" text-anchor="middle" fill="#000" textLength="8.5" lengthAdjust="spacingAndGlyphs">1</text>
<text x="565.5" y="441" font-size="14" text-anchor="middle" fill="#000" textLength="16.5" lengthAdjust="spacingAndGlyphs">10</text>
<text x="717.5" y="441" font-size="14" text-anchor="middle" fill="#000" textLength="24.5" lengthAdjust="spacingAndGlyphs">100</text>
<text x="399.5" y="459.4" font-size="14" text-anchor="start" fill="#000" textLength="64.5" lengthAdjust="spacingAndGlyphs">Period [s]</text>
<text transform="translate(47.5,240.2) rotate(-90)" font-size="14.0" text-anchor="middle" textLength="180" lengthAdjust="spacing">Amplitude [<tspan font-style="italic">m</tspan><tspan font-size="9.7" dy="-5">2</tspan><tspan dy="5">/</tspan><tspan font-style="italic">s</tspan><tspan font-size="9.7" dy="-5">4</tspan><tspan dy="5">/</tspan><tspan font-style="italic">Hz</tspan>] [dB]</text>
<rect x="797" y="60.0" width="18" height="360.0" fill="url(#cb)"/>
<rect x="797" y="60" width="1" height="361" fill="#000"/><rect x="815" y="60" width="1" height="361" fill="#000"/><rect x="797" y="60" width="19" height="1" fill="#000"/><rect x="797" y="420" width="19" height="1" fill="#000"/>
<text x="825.3" y="65.5" font-size="14" text-anchor="start" fill="#000" textLength="15.8" lengthAdjust="spacingAndGlyphs">30</text>
<text x="825.3" y="125.5" font-size="14" text-anchor="start" fill="#000" textLength="15.8" lengthAdjust="spacingAndGlyphs">25</text>
<text x="825.3" y="185.5" font-size="14" text-anchor="start" fill="#000" textLength="15.8" lengthAdjust="spacingAndGlyphs">20</text>
<text x="825.3" y="245.5" font-size="14" text-anchor="start" fill="#000" textLength="15.8" lengthAdjust="spacingAndGlyphs">15</text>
<text x="825.3" y="305.5" font-size="14" text-anchor="start" fill="#000" textLength="15.8" lengthAdjust="spacingAndGlyphs">10</text>
<text x="825.3" y="365.5" font-size="14" text-anchor="start" fill="#000" textLength="7.8" lengthAdjust="spacingAndGlyphs">5</text>
<text x="825.3" y="425.5" font-size="14" text-anchor="start" fill="#000" textLength="7.8" lengthAdjust="spacingAndGlyphs">0</text>
<rect x="815" y="60" width="5" height="1" fill="#000"/><rect x="815" y="120" width="5" height="1" fill="#000"/><rect x="815" y="180" width="5" height="1" fill="#000"/><rect x="815" y="240" width="5" height="1" fill="#000"/><rect x="815" y="300" width="5" height="1" fill="#000"/><rect x="815" y="360" width="5" height="1" fill="#000"/><rect x="815" y="420" width="5" height="1" fill="#000"/>
<text transform="translate(858,242.3) rotate(-90)" font-size="14.0" text-anchor="middle">[%]</text>
<rect x="164.2" y="474" width="288.4" height="10" fill="#008000"/>
<rect x="164.2" y="484" width="288.4" height="14" fill="#0000ff"/>
<rect x="549.2" y="474" width="185.6" height="10" fill="#008000"/>
<rect x="549.2" y="484" width="185.6" height="14" fill="#0000ff"/>
<rect x="221.9" y="474" width="2" height="24" fill="#fff"/><rect x="253.3" y="474" width="1" height="24" fill="#fff"/><rect x="255.5" y="474" width="1" height="24" fill="#fff"/><rect x="377.9" y="474" width="1" height="24" fill="#fff"/><rect x="390.8" y="474" width="2" height="24" fill="#fff"/><rect x="398.9" y="474" width="1" height="24" fill="#fff"/><rect x="632.9" y="474" width="1" height="24" fill="#fff"/><rect x="664.9" y="474" width="1" height="24" fill="#fff"/><rect x="714" y="474" width="3" height="24" fill="#fff"/><rect x="721.7" y="474" width="1" height="24" fill="#fff"/><rect x="729.8" y="474" width="1" height="24" fill="#fff"/><rect x="732" y="474" width="1" height="24" fill="#fff"/><rect x="184.6" y="484" width="1" height="14" fill="#fff"/><rect x="233.9" y="484" width="1" height="14" fill="#fff"/><rect x="271.9" y="484" width="1" height="14" fill="#fff"/><rect x="282.8" y="484" width="1" height="14" fill="#fff"/><rect x="331" y="484" width="2" height="14" fill="#fff"/><rect x="381.1" y="484" width="1" height="14" fill="#fff"/><rect x="429.9" y="484" width="1" height="14" fill="#fff"/><rect x="620.9" y="484" width="1" height="14" fill="#fff"/>
<rect x="135" y="474" width="1" height="25" fill="#000"/><rect x="765" y="474" width="1" height="25" fill="#000"/><rect x="135" y="474" width="631" height="1" fill="#000"/><rect x="135" y="498" width="631" height="1" fill="#000"/>
<text transform="translate(161.2,518) rotate(-30)" font-size="14.0" text-anchor="end" textLength="35" lengthAdjust="spacingAndGlyphs">2020</text>
<text transform="translate(257.2,518) rotate(-30)" font-size="14.0" text-anchor="end" textLength="35" lengthAdjust="spacingAndGlyphs">2021</text>
<text transform="translate(353.2,518) rotate(-30)" font-size="14.0" text-anchor="end" textLength="35" lengthAdjust="spacingAndGlyphs">2022</text>
<text transform="translate(449.6,518) rotate(-30)" font-size="14.0" text-anchor="end" textLength="35" lengthAdjust="spacingAndGlyphs">2023</text>
<text transform="translate(546.2,518) rotate(-30)" font-size="14.0" text-anchor="end" textLength="35" lengthAdjust="spacingAndGlyphs">2024</text>
<text transform="translate(642.4,518) rotate(-30)" font-size="14.0" text-anchor="end" textLength="35" lengthAdjust="spacingAndGlyphs">2025</text>
<text transform="translate(738.5,518) rotate(-30)" font-size="14.0" text-anchor="end" textLength="35" lengthAdjust="spacingAndGlyphs">2026</text>
<rect x="164" y="498" width="1" height="5" fill="#000"/><rect x="260" y="498" width="1" height="5" fill="#000"/><rect x="356" y="498" width="1" height="5" fill="#000"/><rect x="453" y="498" width="1" height="5" fill="#000"/><rect x="549" y="498" width="1" height="5" fill="#000"/><rect x="645" y="498" width="1" height="5" fill="#000"/><rect x="742" y="498" width="1" height="5" fill="#000"/>
<rect x="0" y="577" width="900" height="23" fill="#7f7f7f"/>
<text x="9" y="594.7" font-size="14" text-anchor="start" fill="#fff" textLength="535" lengthAdjust="spacing">Generated by SeedPSD on 2025-12-15 | Calculations updated on 2025-12-14</text>
</svg></body></html>
